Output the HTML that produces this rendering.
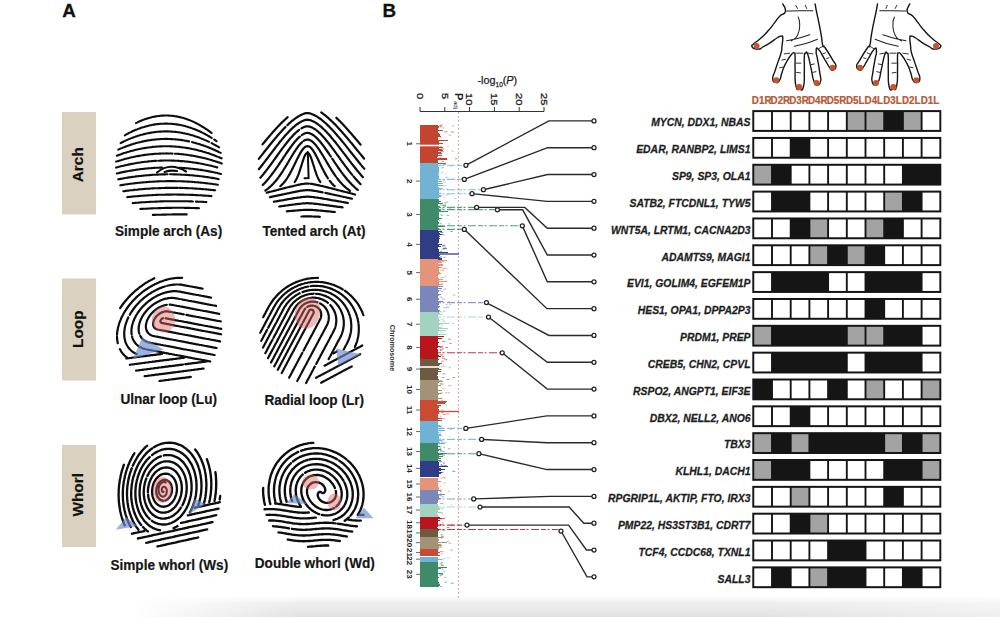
<!DOCTYPE html>
<html><head><meta charset="utf-8"><style>
html,body{margin:0;padding:0;background:#fff;}
body{width:1000px;height:617px;overflow:hidden;position:relative;}
svg{position:absolute;left:0;top:0;}
.shade{position:absolute;left:0;top:596px;width:1000px;height:21px;
background:linear-gradient(to bottom, rgba(226,226,226,0) 0%, rgba(232,232,232,0.75) 35%, rgba(226,226,226,1) 100%);
-webkit-mask-image:linear-gradient(to right, rgba(0,0,0,0) 130px, rgba(0,0,0,1) 300px, rgba(0,0,0,1) 760px, rgba(0,0,0,0.55) 1000px);}
</style></head><body>
<div class="shade"></div>
<svg width="1000" height="617" viewBox="0 0 1000 617" font-family='"Liberation Sans", sans-serif'>
<text transform="translate(62.2,17.4)" font-size="18.8" font-weight="bold" fill="#111" stroke="#111" stroke-width="0.3">A</text>
<text transform="translate(382.6,17.4)" font-size="18.8" font-weight="bold" fill="#111" stroke="#111" stroke-width="0.3">B</text>
<rect x="62" y="112" width="34" height="102.5" fill="#dad1c0"/>
<text x="0" y="0" transform="translate(82.6,164.75) rotate(-90)" text-anchor="middle" font-size="15.4" font-weight="bold" fill="#111" stroke="#111" stroke-width="0.2">Arch</text>
<rect x="62" y="278.5" width="34" height="102.0" fill="#dad1c0"/>
<text x="0" y="0" transform="translate(82.6,329.2) rotate(-90)" text-anchor="middle" font-size="15.4" font-weight="bold" fill="#111" stroke="#111" stroke-width="0.2">Loop</text>
<rect x="62" y="445" width="34" height="102" fill="#dad1c0"/>
<text x="0" y="0" transform="translate(82.6,494.8) rotate(-90)" text-anchor="middle" font-size="15.4" font-weight="bold" fill="#111" stroke="#111" stroke-width="0.2">Whorl</text>
<text transform="translate(168.6,236) scale(1,1.12)" text-anchor="middle" font-size="13.6" font-weight="bold" fill="#151515" stroke="#151515" stroke-width="0.2">Simple arch (As)</text>
<text transform="translate(314,236) scale(1,1.12)" text-anchor="middle" font-size="13.6" font-weight="bold" fill="#151515" stroke="#151515" stroke-width="0.2">Tented arch (At)</text>
<text transform="translate(168.7,403.5) scale(1,1.12)" text-anchor="middle" font-size="13.6" font-weight="bold" fill="#151515" stroke="#151515" stroke-width="0.2">Ulnar loop (Lu)</text>
<text transform="translate(314.2,404.7) scale(1,1.12)" text-anchor="middle" font-size="13.6" font-weight="bold" fill="#151515" stroke="#151515" stroke-width="0.2">Radial loop (Lr)</text>
<text transform="translate(169.3,569.8) scale(1,1.12)" text-anchor="middle" font-size="13.6" font-weight="bold" fill="#151515" stroke="#151515" stroke-width="0.2">Simple whorl (Ws)</text>
<text transform="translate(314.8,567.6) scale(1,1.12)" text-anchor="middle" font-size="13.6" font-weight="bold" fill="#151515" stroke="#151515" stroke-width="0.2">Double whorl (Wd)</text>
<path d="M135.9 123.1 137.0 122.6 138.1 122.0 139.2 121.5 140.3 121.1 141.5 120.5 142.7 120.1 143.9 119.6 145.1 119.2 146.3 118.8 147.5 118.4 148.7 118.0 149.9 117.7 151.1 117.4 152.3 117.1 153.5 116.8 154.7 116.6 155.9 116.4 157.1 116.2 158.3 116.0 159.5 115.9 160.7 115.7 161.9 115.6 163.1 115.6 164.3 115.5 165.5 115.5 166.7 115.5 167.9 115.5 169.1 115.6 170.3 115.7 171.5 115.8 172.7 115.9 173.9 116.0 175.1 116.2 176.3 116.4 177.5 116.6 178.7 116.9 179.9 117.1 181.1 117.4 182.3 117.7 183.5 118.1 184.7 118.4 185.9 118.8 187.1 119.2 188.3 119.7 189.5 120.1 190.7 120.6 191.9 121.1 193.0 121.6 194.1 122.1 195.2 122.7 196.3 123.2 197.4 123.8 198.5 124.4 199.6 125.0 200.7 125.6 201.8 126.3 202.9 127.0 204.0 127.6 205.1 128.4 206.1 129.0 207.1 129.7 208.1 130.4 209.1 131.1 210.1 131.9 211.1 132.6 211.6 133.0M124.8 135.3 125.9 134.7 127.0 134.1 128.1 133.5 129.2 132.9 130.3 132.4 131.4 131.8 132.5 131.3 133.6 130.8 134.7 130.3 135.9 129.8 137.1 129.4 138.3 128.9 139.5 128.4 140.7 128.0 141.9 127.6 143.1 127.2 144.3 126.9 145.5 126.5 146.7 126.2 147.9 125.9 149.1 125.6 150.3 125.3 151.5 125.1 152.7 124.8 153.9 124.6 155.1 124.4 156.3 124.3 157.5 124.1 158.7 124.0 159.9 123.9 161.1 123.8 162.3 123.7 163.5 123.7 164.7 123.6 165.9 123.6 167.1 123.6 168.3 123.7 169.5 123.7 170.7 123.8 171.9 123.9 173.1 124.0 174.3 124.1 175.5 124.2 176.7 124.4 177.9 124.6 179.1 124.8 180.3 125.0 181.5 125.3 182.7 125.5 183.9 125.8 185.1 126.1 186.3 126.5 187.5 126.8 188.7 127.2 189.9 127.5 191.1 127.9 192.3 128.4 193.5 128.8 194.7 129.3 195.9 129.8 197.1 130.3 198.3 130.8 199.4 131.3 200.5 131.8 201.6 132.3 202.7 132.9 203.8 133.4 204.9 134.0 206.0 134.6 207.1 135.2 208.2 135.8 209.3 136.5 210.4 137.2 211.5 137.8 211.8 138.0M214.1 139.5 215.1 140.2 216.1 140.9 216.6 141.2M120.6 143.1 121.7 142.5 122.8 142.0 123.9 141.4 125.0 140.9 126.1 140.4 127.2 139.9 128.4 139.4 129.6 138.9 130.8 138.4 132.0 137.9 133.2 137.5 134.4 137.1 135.6 136.6 136.8 136.2 138.0 135.8 139.2 135.5 140.4 135.1 141.6 134.8 142.8 134.5 144.0 134.1 145.2 133.9 146.4 133.6 147.6 133.3 148.8 133.1 150.0 132.9 151.2 132.6 152.4 132.5 153.6 132.3 154.8 132.1 156.0 132.0 157.2 131.8 158.4 131.7 159.6 131.6 160.8 131.6 162.0 131.5 163.2 131.5 164.4 131.4 165.6 131.4 166.8 131.4 168.0 131.4 169.2 131.5 170.4 131.5 171.6 131.6 172.8 131.7 174.0 131.8 175.2 131.9 176.4 132.0 177.6 132.2 178.8 132.3 180.0 132.5 181.2 132.7 182.4 132.9 183.6 133.2 184.8 133.4 186.0 133.7 187.2 133.9 188.4 134.2 189.6 134.6 190.8 134.9 192.0 135.2 193.2 135.6 194.4 136.0 195.6 136.4 196.8 136.8 198.0 137.2 199.2 137.6 200.4 138.1 201.6 138.6 202.8 139.1 204.0 139.6 205.2 140.1 206.3 140.6 207.4 141.1 208.5 141.6 208.9 141.8M211.5 143.1 212.6 143.7 213.7 144.3 214.8 144.9 215.9 145.5 217.0 146.1 218.1 146.7 219.1 147.3M118.2 149.6 119.3 149.1 120.5 148.6 121.7 148.1 122.9 147.6 124.1 147.2 125.3 146.7 126.5 146.2 127.7 145.8 128.9 145.4 130.1 145.0 131.3 144.6 132.5 144.2 133.7 143.8 134.9 143.5 136.1 143.1 137.3 142.8 138.5 142.5 139.7 142.2 140.9 141.9 142.1 141.6 143.3 141.4 144.5 141.1 145.7 140.9 146.9 140.6 148.1 140.4 149.3 140.2 150.5 140.1 151.7 139.9 152.9 139.7 154.1 139.6 155.3 139.5 156.5 139.4 157.7 139.3 158.9 139.2 160.1 139.1 161.3 139.0 162.5 139.0 163.7 139.0 164.9 138.9 166.1 138.9 167.3 138.9 168.5 139.0 169.7 139.0 170.9 139.1 172.1 139.1 173.3 139.2 174.5 139.3 175.7 139.4 176.9 139.5 178.1 139.6 179.3 139.8 180.5 139.9 181.7 140.1 182.9 140.3 184.1 140.5 185.3 140.7 186.5 140.9 187.7 141.1 188.9 141.4 189.1 141.4M192.0 142.1 193.2 142.4 194.4 142.7 195.6 143.0 196.8 143.4 198.0 143.7 199.2 144.1 200.4 144.5 201.6 144.9 202.8 145.3 204.0 145.7 205.2 146.1 206.4 146.6 207.6 147.0 208.8 147.5 210.0 148.0 211.2 148.5 212.4 149.0 213.5 149.5 214.6 150.0 215.7 150.5 216.8 151.0 217.9 151.5 219.0 152.1 220.1 152.6 220.7 152.9M116.8 155.7 118.0 155.2 119.2 154.8 120.4 154.4 121.6 154.0 122.8 153.5 124.0 153.1 125.2 152.8 126.4 152.4 127.6 152.0 128.8 151.7 130.0 151.3 131.2 151.0 132.4 150.7 133.6 150.4 134.8 150.1 136.0 149.8 137.2 149.5 138.4 149.2 139.6 149.0 140.8 148.7 142.0 148.5 143.2 148.3 144.4 148.1 145.6 147.9 146.8 147.7 148.0 147.5 149.2 147.4 150.4 147.2 151.6 147.1 152.8 146.9 154.0 146.8 155.2 146.7 156.4 146.6 157.6 146.5 158.8 146.5 160.0 146.4 161.2 146.4 162.4 146.3 163.6 146.3 164.8 146.3 166.0 146.3 167.2 146.3 168.4 146.3 169.6 146.3 170.8 146.4 172.0 146.4 173.2 146.5 174.4 146.5 175.6 146.6 176.8 146.7 178.0 146.8 179.2 146.9 180.4 147.1 181.6 147.2 182.8 147.4 184.0 147.5 185.2 147.7 186.4 147.9 187.6 148.1 188.8 148.3 190.0 148.5 191.2 148.7 192.4 149.0 193.6 149.2 194.8 149.5 196.0 149.8 197.2 150.1 198.4 150.4 199.6 150.7 200.8 151.0 202.0 151.3 203.2 151.7 204.4 152.0 205.6 152.4 206.8 152.8 208.0 153.1 209.2 153.5 210.4 154.0 211.6 154.4 212.8 154.8 214.0 155.2 215.2 155.7 216.4 156.2 217.4 156.6M219.0 157.2 220.2 157.7 221.4 158.2 221.6 158.3M116.1 161.6 117.3 161.3 118.5 160.9 119.7 160.5 120.9 160.2 122.1 159.8 123.3 159.5 124.5 159.1 125.7 158.8 126.9 158.5 128.1 158.2 129.3 157.9 130.5 157.6 131.7 157.3 132.9 157.1 134.1 156.8 135.3 156.6 136.5 156.3 137.7 156.1 138.9 155.9 140.1 155.7 141.3 155.5 142.5 155.3 143.7 155.1 144.9 154.9 146.1 154.8 147.3 154.6 148.5 154.5 149.7 154.3 150.9 154.2 152.1 154.1 153.3 154.0 154.5 153.9 155.7 153.8 156.9 153.7 158.1 153.7 159.3 153.6 160.5 153.6 161.7 153.5 162.9 153.5 164.1 153.5 165.3 153.5 166.5 153.4 167.7 153.5 168.9 153.5 170.1 153.5 171.3 153.5 172.5 153.6M174.9 153.7 176.1 153.8 177.3 153.8 178.5 153.9 179.7 154.0 180.9 154.1 182.1 154.3 183.3 154.4 184.5 154.5 185.7 154.7 186.9 154.8 188.1 155.0 189.3 155.2 190.5 155.4 191.7 155.6 192.9 155.8 194.1 156.0 195.3 156.2 196.5 156.4 197.7 156.7 198.9 156.9 200.1 157.2 201.3 157.4 202.5 157.7 203.7 158.0 204.9 158.3 206.1 158.6 207.3 158.9 208.5 159.3 209.7 159.6 210.9 159.9 212.1 160.3 213.3 160.7 214.5 161.0 215.7 161.4 216.9 161.8 218.1 162.2 219.3 162.6 220.5 163.0 221.7 163.5 221.9 163.5M116.1 167.6 117.3 167.2 118.5 166.9 119.7 166.6 120.9 166.3 122.1 166.0 123.3 165.7 124.5 165.4 125.7 165.2 126.9 164.9 128.1 164.6 129.3 164.4 130.5 164.1 131.7 163.9 132.9 163.7 134.1 163.5 135.3 163.2 136.5 163.0 137.7 162.8 138.9 162.7 140.1 162.5 141.3 162.3 142.5 162.1 143.7 162.0 144.9 161.8 146.1 161.7 147.3 161.6 148.5 161.4 149.7 161.3 150.9 161.2 152.1 161.1 153.3 161.0 154.5 160.9 155.7 160.9 156.4 160.8M158.3 160.7 159.5 160.7 160.7 160.6 161.9 160.6 163.1 160.5 164.3 160.5 165.5 160.5 166.7 160.5 167.9 160.5 169.1 160.5 170.3 160.5 171.5 160.6 172.7 160.6 173.9 160.6 175.1 160.7 176.3 160.7 177.5 160.8 178.7 160.9 179.9 161.0 181.1 161.1 182.3 161.1 183.5 161.3 184.7 161.4 185.9 161.5 187.1 161.6 188.3 161.8 189.5 161.9 190.7 162.0 191.9 162.2 193.1 162.4 194.3 162.5 195.5 162.7 196.7 162.9 197.9 163.1 199.1 163.3 200.3 163.5 201.5 163.8 202.7 164.0 203.9 164.2 205.1 164.5 206.3 164.7 207.5 165.0 208.7 165.3 209.9 165.5 211.1 165.8 212.3 166.1 213.5 166.4 214.7 166.7 215.9 167.0 217.1 167.4 217.3 167.4M116.8 173.5 118.0 173.2 119.2 172.9 120.4 172.6 121.6 172.4 122.8 172.1 124.0 171.9 125.2 171.6 126.4 171.4 127.6 171.2 128.8 171.0 130.0 170.8 131.2 170.6 132.4 170.4 133.6 170.2 134.8 170.0 136.0 169.8 137.2 169.6 138.4 169.5 139.6 169.3 140.8 169.1 142.0 169.0 143.2 168.9 144.4 168.7 145.6 168.6 146.8 168.5 148.0 168.4 149.2 168.3 150.4 168.2 151.6 168.1 152.8 168.0 154.0 167.9 155.2 167.8 156.4 167.8 157.6 167.7 158.8 167.7 160.0 167.6 161.2 167.6 162.0 167.5M179.1 167.7 180.3 167.8 181.5 167.9 182.7 168.0 183.9 168.0 185.1 168.1 186.3 168.2 187.5 168.3 188.7 168.5 189.9 168.6 191.1 168.7 192.3 168.8 193.5 169.0 194.7 169.1 195.9 169.3 197.1 169.4 198.3 169.6 199.5 169.8 200.7 169.9 201.9 170.1 203.1 170.3 204.3 170.5 205.5 170.7 206.7 170.9 207.9 171.1 209.1 171.4 210.3 171.6 211.5 171.8 212.7 172.1 213.9 172.3 215.1 172.6 216.3 172.8 217.5 173.1 218.7 173.4 219.9 173.7 221.1 174.0M118.2 179.3 119.4 179.1 120.6 178.9 121.8 178.7 123.0 178.4 124.2 178.2 125.4 178.0 126.6 177.8 127.8 177.6 129.0 177.4 130.2 177.3 131.4 177.1 132.6 176.9 133.8 176.7 135.0 176.6 136.2 176.4 137.4 176.3 138.6 176.1 139.8 176.0 141.0 175.9 142.2 175.7 143.4 175.6 144.6 175.5 145.8 175.4 147.0 175.3 148.2 175.2 149.4 175.1 150.6 175.0 151.8 174.9 153.0 174.8 154.2 174.8 155.4 174.7 156.6 174.6 157.8 174.6 159.0 174.5 160.2 174.5 161.4 174.4 162.6 174.4 163.8 174.4 165.0 174.4 166.2 174.3 167.4 174.3 167.6 174.3M170.1 174.3 171.3 174.3 172.5 174.3 173.7 174.4 174.9 174.4 176.1 174.4 177.3 174.5 178.5 174.5 179.7 174.5 180.9 174.6 182.1 174.7 183.3 174.7 184.5 174.8 185.7 174.9 186.9 174.9 188.1 175.0 189.3 175.1 190.5 175.2 191.7 175.3 192.9 175.4 194.1 175.5 195.3 175.7 196.5 175.8 197.7 175.9 198.9 176.0 200.1 176.2 201.3 176.3 202.5 176.5 203.7 176.6 204.9 176.8 206.1 177.0 207.3 177.1 208.5 177.3 209.7 177.5 210.9 177.7 212.1 177.9 213.3 178.1 214.5 178.3 215.7 178.5 216.9 178.7 218.1 179.0 218.7 179.1M120.3 185.3 121.5 185.1 122.7 184.9 123.9 184.7 125.1 184.5 126.3 184.3 127.5 184.2 128.7 184.0 129.9 183.8 131.1 183.7 132.3 183.5 133.5 183.4 134.7 183.2 135.9 183.1 137.1 183.0 138.3 182.8 139.5 182.7 140.7 182.6 141.9 182.5 143.1 182.4 144.3 182.3 145.5 182.2 146.7 182.1 147.9 182.0 149.1 181.9 150.3 181.8 151.5 181.7 152.7 181.7 153.9 181.6 155.1 181.5 156.3 181.5 157.5 181.4 158.7 181.4 159.9 181.3 161.1 181.3 162.3 181.2 163.5 181.2 164.7 181.2 165.9 181.2 167.1 181.1 168.3 181.1 169.5 181.1 170.7 181.1 171.9 181.1 173.1 181.1 174.3 181.1 175.5 181.2 176.7 181.2 177.9 181.2 179.1 181.2 180.3 181.3 181.5 181.3 182.7 181.4 183.9 181.4 185.1 181.5 186.3 181.5 187.5 181.6 188.7 181.6 189.9 181.7 191.1 181.8 192.3 181.9 193.5 182.0 194.7 182.1 195.9 182.2 197.1 182.3 198.3 182.4 199.5 182.5 200.7 182.6 201.9 182.7 203.1 182.8 204.3 183.0 205.5 183.1 206.7 183.2 207.9 183.4 209.1 183.5 210.3 183.7 211.5 183.8 212.7 184.0 213.9 184.2 215.1 184.3 216.3 184.5 217.5 184.7 217.9 184.7M123.3 191.2 124.5 191.1 125.7 190.9 126.9 190.8 128.1 190.6 129.3 190.5 130.5 190.3 131.7 190.2 132.9 190.1 134.1 189.9 135.3 189.8 136.5 189.7 137.7 189.6 138.9 189.4 140.1 189.3 141.3 189.2 142.5 189.1 143.7 189.0 144.9 188.9 146.1 188.8 147.3 188.8 148.5 188.7 149.7 188.6 150.9 188.5 152.1 188.4 153.3 188.4 154.5 188.3 155.7 188.3 156.9 188.2 158.1 188.2 159.3 188.1 160.5 188.1 161.7 188.0 162.9 188.0 164.1 188.0 165.3 187.9 166.5 187.9 167.7 187.9 168.9 187.9 170.1 187.9 171.3 187.9 172.5 187.9 173.7 187.9 174.9 187.9 176.1 187.9 177.3 187.9 177.9 187.9M179.8 187.9 181.0 187.9 182.2 188.0 183.4 188.0 184.6 188.0 185.8 188.1 187.0 188.1 188.2 188.2 189.4 188.2 190.6 188.3 191.8 188.3 193.0 188.4 194.2 188.5 195.4 188.6 196.6 188.6 197.8 188.7 199.0 188.8 200.2 188.9 201.4 189.0 202.6 189.1 203.8 189.2 205.0 189.3 206.2 189.4 207.4 189.5 208.6 189.6 209.8 189.7 211.0 189.9 212.2 190.0 213.4 190.1 214.6 190.3 215.2 190.3M127.3 197.1 128.5 197.0 129.7 196.9 130.9 196.8 132.1 196.6 133.3 196.5 134.5 196.4 135.7 196.3 136.9 196.2 138.1 196.1 139.3 196.0 140.5 195.9 141.7 195.8 142.9 195.7 144.1 195.6 145.3 195.5 146.5 195.5 147.7 195.4 148.9 195.3 150.1 195.2 151.3 195.2 152.5 195.1 153.7 195.0 154.9 195.0 156.1 194.9 157.3 194.9 158.5 194.8 159.7 194.8 160.9 194.8 162.1 194.7 163.3 194.7 164.5 194.7 165.7 194.6 166.9 194.6 168.1 194.6 169.3 194.6 170.5 194.6 171.7 194.6 172.9 194.5 174.1 194.5 175.3 194.5 176.5 194.5 177.7 194.6 178.9 194.6 180.1 194.6 181.3 194.6 182.5 194.6 183.7 194.6 184.9 194.7 186.1 194.7 187.3 194.7 188.5 194.8 189.7 194.8 190.9 194.9 192.1 194.9 193.3 194.9 194.5 195.0 195.7 195.1 196.9 195.1 198.1 195.2 199.3 195.3 200.5 195.3 201.7 195.4 202.9 195.5 204.1 195.6 205.3 195.6 206.5 195.7 207.7 195.8 208.9 195.9 210.1 196.0 211.3 196.1 211.5 196.1M132.7 203.1 133.9 203.0 135.1 202.9 136.3 202.8 137.5 202.7 138.7 202.6 139.9 202.5 141.1 202.4 142.3 202.3 143.5 202.2 144.7 202.2 145.9 202.1 147.1 202.0 148.3 202.0 149.5 201.9 150.7 201.8 151.9 201.8 153.1 201.7 154.3 201.7 155.5 201.6 156.7 201.6 157.9 201.5 159.1 201.5 160.3 201.4 161.5 201.4 162.7 201.4 163.9 201.3 165.1 201.3 166.3 201.3 167.5 201.3 168.7 201.2 169.9 201.2 171.1 201.2 172.3 201.2 173.5 201.2 174.7 201.2 175.9 201.2 177.1 201.2 178.3 201.2 179.5 201.2 180.7 201.2 181.9 201.2 183.1 201.2 184.3 201.3 185.5 201.3 186.7 201.3 187.9 201.3 189.1 201.4 190.3 201.4 191.5 201.4 192.7 201.5 192.9 201.5M195.9 201.6 197.1 201.6 198.3 201.7 199.5 201.7 200.7 201.8 201.9 201.8 203.1 201.9 204.3 202.0 205.5 202.0 206.3 202.1M140.3 209.0 141.5 208.9 142.7 208.9 143.9 208.8 145.1 208.7 146.3 208.7 147.5 208.6 148.7 208.5 149.9 208.5 151.1 208.4 152.3 208.4 153.5 208.3 154.7 208.3 155.9 208.2 157.1 208.2 158.3 208.1 159.5 208.1 160.7 208.1 161.9 208.0 163.1 208.0 164.3 208.0 165.5 207.9 166.7 207.9 167.9 207.9 169.1 207.9 170.3 207.9 171.5 207.9 172.7 207.8 173.9 207.8 175.1 207.8 176.3 207.8 177.5 207.8 178.7 207.8 179.9 207.8 181.1 207.8 182.3 207.8 183.5 207.8 184.7 207.9 185.9 207.9 187.1 207.9 188.3 207.9 189.5 207.9 190.7 208.0 191.9 208.0 193.1 208.0 194.3 208.0 195.5 208.1 196.7 208.1 197.9 208.1 199.0 208.2M152.8 214.9 154.0 214.9 155.2 214.9 156.4 214.8 157.6 214.8 158.8 214.7 160.0 214.7 161.2 214.7 162.4 214.6 163.6 214.6 164.8 214.6 166.0 214.6 167.2 214.5 168.4 214.5 169.6 214.5 170.8 214.5 172.0 214.5 173.2 214.4 174.4 214.4 175.6 214.4 176.8 214.4 178.0 214.4 179.2 214.4 180.4 214.4 181.6 214.4 182.8 214.4 184.0 214.4 185.2 214.4 186.4 214.4 186.7 214.4" fill="none" stroke="#0d0d0d" stroke-width="2.1" stroke-linecap="round" stroke-linejoin="round"/>
<path d="M157 172.5 Q170 161.5 186 171.5 M164.5 172 Q171 169.8 177 171" fill="none" stroke="#0d0d0d" stroke-width="2.1" stroke-linecap="round"/>
<path d="M294.7 182.0 295.4 180.9 296.1 179.7 296.7 178.6 297.3 177.3 297.8 176.1 298.3 174.9 298.8 173.5 299.3 172.1 299.7 170.9 300.1 169.7 300.5 168.4 300.9 167.2 301.3 165.9 301.7 164.6 302.1 163.3 302.5 162.0 302.9 160.8 303.3 159.6 303.8 158.2 304.3 156.9 304.8 155.8 305.4 154.6 306.1 153.6 307.1 152.8 308.3 153.0 309.2 154.0 309.9 155.2 310.5 156.5 311.0 157.7 311.5 159.1 311.9 160.2 312.3 161.4 312.7 162.7 313.1 164.0 313.5 165.2 313.9 166.5 314.3 167.8 314.7 169.1 315.1 170.3 315.5 171.5 315.9 172.7 316.4 174.1 316.9 175.4 317.4 176.6 317.9 177.7 318.5 179.0 319.1 180.1 319.8 181.2 320.3 182.0M280.3 186.2 281.2 185.4 282.1 184.5 283.0 183.6 283.8 182.7 284.6 181.7 285.4 180.7 286.2 179.6 286.9 178.6 287.6 177.5 288.3 176.3 289.0 175.2 289.6 174.1 290.2 173.0 290.8 171.9 291.4 170.8 292.0 169.6 292.6 168.4 293.2 167.2 293.8 166.0 294.4 164.8 295.0 163.5 295.6 162.3 296.2 161.0 296.8 159.8 297.4 158.6 298.0 157.4 298.6 156.2 299.2 155.1 299.8 154.0 300.4 152.9 301.1 151.8 301.8 150.7 302.5 149.7 303.3 148.7 304.2 147.7 305.2 146.9 306.3 146.3 307.5 146.1 308.7 146.3 309.8 146.9 310.8 147.7 311.7 148.7 312.5 149.7 313.2 150.7 313.9 151.8 314.6 152.9 315.2 154.0 315.8 155.1 316.4 156.2 317.0 157.4 317.6 158.6 318.2 159.8 318.8 161.0 319.4 162.3 320.0 163.5 320.6 164.8 321.2 166.0 321.8 167.2 322.4 168.4 323.0 169.6 323.6 170.8 324.2 171.9 324.8 173.0 325.4 174.1 326.0 175.2 326.7 176.3 327.4 177.5 328.0 178.4M329.7 180.8 330.5 181.8 331.3 182.8 332.1 183.7 333.0 184.6 333.9 185.5 334.7 186.2M265.4 190.5 266.4 189.8 267.4 189.1 268.4 188.3 269.4 187.4 270.3 186.6 271.2 185.8 272.1 184.9 273.0 184.0 273.9 183.0 274.7 182.1 275.5 181.2 276.3 180.2 277.1 179.2 277.9 178.2 278.7 177.1 279.5 176.0 280.2 175.0 280.9 174.0 281.6 172.9 282.3 171.8 283.0 170.8 283.7 169.6 284.4 168.5 285.1 167.4 285.8 166.2 286.5 165.1 287.2 163.9 287.9 162.7 288.6 161.5 289.3 160.3 290.0 159.1 290.7 158.0 291.4 156.8 292.1 155.6 292.8 154.5 293.5 153.3 294.2 152.2 294.9 151.1 295.6 150.1 296.3 149.0 297.0 148.1 297.8 147.0 298.6 145.9 299.4 144.9 300.2 144.0 301.1 143.1 302.0 142.2M303.6 140.9 304.7 140.3 305.9 139.8 307.1 139.5 308.3 139.6 309.5 139.9 310.6 140.4 311.7 141.1 312.7 141.9 313.6 142.8 314.5 143.7 315.3 144.6 316.1 145.5 316.9 146.6 317.7 147.6 318.4 148.6 319.1 149.6 319.8 150.7 320.5 151.8 321.2 152.9 321.9 154.0 322.6 155.1 323.3 156.3 324.0 157.5 324.7 158.6 325.4 159.8 326.1 161.0 326.8 162.2 327.5 163.4 328.2 164.6 328.9 165.7 329.6 166.9 330.3 168.0 331.0 169.2 331.7 170.3 332.4 171.4 333.1 172.5 333.8 173.5 334.5 174.5 335.2 175.6 335.8 176.4M336.9 177.9 337.7 178.9 338.5 180.0 339.3 180.9 340.1 181.9 340.9 182.8 341.8 183.8 342.7 184.7 343.6 185.6 344.5 186.4 345.4 187.2 346.4 188.1 347.4 188.9 348.4 189.7 349.4 190.4 350.0 190.8M262.7 185.0 263.6 184.1 264.5 183.2 265.4 182.2 266.3 181.2 267.1 180.3 267.9 179.3 268.7 178.4 269.5 177.4 270.3 176.4 271.1 175.4 271.9 174.3 272.7 173.3 273.5 172.2 274.3 171.1 275.0 170.1 275.7 169.1 276.4 168.1 277.1 167.1 277.8 166.1 278.5 165.1 279.2 164.0 279.9 163.0 280.6 161.9 281.3 160.9 282.0 159.8 282.7 158.8 283.4 157.7 284.1 156.7 284.8 155.6 285.5 154.6 286.2 153.5 286.9 152.5 287.6 151.5 288.3 150.5 289.0 149.5 289.7 148.5 290.4 147.5 291.2 146.4 292.0 145.3 292.8 144.3 293.6 143.3 294.4 142.3 295.2 141.3 296.0 140.4 296.9 139.4 297.8 138.5 298.7 137.6 299.6 136.8 299.9 136.6M301.8 135.1 302.9 134.4 304.0 133.8 305.2 133.3 306.4 133.0 307.6 132.9 308.8 133.0 310.0 133.4 311.2 133.9 312.3 134.5 313.4 135.2 314.4 136.0 315.4 136.8 316.3 137.6 317.2 138.5 318.1 139.4 319.0 140.4 319.8 141.3 320.6 142.3 321.4 143.3 322.2 144.3 323.0 145.3 323.8 146.4 324.6 147.5 325.3 148.5 326.0 149.5 326.7 150.5 327.4 151.5 328.1 152.5 328.8 153.5 329.5 154.6 330.2 155.6 330.8 156.5M332.2 158.6 332.9 159.7 333.6 160.7 334.3 161.8 335.0 162.8 335.7 163.9 336.4 164.9 337.1 165.9 337.8 167.0 338.5 168.0 339.2 169.0 339.9 170.0 340.6 170.9 341.4 172.1 342.2 173.1 343.0 174.2 343.8 175.2 344.6 176.3 345.4 177.3 346.2 178.3 347.0 179.2 347.8 180.2 348.6 181.1 349.5 182.1 350.4 183.0 351.3 184.0 352.2 184.9 353.1 185.8 354.0 186.6 354.9 187.5 355.8 188.3 356.8 189.1 357.8 190.0 357.9 190.0M260.3 177.8 261.1 176.9 261.9 175.9 262.7 175.0 263.5 174.0 264.3 173.0 265.1 172.0 265.9 171.0 266.7 169.9 267.5 168.9 268.3 167.8 269.1 166.8 269.9 165.7 270.7 164.6 271.5 163.5 272.3 162.4 273.1 161.3 273.9 160.2 274.7 159.1 275.5 158.0 276.2 157.0 276.9 156.0 277.6 155.0 278.4 153.9 279.2 152.8 280.0 151.7 280.8 150.6 281.6 149.5 282.4 148.4 283.2 147.4 284.0 146.3 284.8 145.2 285.6 144.2 286.4 143.2 287.2 142.2 288.0 141.2 288.8 140.2 289.6 139.2 290.4 138.3 291.2 137.4 292.1 136.4 293.0 135.4 293.9 134.5 294.8 133.6 295.7 132.8 296.6 132.0 297.6 131.1 298.6 130.3 299.1 129.9M301.4 128.4 302.5 127.7 303.6 127.2 304.8 126.8 306.0 126.4 307.2 126.3 308.4 126.4 309.6 126.6 310.8 127.0 312.0 127.5 313.1 128.1 314.2 128.7 315.2 129.4 316.2 130.1 317.2 130.9 318.2 131.8 319.1 132.6 320.0 133.4 320.9 134.3 321.8 135.2 322.7 136.2 323.6 137.2 324.4 138.1 325.2 139.0 326.0 140.0 326.8 140.9 327.6 141.9 328.4 142.9 329.2 143.9 330.0 145.0 330.8 146.0 331.6 147.1 332.4 148.2 333.2 149.2 334.0 150.3 334.8 151.4 335.6 152.5 336.4 153.7 337.2 154.8 337.9 155.7 338.6 156.7 339.3 157.7 340.0 158.7 340.8 159.8 341.6 160.9 342.4 162.0 343.2 163.1 344.0 164.2 344.8 165.3 345.6 166.4 346.4 167.4 347.2 168.5 348.0 169.5 348.8 170.6 349.6 171.6 350.4 172.6 351.2 173.6 352.0 174.6 352.2 174.8M353.5 176.4 354.3 177.3 355.1 178.3 355.9 179.2 356.7 180.1 357.6 181.1 358.5 182.0 359.4 183.0 360.3 183.9 360.6 184.2M258.8 169.2 259.6 168.2 260.4 167.2 261.2 166.2 262.0 165.2 262.8 164.2 263.6 163.2 264.4 162.1 265.2 161.1 266.0 160.0 266.8 159.0 267.6 158.0 268.4 156.9 269.2 155.8 270.0 154.8 270.8 153.7 271.6 152.7 272.4 151.6 273.2 150.6 274.0 149.5 274.8 148.5 275.6 147.4 276.4 146.4 277.2 145.4 278.0 144.4 278.8 143.3 279.6 142.3 280.4 141.3 281.2 140.4 282.0 139.4 282.8 138.4 283.6 137.5 284.4 136.5 285.2 135.6 286.0 134.7 286.9 133.7 287.8 132.7 288.7 131.8 289.6 130.9 290.5 130.0 291.4 129.1 292.3 128.2 293.2 127.4 294.2 126.6 295.2 125.7 296.2 124.9 297.2 124.2 298.2 123.5 299.3 122.7 300.4 122.1 301.5 121.5 302.6 120.9 303.8 120.4 305.0 120.1 306.2 119.8 307.4 119.7 308.6 119.8 309.8 120.0 311.0 120.4 312.2 120.9 313.3 121.4 314.4 122.0 315.5 122.6 316.6 123.3 317.6 124.0 318.6 124.8 319.6 125.6 320.6 126.4 321.6 127.2 322.5 128.1 323.3 128.8M324.5 130.0 325.4 130.9 326.3 131.8 327.2 132.7 328.1 133.7 329.0 134.7 329.8 135.6 330.6 136.5 331.4 137.5 332.2 138.4 333.0 139.4 333.8 140.4 334.6 141.3 335.4 142.3 336.2 143.3 337.0 144.4 337.8 145.4 338.6 146.4 339.4 147.4 340.2 148.5 341.0 149.5 341.8 150.6 342.6 151.6 343.4 152.7 344.2 153.7 345.0 154.8 345.8 155.8 346.6 156.9 347.4 158.0 348.2 159.0 349.0 160.0 349.8 161.1 350.6 162.1 351.4 163.2 352.2 164.2 353.0 165.2 353.8 166.2 354.6 167.2 355.4 168.2 356.2 169.2 357.0 170.2 357.8 171.2 358.6 172.1 359.4 173.1 360.2 174.0 361.0 175.0 361.8 175.9 362.6 176.8 362.9 177.1M258.8 158.9 259.6 157.9 260.4 156.9 261.2 155.9 262.0 154.9 262.8 153.9 263.6 152.8 264.4 151.8 265.2 150.8 266.0 149.8 266.8 148.8 267.6 147.8 268.4 146.8 269.2 145.8 270.0 144.8 270.8 143.8 271.6 142.8 272.4 141.8 273.2 140.8 274.0 139.9 274.8 138.9 275.6 137.9 276.4 137.0 277.2 136.0 278.0 135.1 278.8 134.2 279.6 133.3 280.4 132.4 281.3 131.4 282.2 130.4 283.1 129.4 284.0 128.5 284.9 127.6 285.5 127.0M287.4 125.1 288.3 124.2 289.2 123.4 290.1 122.6 291.1 121.7 292.1 120.9 293.1 120.1 294.1 119.3 295.1 118.6 296.1 117.9 297.1 117.2 298.2 116.5 299.3 115.9 300.4 115.3 301.5 114.7 302.6 114.2 303.8 113.8 305.0 113.4 306.2 113.2 307.4 113.1 308.6 113.2 309.8 113.4 311.0 113.7 312.2 114.2 313.4 114.7 314.5 115.2 315.6 115.8 316.7 116.4 317.8 117.1 318.8 117.8 319.8 118.5 320.8 119.2 321.8 120.0 322.8 120.8 323.8 121.7 324.8 122.5 325.7 123.3 326.6 124.1 327.5 125.0 328.4 125.9 329.3 126.8 330.2 127.7 331.1 128.6 332.0 129.5 332.9 130.5 333.8 131.5 334.7 132.5 335.5 133.4 336.3 134.3 337.1 135.2 337.9 136.2 338.7 137.1 339.5 138.1 340.3 139.0 341.1 140.0 341.9 141.0 342.7 141.9 343.5 142.9 344.3 143.9 345.1 144.9 345.9 145.9 346.7 146.9 347.5 147.9 348.3 148.9 349.1 149.9 349.9 151.0 350.7 152.0 351.5 153.0 352.3 154.0 353.1 155.0 353.9 156.0 354.7 157.0 355.5 158.0 356.3 159.0 357.1 160.0 357.9 161.0 358.7 162.0 359.5 163.0 360.3 164.0 360.7 164.5M361.7 165.7 362.5 166.7 363.3 167.6 364.1 168.6 364.3 168.8M262.5 144.4 263.3 143.4 264.1 142.5 264.9 141.5 265.7 140.5 266.5 139.6 267.3 138.6 268.1 137.7 268.9 136.7 269.7 135.8 270.5 134.9 271.3 133.9 272.1 133.0 272.9 132.1 273.7 131.2 274.6 130.2 275.5 129.2 276.4 128.2 277.3 127.3 278.2 126.3 279.1 125.4 280.0 124.4 280.9 123.5 281.8 122.6 282.7 121.7 283.6 120.9 284.5 120.0 285.4 119.2 286.3 118.4 287.3 117.5 287.7 117.2M321.2 112.4 322.2 113.1 323.2 113.9 324.2 114.6 325.2 115.4 326.2 116.2 327.2 117.1 328.2 117.9 329.1 118.7 330.0 119.6 330.9 120.4 331.8 121.3 332.7 122.1 333.6 123.0 334.5 123.9 335.4 124.8 336.3 125.8 337.2 126.7 338.1 127.7 339.0 128.7 339.9 129.7 340.8 130.7 341.6 131.6 342.4 132.5 343.2 133.4 344.0 134.3 344.8 135.2 345.6 136.2 346.4 137.1 347.2 138.0 348.0 139.0 348.8 139.9 349.6 140.9 350.4 141.9 351.2 142.8 352.0 143.8 352.8 144.8 353.6 145.8 354.4 146.7 355.2 147.7 356.0 148.7 356.8 149.7 357.6 150.7 358.4 151.6 359.2 152.6 360.0 153.6 360.8 154.6 361.6 155.5 362.4 156.5 363.2 157.5 364.0 158.5 364.1 158.6M336.3 117.7 337.2 118.6 338.1 119.5 339.0 120.4 339.9 121.3 340.8 122.2 341.7 123.1 342.6 124.1 343.5 125.0 344.4 126.0 345.3 127.0 346.2 128.0 347.1 129.0 348.0 130.0 348.8 130.9 349.6 131.8 350.4 132.7 351.2 133.6 352.0 134.5 352.8 135.5 353.6 136.4 354.4 137.3 355.2 138.3 356.0 139.2 356.8 140.1 357.6 141.1 358.4 142.0 359.2 143.0 360.0 143.9 360.6 144.7M266.7 192.7 267.9 192.4 269.1 192.1 270.3 191.8 271.5 191.5 272.7 191.2 273.9 190.9 275.1 190.6 276.3 190.3 277.5 190.0 278.7 189.6 279.9 189.3 281.1 189.0 282.3 188.7 283.5 188.4 284.7 188.1 285.9 187.8 287.1 187.5 288.3 187.2 289.5 186.9 290.7 186.6 291.9 186.3 293.1 186.1 294.3 185.8 295.5 185.5 296.7 185.2 297.9 184.9 299.1 184.7 300.3 184.4 301.5 184.2 302.7 184.0 303.9 183.8 305.1 183.7 306.3 183.6 307.5 183.6 308.7 183.6 308.9 183.6M310.7 183.8 311.9 183.9 313.1 184.1 314.3 184.4 315.5 184.6 316.7 184.9 317.9 185.1 319.1 185.4 320.3 185.7 321.5 186.0 322.7 186.2 323.9 186.5 325.1 186.8 326.3 187.1 327.5 187.4 328.7 187.7 329.9 188.0 331.1 188.3 332.3 188.6 333.5 188.9 334.7 189.2 335.9 189.5 337.1 189.9 338.3 190.2 339.5 190.5 340.7 190.8 341.9 191.1 343.1 191.4 344.3 191.7 345.5 192.0 346.7 192.3 347.9 192.6 349.1 192.9 350.3 193.2 351.5 193.5 352.7 193.9 353.9 194.2 355.1 194.5M269.8 197.2 271.0 196.9 272.2 196.7 273.4 196.4 274.6 196.2 275.8 195.9 277.0 195.6 278.2 195.4 279.4 195.1 280.6 194.9 281.8 194.6 283.0 194.3 284.2 194.1 285.4 193.8 286.6 193.6 287.8 193.3 289.0 193.1 290.2 192.8 291.4 192.6 292.6 192.3 293.8 192.1 295.0 191.9 296.2 191.6 297.4 191.4 298.6 191.2 299.8 190.9 301.0 190.7 302.2 190.6 303.4 190.4 304.6 190.3 305.8 190.2 307.0 190.1 308.2 190.1 309.4 190.2 310.6 190.3 311.8 190.4 313.0 190.6 314.2 190.8 315.4 191.0 316.6 191.2 317.8 191.4 319.0 191.7 320.2 191.9 321.4 192.1 322.6 192.4 322.7 192.4M325.3 192.9 326.5 193.2 327.7 193.4 328.9 193.7 330.1 193.9 331.3 194.2 332.5 194.5 333.7 194.7 334.9 195.0 336.1 195.2 337.3 195.5 338.5 195.7 339.7 196.0 340.9 196.3 342.1 196.5 343.3 196.8 344.5 197.0 345.7 197.3 346.9 197.6 348.1 197.8 349.3 198.1 350.5 198.4 351.7 198.6 352.0 198.7M273.9 201.7 275.1 201.5 276.3 201.3 277.5 201.1 278.7 200.9 279.9 200.7 281.1 200.5 282.3 200.3 283.5 200.1 284.7 199.8 285.9 199.6 287.1 199.4 288.3 199.2 289.5 199.0 290.7 198.8 291.9 198.6 293.1 198.4 294.3 198.2 295.5 198.0 296.7 197.8 297.9 197.6 299.1 197.5 300.3 197.3 301.5 197.1 302.7 197.0 303.9 196.9 305.1 196.8 306.3 196.7 307.5 196.7 308.7 196.7 309.9 196.8 311.1 196.9 312.3 197.0 313.5 197.1 314.7 197.3 315.9 197.5 317.1 197.6 318.3 197.8 319.5 198.0 320.7 198.2 321.9 198.4 323.1 198.6 324.3 198.8 325.5 199.0 326.7 199.2 327.9 199.4 329.1 199.6 330.3 199.8 331.5 200.1 332.7 200.3 333.9 200.5 335.1 200.7 336.3 200.9 337.5 201.1 338.7 201.3 339.9 201.5 341.1 201.7 342.3 202.0 343.5 202.2 344.7 202.4 345.9 202.6 347.1 202.8 347.9 203.0M279.2 206.5 280.4 206.3 281.6 206.1 282.8 206.0 284.0 205.8 285.2 205.6 286.4 205.5 287.6 205.3 288.8 205.1 290.0 205.0 291.2 204.8 292.4 204.7 293.6 204.5 294.8 204.4 296.0 204.2 297.2 204.1 298.4 203.9 299.6 203.8 300.8 203.7 302.0 203.5 303.2 203.4 304.4 203.3 305.6 203.3 306.8 203.2 308.0 203.2 309.2 203.3 310.4 203.3 311.6 203.4 312.8 203.5 314.0 203.6 315.2 203.8 316.4 203.9 317.6 204.0 318.8 204.2 320.0 204.3 321.2 204.5 322.4 204.6 323.6 204.8 324.8 205.0 326.0 205.1 327.2 205.3 328.4 205.4 329.6 205.6 330.8 205.8 332.0 205.9 333.2 206.1 334.4 206.3 335.6 206.4 336.8 206.6 338.0 206.8 339.2 206.9 340.4 207.1 341.6 207.2 342.6 207.4M286.8 211.4 288.0 211.2 289.2 211.1 290.4 211.0 291.6 210.9 292.8 210.8 294.0 210.7 295.2 210.6 296.4 210.5 297.6 210.4 298.8 210.3 300.0 210.2 301.2 210.1 302.4 210.0 303.6 209.9 304.8 209.9 306.0 209.8 307.2 209.8 308.4 209.8 309.6 209.8 310.8 209.9 312.0 209.9 313.2 210.0 314.4 210.1 315.6 210.2 316.8 210.3 318.0 210.4 319.2 210.5 320.4 210.6 321.6 210.7 322.8 210.8 324.0 211.0 325.2 211.1 326.4 211.2 327.6 211.3 328.8 211.4 330.0 211.5 331.2 211.6 332.4 211.8 333.6 211.9 334.8 212.0 334.9 212.0M301.4 216.5 302.6 216.5 303.8 216.4 305.0 216.4 306.2 216.4 307.4 216.4 308.6 216.4 309.8 216.4 311.0 216.4 312.2 216.5 313.4 216.5 314.6 216.6 315.8 216.6 317.0 216.7 318.2 216.7 319.4 216.8 319.9 216.8" fill="none" stroke="#0d0d0d" stroke-width="2.2" stroke-linecap="round" stroke-linejoin="round"/>
<path d="M307.8 152 L308.6 178 L304.5 178.3" fill="none" stroke="#0d0d0d" stroke-width="2" stroke-linecap="round"/>
<path d="M182.1 277.8 180.8 277.8 179.6 277.8 178.3 277.8 177.1 277.9 175.9 278.0 174.6 278.1 173.3 278.3 172.1 278.5 170.8 278.7 169.6 279.0 168.3 279.3 167.1 279.6 165.8 279.9 164.6 280.3 163.3 280.7 162.1 281.2 160.8 281.6 159.6 282.1 158.3 282.7 157.1 283.2 156.0 283.8 154.8 284.3 153.6 284.9 152.5 285.5 151.3 286.2 150.1 286.9 148.8 287.7 147.6 288.5 146.4 289.2 145.3 290.0 144.3 290.7 143.3 291.4 142.3 292.2 141.3 293.0 140.4 293.8 139.3 294.7 138.4 295.5 137.3 296.4 136.3 297.4 135.5 298.2 134.6 299.1 133.7 300.0 132.8 301.0 131.9 302.0 131.1 302.9 130.2 304.0 129.4 305.0 128.6 306.0 127.9 307.0 127.2 308.0 126.5 309.0 125.8 310.0 125.1 311.1 124.4 312.2 123.7 313.5 123.0 314.8 122.3 316.0 121.7 317.2 121.1 318.5 120.6 319.8 120.1 321.0 119.6 322.2 119.2 323.5 118.8 324.8 118.5 326.0 118.1 327.2 117.9 328.5 117.6 329.8 117.4 331.0 117.2 332.2 117.1 333.5 117.0 334.8 117.0 335.0M117.0 336.8 117.1 338.0 117.1 339.2 117.3 340.5 117.5 341.8 117.7 343.0 117.8 343.2M120.1 308.2 120.8 307.0 121.6 306.0 122.3 305.0 123.0 304.0 123.8 303.0 124.6 302.0 125.4 301.0 126.3 300.0 127.1 299.0 128.0 298.0 128.8 297.1 129.8 296.1 130.8 295.0 131.8 294.1 132.8 293.1 133.8 292.2 134.8 291.3 135.8 290.4 136.8 289.6 137.8 288.8 138.8 288.0 139.8 287.2 140.8 286.5 141.8 285.8 142.8 285.0 143.8 284.3 144.8 283.6 146.1 282.8 147.3 282.1 148.6 281.3 149.8 280.6 150.9 280.0 152.1 279.4 153.3 278.8 154.3 278.2M137.0 354.2 135.8 353.7 134.6 353.0 133.3 352.3 132.3 351.5 131.4 350.8 130.3 349.8 129.4 348.8 128.6 347.8 127.9 346.8 127.1 345.5 126.4 344.2 125.9 343.0 125.4 341.8 125.1 340.5 124.8 339.2 124.5 338.0 124.4 336.8 124.3 335.5 124.2 334.2 124.2 333.0 124.3 331.8 124.4 330.5 124.6 329.2 124.8 328.0 125.0 326.8 125.3 325.5 125.7 324.2 126.1 323.0 126.5 321.8 127.0 320.5 127.5 319.2 128.1 318.0 128.3 317.4M129.8 314.8 130.5 313.5 131.3 312.2 132.1 311.0 132.8 310.0 133.5 309.0 134.2 308.0 135.0 307.0 135.8 306.0 136.7 305.0 137.6 304.0 138.5 303.0 139.5 302.0 140.5 301.0 141.6 300.0 142.6 299.1 143.6 298.2 144.6 297.4 145.6 296.6 146.6 295.9 147.6 295.1 148.6 294.4 149.6 293.8 150.8 293.0 151.8 292.3 153.1 291.6 154.2 291.0 155.3 290.4 156.6 289.8 157.8 289.1 159.1 288.6 160.3 288.1 161.6 287.6 162.8 287.1 164.1 286.7 165.3 286.3M167.3 285.8 168.6 285.5 169.8 285.2 171.1 285.0 172.3 284.8 173.6 284.7 174.8 284.6 176.1 284.5 177.3 284.5 178.6 284.5 179.8 284.6 181.1 284.7 182.3 284.9 183.6 285.1 184.8 285.3 186.1 285.6 187.3 285.8 188.6 286.0 189.8 286.3 191.1 286.5 192.3 286.7 193.6 287.0 194.8 287.2 196.1 287.4 197.3 287.7 198.6 287.9 199.8 288.2 201.1 288.4 202.3 288.6 202.6 288.7M211.1 297.6 209.8 297.4 208.6 297.1 207.3 296.9 206.1 296.7 204.8 296.4 203.6 296.2 202.3 296.0 201.1 295.7 199.8 295.5 198.6 295.2 197.3 295.0 196.1 294.8 194.8 294.5 193.6 294.3 192.3 294.1 191.1 293.8 189.8 293.6 188.6 293.3 187.3 293.1 186.1 292.9 184.8 292.6 183.6 292.4 182.3 292.2 181.1 291.9 179.8 291.7 178.6 291.5 177.3 291.3 176.1 291.2 174.8 291.2 173.6 291.2 172.3 291.3 171.1 291.4 169.8 291.6 168.6 291.8 167.3 292.1 166.1 292.4 164.8 292.7 163.6 293.1 162.4 293.5 161.1 294.0 159.9 294.5 158.8 295.0 157.6 295.6 156.3 296.2 155.1 296.9 154.0 297.5 152.8 298.2 151.7 299.0 150.6 299.8 149.6 300.5 148.6 301.2 147.6 302.1 146.6 302.9 145.7 303.8 144.6 304.7 143.6 305.7 142.6 306.8 141.7 307.8 140.9 308.8 140.0 309.8 139.3 310.8 138.5 311.8 137.8 312.7 137.2 313.8 136.4 315.0 135.7 316.2 135.1 317.4 134.6 318.5 134.0 319.8 133.5 321.0 133.1 322.2 132.7 323.5 132.3 324.8 132.0 326.0 131.8 327.2 131.6 328.5 131.5 329.8 131.4 331.0 131.5 332.2 131.5 333.5 131.7 334.5M132.1 336.5 132.4 337.8 132.8 338.9 133.3 340.0 134.0 341.2 134.8 342.5 135.6 343.4 136.6 344.5 137.6 345.4 138.6 346.2 139.8 347.0 141.1 347.6 142.3 348.2 143.6 348.6 144.8 349.0 146.1 349.3 147.3 349.5 148.6 349.8 149.8 350.0 151.1 350.2 152.3 350.5 153.6 350.7 154.8 351.0 156.1 351.2 157.3 351.4 158.6 351.7 159.8 351.9 161.1 352.1 162.3 352.4 163.6 352.6 164.8 352.9 166.1 353.1 167.3 353.3 168.6 353.6 169.8 353.8 171.1 354.0 172.3 354.3 173.6 354.5 174.8 354.8 176.1 355.0 177.3 355.2 178.6 355.5 179.8 355.7 181.1 355.9 182.3 356.2 183.6 356.4 184.8 356.7 186.1 356.9 187.3 357.1 188.6 357.4 189.8 357.6 191.1 357.8 192.3 358.1 193.6 358.3 194.8 358.6 196.1 358.8 197.3 359.0 198.5 359.2 199.8 359.5 201.1 359.7 202.3 360.0 203.6 360.2 204.8 360.4 206.1 360.7 207.3 360.9 208.6 361.2 209.8 361.4 210.3 361.5M214.6 355.0 213.4 354.8 212.1 354.5 210.8 354.3 209.6 354.0 208.3 353.8 207.1 353.6 205.8 353.3 204.6 353.1 203.3 352.8 202.1 352.6 200.8 352.4 199.6 352.1 198.3 351.9 197.1 351.7 195.8 351.4 194.6 351.2 193.3 350.9 192.1 350.7 190.8 350.5 189.6 350.2 188.4 350.0 187.1 349.8 185.8 349.5 184.6 349.3 183.3 349.1 182.1 348.8 180.8 348.6 179.6 348.3 178.3 348.1 177.1 347.9 175.8 347.6 174.6 347.4 173.3 347.2 172.1 346.9 170.8 346.7 169.6 346.4 168.3 346.2 167.1 346.0 165.8 345.7 164.6 345.5 163.3 345.3 162.1 345.0 160.8 344.8 159.6 344.5 158.3 344.3 157.1 344.1 155.8 343.8 154.6 343.6 153.3 343.4 152.1 343.1 150.8 342.9 149.6 342.6 148.3 342.3 147.1 341.9 145.8 341.3 144.6 340.6 143.6 339.9 142.6 339.0 141.7 338.0 141.0 337.0 140.2 335.8M139.4 333.8 139.0 332.5 138.8 331.2 138.7 330.0 138.7 328.8 138.7 327.5 138.8 326.2 139.1 325.0 139.3 323.8 139.7 322.5 140.1 321.3 140.6 320.0 141.1 318.9 141.7 317.8 142.3 316.5 143.1 315.3 143.8 314.2 144.5 313.2 145.3 312.2 146.1 311.2 147.0 310.2 147.8 309.3 148.8 308.3 149.8 307.4 150.8 306.5 151.8 305.7 152.8 304.9 153.8 304.2 154.8 303.5 156.1 302.8 157.3 302.0 158.6 301.4 159.8 300.8 161.1 300.2 162.3 299.8 163.6 299.3 164.8 298.9 166.1 298.6 167.3 298.4 168.6 298.1 169.8 298.0 171.1 297.9 172.3 297.9 173.6 298.0 174.8 298.1 176.1 298.3 177.3 298.5 178.6 298.8 179.8 299.0M181.6 299.3 182.8 299.6 184.1 299.8 185.3 300.0 186.6 300.3 187.8 300.5 189.0 300.8 190.3 301.0 191.6 301.2 192.8 301.5 194.1 301.7 195.3 301.9 196.6 302.2 197.8 302.4 199.1 302.7 200.3 302.9 201.6 303.1 202.8 303.4 204.1 303.6 205.3 303.8 206.6 304.1 207.8 304.3 209.1 304.6 210.3 304.8 211.6 305.0 212.8 305.3 214.1 305.5 215.3 305.7 216.1 305.9M219.3 313.8 218.1 313.6 216.8 313.3 215.6 313.1 214.3 312.9 213.1 312.6 211.8 312.4 210.6 312.2 209.3 311.9 208.1 311.7 206.8 311.4 205.6 311.2 204.3 311.0 203.2 310.8 201.9 310.5 200.6 310.3 199.3 310.0 198.1 309.8 196.8 309.6 195.6 309.3 194.3 309.1 193.1 308.8 191.8 308.6 190.6 308.4 189.3 308.1 188.1 307.9 186.8 307.7 185.6 307.4 184.3 307.2 183.1 306.9 181.8 306.7 180.6 306.5 179.3 306.2 178.1 306.0 176.8 305.8 175.6 305.5 174.3 305.3 173.1 305.0 171.8 304.8 170.6 304.7 169.6 304.6M166.8 304.8 165.7 305.0 164.3 305.3 163.1 305.7 161.8 306.2 160.6 306.7 159.5 307.2 158.3 307.9 157.1 308.7 156.1 309.4 155.1 310.1 154.1 311.0 153.1 311.9 152.2 312.8 151.3 313.7 150.5 314.8 149.7 315.8 149.0 316.8 148.3 317.9 147.8 319.0 147.2 320.2 146.7 321.5 146.4 322.8 146.1 323.9 145.9 325.2 145.9 326.5 145.9 327.8 146.2 329.0 146.5 330.2 147.1 331.5 147.8 332.5 148.6 333.5 149.5 334.2 150.6 335.0 151.7 335.5 153.1 336.0 154.3 336.2 155.6 336.5 156.8 336.7 158.1 336.9 159.3 337.2 160.6 337.4 161.8 337.7 163.1 337.9 164.3 338.1 165.6 338.4 166.8 338.6 168.1 338.8 169.3 339.1 170.6 339.3 171.8 339.5 173.1 339.8 174.3 340.0 175.5 340.2 176.8 340.5 178.1 340.7 179.3 341.0 180.6 341.2 181.8 341.4 183.1 341.7 184.3 341.9 185.6 342.2 186.8 342.4 188.1 342.6 189.3 342.9 190.6 343.1 191.8 343.3 193.1 343.6 194.3 343.8 195.6 344.1 196.8 344.3 198.1 344.5 199.3 344.8 200.6 345.0 201.8 345.2 203.1 345.5 204.3 345.7 205.6 346.0 206.8 346.2 208.1 346.4 209.3 346.7 210.6 346.9 211.8 347.1 213.1 347.4 214.3 347.6 215.6 347.8 216.6 348.0M220.1 341.4 218.8 341.1 217.6 340.9 216.3 340.7 215.1 340.4 213.8 340.2 212.6 340.0 211.3 339.7 210.1 339.5 208.9 339.2 207.6 339.0 206.3 338.8 205.1 338.5 203.8 338.3 202.6 338.1 201.3 337.8 200.1 337.6 198.8 337.4 197.6 337.1 196.3 336.9 195.1 336.6 193.8 336.4 192.6 336.2 191.3 335.9 190.1 335.7 188.8 335.5 187.6 335.2 186.3 335.0 185.1 334.8 183.8 334.5 182.6 334.3 181.3 334.0 180.1 333.8 178.8 333.6 177.6 333.3 176.3 333.1 175.1 332.8 173.8 332.6 172.6 332.4 171.3 332.1 170.1 331.9 168.8 331.7 167.6 331.4 166.3 331.2 165.1 330.9 163.8 330.7 162.6 330.5 161.4 330.2 160.1 330.0 158.8 329.8 157.6 329.5 156.3 329.1 155.3 328.5 154.3 327.6 153.6 326.5 153.2 325.2 153.1 324.0 153.2 322.8 153.5 321.5 153.9 320.2 154.5 319.0 155.3 317.8 156.1 316.8 157.0 315.8 158.1 314.8 159.1 314.0 160.1 313.3 161.3 312.6 162.6 312.1 163.8 311.7 165.1 311.4 166.3 311.3 167.6 311.3 168.8 311.6 170.1 311.8 171.3 312.0 172.6 312.3 173.8 312.5 175.1 312.7 176.3 313.0 177.6 313.2 178.8 313.5 180.1 313.7 181.3 313.9 182.6 314.2 183.8 314.4M186.3 314.9 187.6 315.1 188.8 315.4 190.1 315.6 191.3 315.8 192.6 316.1 193.8 316.3 195.1 316.5 196.3 316.8 197.5 317.0 198.8 317.2 200.1 317.5 201.3 317.7 202.6 318.0 203.8 318.2 205.1 318.4 206.3 318.7 207.6 318.9 208.8 319.1 210.1 319.4 211.3 319.6 212.6 319.9 213.8 320.1 215.1 320.3 216.3 320.6 217.6 320.8 218.8 321.0 220.1 321.3 220.8 321.4M221.3 328.8 220.1 328.6 218.8 328.4 217.6 328.1 216.3 327.9 215.1 327.7 213.8 327.4 212.6 327.2 211.3 326.9 210.1 326.7 208.8 326.5 207.6 326.2 206.4 326.0 205.1 325.8 203.8 325.5 202.6 325.3 201.3 325.0 200.1 324.8 198.8 324.6 197.6 324.3 196.3 324.1 195.1 323.9 193.8 323.6 192.6 323.4 191.3 323.1 190.1 322.9 188.8 322.7 187.6 322.4 186.3 322.2 185.1 322.0 183.8 321.7 182.7 321.5 181.4 321.2 180.1 321.0 178.8 320.8 177.6 320.5 176.3 320.3 175.1 320.1 173.8 319.8 172.6 319.6 171.3 319.4 170.1 319.1 168.8 318.9 167.6 318.6 166.3 318.4 165.6 318.3M163.1 318.1 161.9 318.8 160.9 319.8 160.4 321.0 160.5 322.2 161.6 323.0 162.8 323.2 164.1 323.4 165.3 323.7 166.6 323.9 167.8 324.2 169.1 324.4 170.3 324.6 171.6 324.9 172.8 325.1 174.1 325.3 175.3 325.6 176.6 325.8 177.8 326.0 179.1 326.3 180.3 326.5 181.5 326.8 182.8 327.0 184.1 327.2 185.3 327.5 186.6 327.7 187.8 327.9 189.1 328.2 190.3 328.4 191.6 328.7 192.8 328.9 194.1 329.1 195.3 329.4 196.6 329.6 197.8 329.8 199.1 330.1 200.3 330.3 201.6 330.6 202.8 330.8 204.1 331.0 205.3 331.3 206.6 331.5 207.8 331.7 209.1 332.0 210.3 332.2 211.6 332.5 212.8 332.7 214.1 332.9 215.3 333.2 216.6 333.4 217.8 333.6 219.1 333.9 220.3 334.1 221.1 334.3M119.8 349.1 120.5 350.2 121.1 351.3 121.8 352.4 122.6 353.4 123.6 354.5 124.5 355.5 125.6 356.5 126.6 357.2 127.2 357.8" fill="none" stroke="#0d0d0d" stroke-width="2.2" stroke-linecap="round" stroke-linejoin="round"/>
<path d="M126.3 358.5 127.6 358.3 128.8 358.2 130.1 358.0 131.3 357.8 132.6 357.7 133.8 357.5 135.1 357.4 136.3 357.2 137.6 357.0 138.8 356.9 140.1 356.7 141.3 356.5 142.6 356.4 143.8 356.2 145.1 356.1 146.3 355.9 147.6 355.7 148.8 355.6 150.1 355.4 151.3 355.2 152.6 355.1 153.8 354.9 155.1 354.8 156.3 354.6 157.6 354.4 158.8 354.3 160.1 354.1 161.3 353.9 162.1 353.8M184.3 357.7 183.1 357.8 181.8 358.0 180.6 358.1 179.3 358.3 178.1 358.5 176.8 358.6 175.6 358.8 174.3 359.0 173.1 359.1 171.8 359.3 170.6 359.4 169.3 359.6 168.1 359.8 166.8 359.9 165.6 360.1 164.4 360.2 163.1 360.4 161.8 360.6 160.6 360.7 159.3 360.9 158.1 361.1 156.8 361.2 155.6 361.4 154.3 361.6 153.1 361.7 151.8 361.9 150.6 362.0 149.3 362.2 148.1 362.4 146.8 362.5 145.6 362.7 144.3 362.9 143.1 363.0 141.8 363.2 140.6 363.3 139.4 363.5 138.1 363.7 136.8 363.8 135.6 364.0 134.3 364.2 133.1 364.3 131.8 364.5 130.6 364.6 129.8 364.8M136.1 370.6 137.3 370.5 138.6 370.3 139.8 370.1 141.1 370.0 142.3 369.8 143.6 369.6 144.8 369.5 146.1 369.3 147.3 369.2 148.6 369.0 149.8 368.8 151.1 368.7 152.3 368.5 153.6 368.4 154.8 368.2 156.1 368.0 157.3 367.9 158.6 367.7 159.8 367.5 161.1 367.4 162.3 367.2 163.6 367.1 164.8 366.9 166.1 366.7 167.3 366.6 168.6 366.4 169.8 366.2 171.1 366.1 172.3 365.9 173.6 365.8 174.8 365.6 176.1 365.4 177.3 365.3 178.6 365.1 179.8 364.9 181.1 364.8 182.3 364.6 183.2 364.5M185.3 364.2 186.6 364.1 187.8 363.9 189.1 363.7 190.3 363.6 191.6 363.4 192.8 363.2 194.1 363.1 195.3 362.9 196.6 362.8 197.8 362.6 199.1 362.4 200.3 362.3 201.6 362.1 202.8 361.9 204.1 361.8 205.3 361.6 206.6 361.5M203.6 368.6 202.3 368.7 201.1 368.9 199.8 369.0 198.6 369.2 197.3 369.4 196.1 369.5 194.8 369.7 193.6 369.9 192.3 370.0 191.1 370.2 189.8 370.3 188.6 370.5 187.3 370.7 186.1 370.8 184.8 371.0 183.6 371.1 182.3 371.3 181.1 371.5 179.8 371.6 178.6 371.8 177.3 372.0 176.1 372.1 174.8 372.3 173.6 372.4 172.3 372.6 171.1 372.8 169.8 372.9 168.6 373.1 167.3 373.3 166.1 373.4 164.8 373.6 163.6 373.8 162.3 373.9 161.1 374.1 159.8 374.2 158.6 374.4 157.3 374.6 156.1 374.7 154.8 374.9 153.6 375.1 152.3 375.2 151.1 375.4 149.8 375.5 148.6 375.7 147.3 375.9 146.1 376.0 144.8 376.2 144.6 376.2M159.4 381.0 160.6 380.8 161.8 380.7 163.1 380.5 164.3 380.4 165.6 380.2 166.8 380.0 168.1 379.9 169.3 379.7 170.6 379.5 171.8 379.4 173.1 379.2 174.3 379.1 175.6 378.9 176.8 378.7 178.1 378.6 179.3 378.4 180.6 378.2 181.8 378.1 183.1 377.9 184.3 377.8 185.6 377.6 186.8 377.4 188.1 377.3 189.3 377.1 190.6 376.9 190.8 376.9" fill="none" stroke="#0d0d0d" stroke-width="2.2" stroke-linecap="round" stroke-linejoin="round"/>
<path d="M318.0 277.9 316.8 277.9 315.5 278.0 314.2 278.0 313.0 278.1 311.8 278.2 310.5 278.3 309.2 278.5 308.0 278.7 306.8 278.9 305.5 279.2 304.2 279.5 303.0 279.8 301.8 280.2 300.5 280.5 299.2 281.0 298.0 281.4 296.8 281.9 295.5 282.4 294.2 283.0 293.1 283.5 292.0 284.1 290.8 284.7 289.5 285.4 288.2 286.2 287.0 287.0 286.0 287.7 285.0 288.4 284.0 289.1 283.0 289.9 282.0 290.7 281.0 291.6 280.0 292.5 279.0 293.4 278.0 294.4 277.0 295.4 276.0 296.5 275.2 297.5 274.3 298.5 273.5 299.5 272.8 300.5 272.1 301.5 271.4 302.5 270.5 303.8 269.8 305.0 269.0 306.2 268.3 307.5 267.8 308.6 267.1 309.8 266.5 310.9 265.9 312.0 265.3 313.2 264.6 314.5 264.0 315.6 263.4 316.8 263.1 317.2M260.2 332.7 260.9 331.5 261.5 330.3 262.1 329.2 262.7 328.0 263.4 326.8 264.0 325.6 264.6 324.5 265.2 323.3 265.9 322.0 266.5 320.9 267.1 319.8 267.8 318.6 268.3 317.5 269.0 316.2 269.7 315.0 270.2 313.9 270.9 312.8 271.5 311.5 272.2 310.2 272.8 309.2 273.4 308.0 274.0 306.9 274.7 305.8 275.4 304.5 276.2 303.3 277.0 302.2 277.7 301.2 278.5 300.3 279.3 299.2 280.2 298.2 281.0 297.4 282.0 296.3 283.0 295.3 283.9 294.5 285.0 293.5 285.9 292.8 286.9 292.0 287.9 291.2 288.9 290.5 290.0 289.8 291.2 289.0 292.5 288.3 293.8 287.6 294.8 287.0 296.0 286.4 297.2 285.9 298.5 285.3 299.8 284.9 301.0 284.4 302.2 284.0 303.5 283.7 304.8 283.3 306.0 283.0 307.2 282.8 308.5 282.5 309.8 282.3 311.0 282.2 312.2 282.1 313.5 282.0 314.8 281.9 316.0 281.9 317.2 281.9 318.5 281.9 319.8 282.0 321.0 282.1 322.2 282.2 323.5 282.4 324.8 282.6 326.0 282.8 327.2 283.1 328.5 283.4 329.8 283.7 331.0 284.1 332.2 284.5 333.5 284.9 334.8 285.4 336.0 285.9 337.2 286.5 338.4 287.0 339.5 287.6 340.7 288.2 342.0 289.0 342.8 289.4M344.8 290.7 345.8 291.5 346.8 292.2 347.8 293.0 348.8 293.8 349.8 294.7 350.8 295.6 351.7 296.5 352.5 297.4 353.3 298.2 354.2 299.2 355.0 300.2 355.9 301.2 356.6 302.2 357.3 303.2 358.0 304.2 358.8 305.4 359.4 306.5 360.1 307.8 360.8 308.9 361.3 310.0 361.9 311.2 362.4 312.5 362.9 313.8 363.4 315.0 363.5 315.2M354.8 347.0 355.4 345.8 355.9 344.5 356.4 343.2 356.8 342.1 357.2 340.8 357.5 339.5 357.8 338.2 358.1 337.0 358.3 335.8 358.5 334.5 358.6 333.2 358.7 332.0 358.8 330.8 358.8 329.5 358.8 328.2 358.8 327.0 358.7 325.8 358.6 324.5 358.4 323.2 358.3 322.0 358.0 320.8 357.8 319.5 357.5 318.2 357.1 317.0 356.8 315.8 356.3 314.5 355.9 313.2 355.3 312.0 354.8 310.8 354.2 309.7 353.6 308.5 353.0 307.4 352.3 306.2 351.5 305.0 350.8 304.0 350.1 303.0 349.3 302.0 348.5 301.0 347.6 300.0 346.8 299.1 345.8 298.1 344.9 297.2 343.8 296.3 342.8 295.4 341.8 294.6 340.8 293.9 339.8 293.2 338.7 292.5 337.5 291.8 336.2 291.1 335.1 290.5 334.0 289.9 332.8 289.4 331.5 288.9 330.2 288.4 329.0 288.0 327.8 287.6 326.5 287.2 325.2 286.9 324.0 286.6 322.8 286.4 321.5 286.2 320.2 286.1 319.0 286.0 317.8 285.9 316.5 285.8 315.2 285.8 314.0 285.9 312.8 285.9 311.5 286.0 310.8 286.1M308.5 286.5 307.2 286.7 306.0 287.0 304.8 287.3 303.5 287.7 302.2 288.1 301.0 288.5 299.8 289.0 298.6 289.5 297.5 290.0 296.2 290.7 295.2 291.2 294.0 291.9 292.8 292.7 291.8 293.4 290.8 294.1 289.8 294.9 288.8 295.7 287.8 296.6 286.8 297.5 285.8 298.5 284.8 299.5 284.0 300.4 283.1 301.5 282.3 302.5 281.5 303.5 280.8 304.5 280.0 305.8 279.3 307.0 278.6 308.2 277.9 309.5 277.2 310.7 276.6 312.0 276.0 313.1 275.4 314.2 274.8 315.4 274.2 316.5 273.5 317.8 272.8 319.0 272.2 320.1 271.7 321.2 271.0 322.5 270.3 323.8 269.8 324.8 269.1 326.0 268.5 327.2 268.2 327.8M267.1 329.8 266.5 330.9 265.9 332.0 265.3 333.2 264.6 334.5 264.0 335.6 263.4 336.8 262.8 338.0 262.1 339.2 261.5 340.3 261.2 340.8M263.0 347.5 263.7 346.2 264.2 345.2 264.9 344.0 265.5 342.8 266.1 341.8 266.7 340.5 267.4 339.2 268.0 338.1 268.6 337.0 269.2 335.8 269.9 334.5 270.5 333.4 271.1 332.2 271.8 331.1 272.3 330.0 273.0 328.8 273.6 327.5 274.2 326.4 274.8 325.2 275.5 324.0 276.2 322.8 276.8 321.7 277.4 320.5 278.0 319.3 278.6 318.2 279.2 317.0 279.9 315.8 280.5 314.6 281.1 313.5 281.8 312.3 282.4 311.0 283.0 309.9 283.6 308.8 284.2 307.6 284.9 306.5 285.8 305.3 286.5 304.2 287.2 303.2 288.1 302.2 289.0 301.2 289.9 300.2 291.0 299.2 292.0 298.3 293.0 297.5 294.0 296.8 295.0 296.0 296.0 295.3 297.2 294.6 298.5 293.9 299.7 293.2M302.5 292.1 303.8 291.6 304.9 291.2 306.2 290.9 307.5 290.6 308.8 290.3 310.0 290.1 311.2 290.0 312.5 289.9 313.8 289.8 315.0 289.8 316.2 289.8 317.5 289.9 318.8 290.0 320.0 290.1 321.2 290.3 322.5 290.6 323.8 290.9 325.0 291.2 326.2 291.6 327.4 292.0 328.7 292.5 329.9 293.0 331.0 293.5 332.2 294.2 333.5 294.9 334.8 295.7 335.8 296.4 336.8 297.1 337.8 297.9 338.8 298.7 339.7 299.5 340.7 300.5 341.7 301.5 342.5 302.4 343.4 303.5 344.1 304.5 344.9 305.5 345.5 306.5 346.2 307.7 346.9 308.8 347.5 309.9 348.1 311.2 348.7 312.5 349.1 313.8 349.6 315.0 349.9 316.2 350.3 317.5 350.6 318.8 350.8 320.0 351.0 321.2 351.1 322.5 351.2 323.8 351.3 325.0 351.3 326.2 351.3 327.5 351.2 328.8 351.1 330.0 351.0 331.2 350.8 332.5 350.5 333.8 350.2 335.0 349.9 336.2 349.5 337.4 349.0 338.8 348.5 340.0 348.0 341.2 347.4 342.5 346.8 343.7 346.1 345.0 345.4 346.2 344.8 347.5 344.1 348.8 343.7 349.5M328.6 359.2 329.2 358.0 329.9 356.8 330.5 355.7 331.1 354.5 331.8 353.3 332.4 352.0 333.1 350.8 333.8 349.5 334.4 348.2 335.1 347.0 335.8 345.8 336.4 344.5 337.0 343.4 337.6 342.2 338.2 341.1 338.8 340.0 339.5 338.8 340.2 337.5 340.8 336.4 341.3 335.2 341.8 334.1 342.2 332.8 342.6 331.5 343.0 330.2 343.2 329.0 343.5 327.8 343.6 326.5 343.8 325.3 343.8 324.0 343.8 322.8 343.8 321.5 343.7 320.2 343.5 319.0 343.3 317.8 343.0 316.5 342.7 315.2 342.3 314.0 341.9 312.8 341.3 311.5 340.8 310.2 340.1 309.0 339.5 308.0 338.8 306.8 338.0 305.8 337.2 304.8 336.4 303.8 335.5 302.8 334.5 301.8 333.5 300.9 332.5 300.1 331.5 299.3 330.5 298.6 329.2 297.9 328.2 297.2 327.0 296.7 325.8 296.1 324.5 295.6 323.2 295.2 322.0 294.8 320.8 294.5 319.5 294.2 318.2 294.0 317.0 293.9 316.0 293.8M313.8 293.7 312.5 293.8 311.2 293.9 310.0 294.0 308.8 294.2 307.5 294.5 306.2 294.9 305.0 295.2 303.8 295.7 302.5 296.2 301.2 296.8 300.0 297.5 299.0 298.1 297.8 299.0 296.8 299.7 295.8 300.5 294.8 301.4 293.8 302.2 293.0 303.1 292.0 304.2 291.2 305.2 290.5 306.2 289.8 307.2 289.1 308.5 288.5 309.6 287.9 310.8 287.2 311.9 286.7 313.0 286.0 314.2 285.3 315.5 284.8 316.6 284.1 317.8 283.5 319.0 282.8 320.2 282.2 321.3 281.6 322.5 281.0 323.7 280.4 324.8 279.8 326.0 279.1 327.2 278.5 328.4 277.9 329.5 277.2 330.7 276.6 332.0 276.0 333.1 275.4 334.2 274.8 335.4 274.2 336.5 273.5 337.8 273.2 338.2M272.5 339.8 271.8 341.0 271.1 342.2 270.5 343.4 269.9 344.5 269.3 345.8 268.6 347.0 268.0 348.1 267.4 349.2 266.8 350.5 266.1 351.8 265.5 352.8 265.3 353.2M268.0 358.1 268.6 357.0 269.2 355.8 269.9 354.5 270.5 353.4 271.1 352.2 271.8 351.1 272.3 350.0 273.0 348.8 273.7 347.5 274.2 346.4 274.8 345.2 275.5 344.0 276.2 342.8 276.8 341.7 277.4 340.5 278.0 339.3 278.6 338.2 279.2 337.0 279.9 335.8 280.5 334.6 281.1 333.5 281.8 332.3 282.4 331.0 283.0 329.9 283.6 328.8 284.2 327.6 284.8 326.5 285.5 325.2 286.1 324.0 286.8 322.9 287.3 321.8 288.0 320.5 288.7 319.2 289.2 318.2 289.9 317.0 290.5 315.8 291.1 314.8 291.7 313.5 292.4 312.2 293.0 311.1 293.6 310.0 294.2 308.8 294.9 307.8 295.6 306.8 296.4 305.8 297.2 304.8 298.2 303.8 299.2 302.9 300.2 302.1 301.2 301.4 302.5 300.6 303.6 300.0 304.8 299.5 306.0 299.0 307.2 298.6 308.5 298.3 309.7 298.0 311.0 297.8 312.2 297.7 313.5 297.7 314.8 297.7 316.0 297.8 317.2 298.0 318.5 298.2 319.8 298.6 321.0 299.0 322.2 299.4 323.5 300.0 324.8 300.7 326.0 301.4 327.0 302.1 328.0 302.9M330.2 305.0 331.1 306.0 331.9 307.0 332.6 308.0 333.2 309.1 333.9 310.2 334.5 311.5 335.0 312.8 335.4 314.0 335.7 315.2 336.0 316.5 336.1 317.8 336.3 319.0 336.3 320.2 336.3 321.5 336.2 322.8 336.0 324.0 335.8 325.2 335.5 326.5 335.1 327.8 334.6 329.0 334.1 330.2 333.5 331.4 332.9 332.5 332.3 333.8 331.6 335.0 331.0 336.1 330.4 337.2 329.8 338.5 329.1 339.8 328.5 340.8 327.9 342.0 327.2 343.2 326.7 344.2 326.0 345.5 325.3 346.8 324.8 347.9 324.2 349.0 323.5 350.2 322.8 351.5 322.2 352.6 321.6 353.8 321.0 354.9 320.4 356.0 319.8 357.2 319.1 358.5 318.5 359.6 317.9 360.8 317.2 362.0 316.6 363.2 316.2 364.0M314.8 366.5 314.2 367.6 313.6 368.8 313.0 370.0 312.3 371.2 311.8 372.3 311.1 373.5 310.5 374.7 309.9 375.8 309.3 377.0 308.6 378.2 308.0 379.4 307.4 380.5 306.8 381.7 306.1 383.0M297.2 381.0 297.9 379.8 298.5 378.6 299.1 377.5 299.8 376.3 300.4 375.0 301.1 373.8 301.8 372.5 302.4 371.2 303.0 370.2 303.6 369.0 304.2 367.8 304.8 366.8 305.5 365.5 306.2 364.2 306.8 363.1 307.3 362.0 308.0 360.8 308.7 359.5 309.2 358.4 309.9 357.2 310.5 356.1 311.1 355.0 311.7 353.8 312.4 352.5 313.0 351.4 313.6 350.2 314.2 349.0 314.9 347.8 315.5 346.7 316.1 345.5 316.8 344.3 317.3 343.2 318.0 342.0 318.6 340.8 319.2 339.6 319.8 338.5 320.5 337.3 321.2 336.0 321.8 334.9 322.4 333.8 323.0 332.6 323.6 331.5 324.2 330.2 324.9 329.0 325.5 327.9 326.1 326.8 326.8 325.5 327.4 324.2 327.9 323.0 328.2 321.9 328.6 320.5 328.7 319.2 328.8 318.0 328.8 316.8 328.7 315.5 328.4 314.2 328.1 313.0 327.7 311.8 327.1 310.5 326.5 309.4 325.8 308.3 325.0 307.3 324.0 306.2 323.0 305.3 322.0 304.6 320.8 303.8 320.0 303.4M317.5 302.4 316.2 302.0 315.0 301.8 313.8 301.7 312.5 301.6 311.2 301.7 310.0 301.9 308.8 302.2 307.5 302.5 306.4 303.0 305.2 303.6 304.1 304.2 303.1 305.0 302.0 305.9 301.0 307.0 300.2 308.0 299.5 309.0 298.8 310.2 298.1 311.5 297.5 312.6 296.9 313.8 296.3 315.0 295.6 316.2 295.0 317.4 294.4 318.5 293.8 319.7 293.1 321.0 292.4 322.2 291.8 323.5 291.1 324.8 290.5 325.8 289.9 327.0 289.2 328.2 288.7 329.2 288.0 330.5 287.3 331.8 286.8 332.9 286.1 334.0 285.5 335.2 284.8 336.5 284.2 337.6 283.6 338.8 283.0 339.9 282.4 341.0 281.8 342.2 281.1 343.5 280.5 344.6 279.9 345.8 279.2 347.0 278.6 348.2 278.0 349.3 277.4 350.5 276.8 351.7 276.2 352.8 275.5 354.0 274.8 355.2 274.2 356.4 273.7 357.5 273.0 358.7 272.3 360.0 271.8 361.1 271.1 362.2 271.0 362.5M274.2 366.4 274.9 365.2 275.5 364.0 276.2 362.8 276.8 361.7 277.4 360.5 278.0 359.3 278.6 358.2 279.2 357.0 279.9 355.8 280.5 354.6 281.1 353.5 281.8 352.3 282.4 351.0 283.0 349.9 283.6 348.8 284.2 347.6 284.8 346.5 285.5 345.2 286.1 344.0 286.8 342.9 287.3 341.8 288.0 340.5 288.7 339.2 289.2 338.2 289.9 337.0 290.5 335.8 291.1 334.8 291.7 333.5 292.4 332.2 293.0 331.1 293.6 330.0 294.2 328.8 294.9 327.5 295.5 326.4 296.1 325.2 296.8 324.1 297.3 323.0 298.0 321.8 298.6 320.5 299.2 319.4 299.8 318.2 300.5 317.0 301.2 315.8 301.8 314.7 302.4 313.5 303.0 312.3 303.7 311.0 304.4 309.8 305.2 308.8 305.2 308.6M307.2 306.9 308.5 306.3 309.8 305.9 311.0 305.6 312.2 305.6 313.5 305.7 314.8 306.0 316.0 306.5 317.2 307.2 318.2 308.0 319.2 309.0 319.9 310.0 320.5 311.1 320.9 312.2 321.2 313.5 321.3 314.8 321.2 316.0 321.0 317.2 320.6 318.5 320.0 319.6 319.4 320.8 318.8 322.0 318.1 323.2 317.5 324.3 316.9 325.5 316.2 326.7 315.7 327.8 315.0 329.0 314.3 330.2 313.8 331.4 313.1 332.5 312.5 333.7 311.8 335.0 311.2 336.1 310.6 337.2 310.0 338.4 309.4 339.5 308.8 340.8 308.1 342.0 307.5 343.1 306.9 344.2 306.2 345.5 305.6 346.8 305.0 347.8 304.4 349.0 303.8 350.2 303.5 350.6M302.4 352.8 301.8 353.9 301.2 355.0 300.5 356.2 299.9 357.5 299.2 358.6 298.7 359.8 298.0 361.0 297.3 362.2 296.8 363.3 296.1 364.5 295.5 365.7 294.9 366.8 294.3 368.0 293.6 369.2 293.0 370.4 292.4 371.5 291.8 372.7 291.1 374.0 290.5 375.1 289.9 376.2 289.2 377.4 289.1 377.8M281.7 373.0 282.4 371.8 283.0 370.6 283.6 369.5 284.2 368.2 284.9 367.0 285.5 365.9 286.1 364.8 286.8 363.5 287.4 362.2 288.1 361.0 288.8 359.8 289.4 358.5 290.0 357.4 290.6 356.2 291.2 355.1 291.8 354.0 292.5 352.8 293.2 351.5 293.8 350.4 294.4 349.2 295.0 348.0 295.7 346.8 296.2 345.7 296.9 344.5 297.5 343.3 298.1 342.2 298.7 341.0 299.4 339.8 300.0 338.6 300.6 337.5 301.2 336.3 301.9 335.0 302.5 333.9 303.1 332.8 303.8 331.6 304.3 330.5 305.0 329.2 305.7 328.0 306.2 326.9 306.8 325.8 307.5 324.5 308.2 323.2 308.8 322.2 309.4 321.0 310.0 319.8 310.6 318.8 311.2 317.5 311.9 316.2 312.5 315.1 313.1 314.0 313.7 312.8 313.7 311.5 313.0 310.2 312.0 309.6 310.8 309.6 309.5 310.2 308.8 311.5 308.1 312.8 307.5 313.8 306.9 315.0 306.2 316.2 305.6 317.5 304.9 318.8 304.2 320.0 303.6 321.2 303.0 322.2M302.1 324.0 301.5 325.1 300.9 326.2 300.2 327.5 299.6 328.8 299.0 329.8 298.4 331.0 297.8 332.2 297.2 333.2 296.5 334.5 295.9 335.8 295.2 336.9 294.7 338.0 294.0 339.2 293.3 340.5 292.8 341.6 292.1 342.8 291.5 343.9 290.8 345.2 290.1 346.5 289.5 347.7 288.8 349.0 288.1 350.2 287.5 351.5 286.8 352.8 286.2 353.8 285.6 355.0 285.0 356.2 284.4 357.2 283.8 358.5 283.1 359.8 282.5 360.9 281.9 362.0 281.2 363.2 280.6 364.5 280.0 365.6 279.4 366.8 278.8 367.9 278.2 369.0 277.8 369.8" fill="none" stroke="#0d0d0d" stroke-width="2.2" stroke-linecap="round" stroke-linejoin="round"/>
<path d="M362.3 345.5 361.0 346.2 359.8 346.9 358.6 347.5 357.2 348.2 356.0 348.9 354.8 349.5 353.8 350.1 352.5 350.7 351.2 351.4 350.1 352.0 349.0 352.6 347.8 353.2 346.5 353.9 345.2 354.6 344.0 355.2 342.8 355.9 341.5 356.6 340.3 357.2 339.0 357.9 337.8 358.6 336.6 359.2 335.2 359.9 334.0 360.6 332.8 361.2 331.8 361.8 330.5 362.5 329.2 363.2 328.1 363.8 327.0 364.4 325.8 365.0 324.5 365.7M333.2 353.4 334.5 352.8 335.8 352.1 336.8 351.5M316.0 377.8 317.1 377.2 318.2 376.6 319.4 376.0 320.8 375.3 322.0 374.6 323.2 374.0 324.2 373.4 325.5 372.8 326.8 372.1 327.9 371.5 329.0 370.9 330.2 370.2 331.5 369.6 332.8 368.9 334.0 368.2 335.2 367.6 336.5 366.9 337.7 366.2 339.0 365.6 340.2 364.9 341.4 364.2 342.8 363.6 344.0 362.9 345.2 362.2 346.2 361.7 347.5 361.0 348.8 360.3 349.9 359.8 351.0 359.1 352.2 358.5 353.5 357.8 354.8 357.1 356.0 356.5 357.2 355.8 358.5 355.1 359.7 354.5 360.2 354.2M351.8 366.4 350.6 367.0 349.2 367.7 348.0 368.4 346.8 369.0 345.8 369.6 344.5 370.2 343.2 370.9 342.1 371.5 341.0 372.1 339.8 372.8 338.5 373.4 337.2 374.1 336.0 374.8 334.8 375.4 333.5 376.1 332.3 376.8 331.0 377.4 329.8 378.1 328.6 378.8 327.2 379.4 326.0 380.1 324.8 380.8 323.8 381.3 322.5 382.0 321.2 382.7 321.1 382.8" fill="none" stroke="#0d0d0d" stroke-width="2.2" stroke-linecap="round" stroke-linejoin="round"/>
<path d="M198.3 505.2 198.7 504.0 199.1 502.8 199.4 501.5 199.7 500.2 200.0 499.0 200.3 497.8 200.5 496.6 200.7 495.2 200.9 494.0 201.1 492.8 201.2 491.5 201.3 490.2 201.4 489.0 201.4 487.8 201.5 486.5 201.5 485.2 201.4 484.0 201.4 482.8 201.3 481.5 201.2 480.2 201.1 479.0 200.9 477.8 200.8 476.5 200.6 475.2 200.3 474.0 200.1 472.8 199.8 471.5 199.4 470.2 199.1 469.0 198.7 467.8 198.3 466.5 197.8 465.2 197.3 464.0 196.8 462.8 196.1 461.5 195.5 460.3 194.8 459.0 194.1 457.8 193.2 456.5 192.5 455.5 191.8 454.5 191.0 453.5 190.1 452.5 189.2 451.6 188.2 450.6 187.3 449.8 186.2 448.8 185.2 448.1 184.2 447.4 183.0 446.6 181.8 445.8 180.6 445.2 179.5 444.8 178.2 444.3 177.0 443.8 175.8 443.5 174.5 443.2 173.2 443.0 172.0 442.8 170.8 442.7 169.5 442.7 168.2 442.7 167.0 442.8 165.8 442.9 164.5 443.1 163.2 443.4 162.0 443.7 160.8 444.0 159.5 444.5 158.2 445.0 157.1 445.5 156.0 446.0 154.8 446.7 153.8 447.3M152.0 448.5 151.0 449.2 150.0 450.0 149.0 450.8 148.0 451.7 147.0 452.7 146.0 453.7 145.1 454.8 144.2 455.7 143.4 456.8 142.6 457.8 141.9 458.8 141.2 459.8 140.5 460.8 139.8 462.0 139.1 463.0 138.5 464.1 137.9 465.2 137.3 466.5 136.8 467.6 136.3 468.8 135.8 470.0 135.2 471.2 134.8 472.5 134.4 473.8 134.0 475.0 133.6 476.2 133.2 477.5 132.9 478.8 132.6 480.0 132.4 481.2 132.2 482.5 131.9 483.8 131.8 485.0 131.6 486.2 131.5 487.5 131.4 488.8 131.3 490.0 131.2 491.2 131.2 492.5 131.2 493.8 131.2 495.0 131.2 496.2 131.3 497.5 131.4 498.8 131.5 500.0 131.7 501.2 131.9 502.5 132.1 503.8 132.3 505.0 132.6 506.2 132.8 507.5 133.2 508.8 133.5 509.9 133.9 511.2 134.3 512.5 134.8 513.8 135.3 515.0 135.9 516.2 136.4 517.5 137.0 518.6 137.6 519.8 138.2 520.8 139.0 522.0 139.7 523.0 140.4 524.0 141.2 525.0 141.2 525.1M143.0 527.1 143.9 528.0 144.8 528.9 145.8 529.7 146.8 530.6 147.8 531.3 148.0 531.5M138.5 529.8 137.8 528.8 137.0 527.8 136.3 526.8 135.5 525.6 134.8 524.5 134.1 523.2 133.5 522.1 132.9 521.0 132.4 519.8 131.8 518.5 131.3 517.2 130.8 516.0 130.4 514.8 129.9 513.5 129.6 512.2 129.2 511.0 128.9 509.8 128.6 508.5 128.3 507.2 128.1 506.0 127.9 504.8 127.7 503.5 127.5 502.2 127.4 501.0 127.3 499.8 127.2 498.5 127.1 497.2 127.0 496.0 127.0 494.8 127.0 493.5 127.0 492.2 127.1 491.0 127.1 489.8 127.2 488.5 127.3 487.2 127.4 486.0 127.6 484.8 127.8 483.5 128.0 482.2 128.2 481.0 128.4 479.8 128.7 478.5 129.0 477.2 129.3 476.0 129.6 474.8 130.0 473.5 130.4 472.2 130.8 471.1 131.2 469.8 131.7 468.5 131.8 468.3M132.8 465.8 133.4 464.5 134.0 463.2 134.5 462.2 135.1 461.0 135.8 459.8 136.4 458.8 137.1 457.5 138.0 456.2 138.6 455.2 139.3 454.2 140.1 453.2 140.9 452.2 141.7 451.2 142.5 450.3 143.5 449.2 144.4 448.2 145.4 447.2 146.5 446.3 147.1 445.8M160.0 530.2 158.8 530.0 157.5 529.7 156.2 529.3 155.0 528.9 153.8 528.3 152.6 527.8 151.5 527.1 150.5 526.5 149.4 525.8 148.5 525.0 147.5 524.2 146.5 523.2 145.5 522.2 144.6 521.2 143.8 520.2 143.1 519.2 142.4 518.2 141.6 517.0 140.9 515.8 140.2 514.6 139.7 513.5 139.1 512.2 138.6 511.0 138.2 509.8 137.8 508.6 137.3 507.2 137.0 506.0 136.7 504.8 136.4 503.5 136.2 502.2 136.0 501.0 135.8 499.8 135.6 498.5 135.5 497.2 135.5 496.0 135.4 494.8 135.4 493.5 135.4 492.2 135.4 491.0 135.5 489.8 135.6 488.5 135.7 487.2 135.8 486.0 136.0 484.8 136.2 483.5 136.5 482.2 136.7 481.0 137.0 479.8 137.4 478.5 137.7 477.2 138.1 476.0 138.5 474.8 139.0 473.5 139.5 472.2 140.0 471.1 140.6 469.8 141.2 468.5 141.9 467.2 142.6 466.0 143.2 465.0 144.0 463.8 144.7 462.8 145.5 461.8 146.2 460.8 147.1 459.8 148.0 458.8 149.0 457.8 149.8 457.0M152.0 455.1 153.0 454.3 154.0 453.6 155.2 452.8 156.5 452.1 157.6 451.5 158.8 451.0 159.9 450.5 161.0 450.1 162.2 449.7 163.5 449.4 164.8 449.2 166.0 449.0 167.2 448.9 168.5 448.9 169.8 448.9 171.0 449.0 172.2 449.2 173.5 449.4 174.8 449.7 176.0 450.1 177.2 450.6 178.5 451.2 179.6 451.8 180.8 452.4 182.0 453.2 183.0 454.0 184.0 454.8 185.0 455.7 186.0 456.7 187.0 457.8 187.8 458.7 188.5 459.7 189.2 460.7 189.9 461.8 190.7 463.0 191.4 464.2 192.0 465.4 192.6 466.8 193.1 468.0 193.6 469.2 194.1 470.5 194.5 471.8 194.8 473.0 195.1 474.2 195.4 475.5 195.7 476.8 195.9 478.0 196.1 479.2 196.2 480.5 196.4 481.8 196.4 483.0 196.5 484.2 196.5 485.5 196.5 486.8 196.5 488.0 196.5 489.2 196.4 490.5 196.3 491.8 196.1 493.0 196.0 494.2 195.8 495.5 195.5 496.8 195.3 498.0 195.0 499.2 194.7 500.5 194.3 501.8 193.9 503.0 193.5 504.2 193.1 505.5 192.6 506.8 192.0 508.0 191.5 509.2 190.9 510.5 190.2 511.7 189.8 512.5M195.2 449.5 195.9 450.5 196.7 451.5 197.4 452.5 198.2 453.8 198.9 455.0 199.5 456.1 200.1 457.2 200.7 458.5 201.2 459.6 201.7 460.8 202.2 462.0 202.7 463.2 203.1 464.5 203.6 465.8 203.9 467.0 204.2 468.2 204.6 469.5 204.9 470.8 205.1 472.0 205.4 473.2 205.6 474.5 205.8 475.7 205.9 477.0 206.0 478.2 206.2 479.5 206.2 480.8 206.3 482.0 206.4 483.2 206.4 484.5 206.4 485.8 206.3 487.0 206.3 488.2 206.2 489.5 206.1 490.8 206.0 492.0 205.9 493.2 205.7 494.5 205.6 495.8 205.4 497.0 205.1 498.2 204.9 499.5 204.6 500.8 204.3 502.0 204.0 503.2 203.9 503.8M134.4 453.2 133.8 454.3 133.0 455.5 132.3 456.8 131.8 457.8 131.1 459.0 130.5 460.2 130.0 461.3 129.5 462.4 129.0 463.6 128.5 464.8 128.0 466.0 127.6 467.2 127.1 468.5 126.7 469.8 126.3 471.0 125.9 472.2 125.6 473.5 125.3 474.8 124.9 476.0 124.7 477.2 124.4 478.5 124.2 479.8 123.9 481.0 123.7 482.2 123.6 483.5 123.4 484.8 123.3 486.0 123.1 487.2 123.0 488.5 122.9 489.8 122.9 491.0 122.8 492.2 122.8 493.5 122.8 494.8 122.8 496.0 122.9 497.2 122.9 498.5 123.0 499.8 123.1 501.0 123.2 502.2 123.4 503.5 123.5 504.8 123.7 506.0 123.9 507.2 124.2 508.5 124.4 509.8 124.7 511.0 125.0 512.2 125.3 513.5 125.7 514.8 126.1 516.0 126.5 517.2 126.9 518.5 127.4 519.8 127.9 521.0 128.4 522.2 129.0 523.5 129.5 524.6 130.1 525.8 130.8 527.0M164.8 524.5 166.2 524.3 167.5 524.1 168.8 523.8 170.0 523.4 171.2 523.0 172.3 522.5 173.5 521.9 174.7 521.2 175.8 520.5 176.8 519.8 177.8 519.1 178.7 518.2 179.8 517.3 180.8 516.3 181.7 515.2 182.5 514.2 183.2 513.3 184.0 512.2 184.7 511.2 185.4 510.0 186.1 508.8 186.8 507.6 187.3 506.5 187.9 505.2 188.4 504.0 188.9 502.8 189.2 501.6 189.7 500.2 190.0 499.0 190.3 497.8 190.6 496.5 190.9 495.2 191.1 494.0 191.2 492.8 191.4 491.5 191.5 490.2 191.6 489.0 191.6 487.8 191.6 486.5 191.6 485.2 191.5 484.0 191.4 482.8 191.3 481.5 191.1 480.2 190.9 479.0 190.7 477.8 190.4 476.5 190.1 475.2 189.7 474.0 189.3 472.8 188.8 471.5 188.3 470.2 187.8 469.1 187.2 468.0 186.5 466.8 185.8 465.8 185.1 464.8 184.4 463.8 183.6 462.8 182.8 461.8 181.8 460.8 180.8 460.0 179.8 459.2 178.8 458.4 177.6 457.8 176.5 457.1 175.2 456.6 174.0 456.1 172.8 455.7 171.5 455.4 170.2 455.2 169.0 455.1 167.8 455.1 166.5 455.1 165.2 455.2 164.0 455.4 163.8 455.5M160.8 456.3 159.5 456.8 158.2 457.4 157.1 458.0 156.0 458.7 155.0 459.4 154.0 460.1 153.0 460.9 152.0 461.8 151.0 462.8 150.1 463.8 149.2 464.7 148.4 465.8 147.6 466.8 146.9 467.8 146.2 468.8 145.5 470.0 144.8 471.2 144.2 472.4 143.7 473.5 143.2 474.8 142.7 476.0 142.2 477.2 141.8 478.5 141.4 479.8 141.0 481.0 140.8 482.2 140.5 483.5 140.2 484.7 140.0 486.0 139.9 487.2 139.8 488.5 139.7 489.8 139.6 491.0 139.6 492.2 139.6 493.5 139.6 494.8 139.7 496.0 139.8 497.2 139.9 498.5 140.1 499.8 140.3 501.0 140.6 502.2 140.9 503.5 141.2 504.8 141.6 506.0 142.1 507.2 142.5 508.4 143.0 509.5 143.5 510.6 144.1 511.8 144.8 512.9 145.5 514.0 146.1 515.0 146.9 516.0 147.7 517.0 148.7 518.0 149.7 519.0M151.8 520.7 152.8 521.4 153.8 522.0 155.0 522.6 156.2 523.2 157.5 523.6 158.8 524.0 160.0 524.2 161.2 524.4 162.5 524.5 163.8 524.5 164.8 524.5M209.2 502.2 209.5 501.0 209.8 499.8 210.0 498.5 210.2 497.2 210.4 496.0 210.6 494.8 210.8 493.5 210.9 492.2 211.0 491.0 211.1 489.8 211.2 488.5 211.2 487.2 211.3 486.0 211.3 484.8 211.3 483.5 211.3 482.2 211.2 481.0 211.2 479.8 211.1 478.5 211.0 477.2 210.8 476.0 210.7 474.8 210.5 473.5 210.3 472.2 210.1 471.0 209.9 469.8 209.6 468.5 209.3 467.2 209.0 466.0 208.7 464.8 208.3 463.5 207.9 462.2 207.5 461.0 207.1 459.8 206.9 459.2M165.0 518.5 163.8 518.6 162.5 518.6 161.2 518.5 160.0 518.2 158.8 517.9 157.5 517.5 156.2 516.9 155.1 516.2 154.0 515.5 153.0 514.8 152.1 514.0 151.1 513.0 150.2 512.1 149.4 511.0 148.7 510.0 148.0 508.9 147.3 507.8 146.8 506.6 146.2 505.4 145.8 504.2 145.4 503.0 145.0 501.8 144.7 500.5 144.4 499.2 144.2 498.0 144.0 496.8 143.9 495.5 143.8 494.2 143.7 493.0 143.7 491.8 143.8 490.5 143.9 489.2 144.0 488.0 144.1 486.8 144.4 485.5 144.6 484.2 144.9 483.0 145.2 481.8 145.6 480.5 146.0 479.3 146.3 478.5M147.4 476.0 148.0 474.8 148.7 473.5 149.5 472.2 150.2 471.2 150.9 470.2 151.7 469.2 152.5 468.3 153.5 467.3 154.5 466.4 155.5 465.5 156.5 464.8 157.5 464.1 158.6 463.5 159.8 462.9 161.0 462.4 162.2 462.0 163.5 461.6 164.8 461.4 166.0 461.3 167.2 461.3 168.5 461.3 169.8 461.5 171.0 461.8 172.2 462.1 173.5 462.6 174.8 463.2 176.0 464.0 177.0 464.7 178.0 465.5 179.0 466.5 180.0 467.5 180.8 468.4 181.5 469.4 182.2 470.5 182.9 471.8 183.5 472.9 184.0 474.0 184.5 475.1 185.0 476.5 185.4 477.8 185.7 479.0 186.0 480.2 186.2 481.5 186.4 482.8 186.5 484.0 186.6 485.2 186.7 486.5 186.7 487.8 186.7 489.0 186.6 490.2 186.5 491.5 186.4 492.8 186.2 494.0 185.9 495.2 185.7 496.5 185.3 497.8 185.0 499.0 184.5 500.2 184.1 501.5 183.6 502.8 183.0 504.0 182.4 505.2M181.0 507.5 180.4 508.5 179.6 509.5 178.8 510.5 178.0 511.5 177.0 512.5 176.0 513.4 175.0 514.2 174.0 515.0 173.0 515.7 171.8 516.4 170.6 517.0 169.4 517.5 168.0 517.9 166.8 518.2 165.5 518.5 165.0 518.5M124.7 525.2 124.1 524.0 123.6 522.8 123.2 521.5 122.8 520.3 122.3 519.0 121.9 517.8 121.6 516.5 121.2 515.3 120.9 514.0 120.6 512.8 120.3 511.5 120.1 510.2 119.9 509.0 119.7 507.8 119.5 506.5 119.3 505.2 119.1 504.0 119.0 502.8 118.9 501.5 118.8 500.2 118.7 499.0 118.7 497.8 118.7 496.5 118.6 495.2 118.6 494.0 118.7 492.8 118.7 491.5 118.7 490.2 118.8 489.0 118.9 487.8 119.0 486.5 119.1 485.2 119.3 484.0 119.5 482.8 119.6 481.5 119.8 480.2 120.0 479.0 120.3 477.8 120.5 476.5 120.8 475.2 121.1 474.0 121.4 472.8 121.7 471.5 122.1 470.2 122.5 469.0 122.9 467.8 123.2 466.6 123.7 465.2 123.9 464.8M165.4 512.5 166.6 512.2 168.0 511.8 169.2 511.3 170.3 510.8 171.5 510.0 172.5 509.3 173.4 508.5 174.5 507.5 175.4 506.5 176.2 505.5 176.9 504.5 177.7 503.2 178.4 502.0 179.0 500.9 179.5 499.8 180.0 498.5 180.4 497.2 180.8 496.1 181.1 494.8 181.3 493.5 181.5 492.2 181.7 491.0 181.8 489.8 181.8 488.5 181.8 487.2 181.7 486.0 181.6 484.8 181.4 483.5 181.2 482.2 180.9 481.0 180.5 479.8 180.1 478.5 179.6 477.2 179.0 476.1 178.4 475.0 177.6 473.8 176.8 472.8 176.0 471.8 175.0 470.9 174.0 470.1 173.0 469.4 171.9 468.8 170.8 468.3 169.5 467.9 168.2 467.6 167.0 467.5 165.8 467.5 164.5 467.6 163.2 467.8 162.0 468.2 160.8 468.7 159.6 469.2 158.5 469.9 157.5 470.6 156.5 471.4 155.6 472.2 154.6 473.2 153.8 474.2 153.0 475.2 152.4 476.2 151.6 477.5 151.0 478.7 150.5 479.8 150.0 480.9 149.5 482.2 149.1 483.5 148.8 484.8 148.5 486.0 148.3 487.2 148.1 488.5 148.0 489.8 147.9 491.0 147.9 492.2M148.1 494.8 148.2 496.0 148.4 497.2 148.7 498.5 149.0 499.7 149.4 501.0 149.9 502.2 150.5 503.5 151.1 504.8 151.9 506.0 152.6 507.0 153.5 508.0 154.5 509.0 155.5 509.9 156.5 510.6 157.7 511.2 158.8 511.8 160.0 512.2 161.2 512.5 162.5 512.6 163.8 512.6 165.0 512.6 165.4 512.5M215.4 472.2 215.6 473.5 215.7 474.8 215.9 476.0 216.0 477.2 216.0 478.5 216.1 479.8 216.2 481.0 216.2 482.2 216.2 483.5 216.2 484.8 216.2 486.0 216.1 487.2 216.1 488.5 216.0 489.7 215.9 491.0 215.8 492.2 215.7 493.5 215.5 494.8 215.3 496.0 215.2 497.2 214.9 498.5 214.7 499.8 214.5 500.9 214.5 501.0M165.2 506.5 164.0 506.7 162.8 506.7 161.5 506.5 160.2 506.1 159.0 505.5 157.8 504.8 156.8 503.9 155.9 503.0 155.1 502.0 154.4 500.8 153.8 499.6 153.2 498.3 152.8 497.0 152.5 495.8 152.3 494.5 152.2 493.2 152.1 492.0 152.1 490.8 152.2 489.5 152.4 488.2 152.6 487.0 152.9 485.8 153.2 484.5 153.7 483.2 154.2 482.1 154.8 481.0 155.5 479.9 156.2 478.8 157.1 477.8 158.0 476.9 159.0 476.0 160.0 475.3 161.2 474.6 162.5 474.1 163.8 473.8 165.0 473.7 166.2 473.7 167.5 473.9 168.8 474.2 169.2 474.4M171.2 475.6 172.2 476.5 173.2 477.5 174.0 478.5 174.7 479.8 175.3 481.0 175.8 482.2 176.2 483.5 176.5 484.8 176.7 486.0 176.8 487.2 176.9 488.5 176.9 489.8 176.8 491.0 176.6 492.2 176.4 493.5 176.1 494.8 175.7 496.0 175.2 497.1 174.8 498.2 174.1 499.5 173.3 500.8 172.6 501.8 171.8 502.7 170.8 503.7 169.8 504.5 168.8 505.2 167.6 505.8 166.5 506.2 165.2 506.5M165.2 500.5 166.4 500.0 167.5 499.3 168.4 498.5 169.2 497.6 170.0 496.5 170.7 495.2 171.2 494.0 171.6 492.8 171.8 491.5 171.9 490.2 172.0 489.0 171.9 487.8 171.6 486.5 171.3 485.2 170.8 484.0 170.0 482.8 169.2 481.8 168.2 481.0 167.0 480.3 165.8 479.9 164.5 479.8 163.2 480.0 162.0 480.5 160.8 481.2 159.8 482.1 158.8 483.2 158.1 484.2 157.5 485.5 157.0 486.8 156.7 488.0 156.4 489.2 156.3 490.5 156.3 491.8 156.4 493.0 156.7 494.2 157.0 495.4 157.5 496.6 158.2 497.8 159.0 498.7 160.0 499.6 161.1 500.2 162.5 500.7 163.0 500.7M219.7 499.5 219.9 498.2 220.1 497.0 220.2 496.0M177.5 526.1 176.4 526.8 175.2 527.4 174.1 528.0 173.5 528.2" fill="none" stroke="#0d0d0d" stroke-width="2.35" stroke-linecap="round" stroke-linejoin="round"/>
<path d="M219.8 502.2 218.5 502.5 217.3 502.8 216.0 503.0 214.8 503.3 213.5 503.6 212.2 503.9 211.0 504.1 209.8 504.4 208.5 504.7 207.2 505.0 206.0 505.2 204.8 505.5 203.5 505.8 202.2 506.1 201.0 506.3 199.8 506.6 198.5 506.9 197.2 507.2 196.0 507.4 194.8 507.7M187.8 515.3 189.0 515.1 190.2 514.8 191.5 514.5 192.7 514.2 194.0 514.0 195.2 513.7 196.5 513.4 197.8 513.1 199.0 512.9 200.2 512.6 201.5 512.3 202.8 512.0 204.0 511.8 205.2 511.5 206.5 511.2 207.8 510.9 209.0 510.7 210.2 510.4 211.5 510.1 212.8 509.8 214.0 509.6 215.2 509.3 216.5 509.0 217.7 508.8 218.5 508.6M216.2 515.2 215.0 515.4 213.8 515.7 212.5 516.0 211.2 516.3 210.0 516.6 208.8 516.8 207.5 517.1 206.2 517.4 205.0 517.6 203.8 517.9 202.5 518.2 201.2 518.5 200.0 518.8 198.8 519.0 197.5 519.3 196.2 519.6 195.0 519.9 193.8 520.1 192.5 520.4 191.2 520.7 190.0 520.9 188.8 521.2 187.5 521.5 186.2 521.8 185.0 522.1 183.8 522.3 182.5 522.6 181.2 522.9 181.0 522.9M138.0 538.5 139.2 538.2 140.5 537.9 141.8 537.7 143.0 537.4 144.2 537.1 145.5 536.8 146.8 536.6 148.0 536.3 149.2 536.0 150.5 535.8 151.8 535.5 153.0 535.2 154.2 534.9 155.5 534.6 156.8 534.4 158.0 534.1 159.2 533.8 160.5 533.5 161.8 533.3 163.0 533.0 164.2 532.7 165.5 532.4 166.8 532.2 168.0 531.9 169.2 531.6 170.5 531.3 171.8 531.1 173.0 530.8 174.2 530.5 175.5 530.2 176.8 530.0 178.0 529.7 179.2 529.4 180.5 529.1 181.8 528.9 183.0 528.6 184.2 528.3 185.5 528.0 186.8 527.8 188.0 527.5 189.2 527.2 190.5 526.9 191.8 526.7 193.0 526.4 194.2 526.1 195.5 525.8 196.8 525.6 198.0 525.3 199.0 525.1M200.8 524.7 202.0 524.4 203.2 524.1 204.5 523.9 205.8 523.6 207.0 523.3 208.2 523.0 209.5 522.8 210.7 522.5 212.0 522.2 212.5 522.1M207.2 529.4 206.0 529.6 204.8 529.9 203.5 530.2 202.2 530.5 201.0 530.7 199.8 531.0 198.5 531.3 197.2 531.6 196.0 531.8 194.8 532.1 193.5 532.4 192.2 532.7 191.0 532.9 189.8 533.2 188.5 533.5 187.3 533.8 186.0 534.0 184.8 534.3 183.5 534.6 182.2 534.9 181.0 535.1 179.8 535.4 178.5 535.7 177.2 536.0 176.0 536.2 174.8 536.5 173.5 536.8 172.2 537.1 171.0 537.3 169.8 537.6 168.5 537.9 167.2 538.2 166.0 538.4 164.8 538.7 163.5 539.0 162.3 539.2 161.0 539.5 159.8 539.8 158.5 540.1 157.2 540.4 156.0 540.6 154.8 540.9 153.5 541.2 152.2 541.5 151.0 541.7 149.8 542.0 148.5 542.3 147.2 542.6 146.2 542.8M144.3 531.0 143.0 531.3 141.8 531.6 140.5 531.8 139.2 532.1 138.0 532.4 136.8 532.7 135.5 532.9 134.2 533.2 133.0 533.5 132.0 533.7M157.5 546.4 158.8 546.1 160.0 545.9 161.2 545.6 162.5 545.3 163.8 545.0 165.0 544.8 166.2 544.5 167.5 544.2 168.8 543.9 170.0 543.6 171.2 543.4 172.5 543.1 173.8 542.8 175.0 542.6 176.2 542.3 177.5 542.0 178.8 541.7 180.0 541.4 181.2 541.2 182.5 540.9 183.8 540.6 185.0 540.4 186.2 540.1 187.5 539.8 188.8 539.5 190.0 539.2 191.2 539.0 192.5 538.7 193.8 538.4 195.0 538.1 196.2 537.9 197.5 537.6 198.2 537.4" fill="none" stroke="#0d0d0d" stroke-width="2.35" stroke-linecap="round" stroke-linejoin="round"/>
<path d="M163.6 491.7 163.5 491.8 163.4 491.8 163.3 491.9 163.2 491.9 163.1 491.9 162.9 491.9 162.8 491.9 162.7 491.8 162.6 491.8 162.4 491.7 162.3 491.5 162.2 491.4 162.1 491.2 162.0 491.0 161.9 490.8 161.9 490.6 161.8 490.4 161.8 490.1 161.8 489.8 161.8 489.5 161.8 489.3 161.8 489.0 161.9 488.7 162.0 488.4 162.1 488.2 162.3 487.9 162.4 487.7 162.6 487.5 162.8 487.3 163.0 487.1 163.2 487.0 163.5 486.9 163.7 486.8 164.0 486.8 164.2 486.8 164.5 486.9 164.8 487.0 165.0 487.1 165.3 487.3 165.5 487.5 165.8 487.8 166.0 488.1 166.2 488.4 166.4 488.8 166.5 489.2 166.6 489.6 166.7 490.1 166.8 490.6 166.8 491.1 166.8 491.6 166.8 492.1 166.7 492.6 166.6 493.1 166.4 493.6 166.3 494.0 166.0 494.5 165.8 494.9 165.5 495.3 165.2 495.6 164.9 495.9 164.5 496.1 164.1 496.3 163.7 496.5 163.3 496.5 162.9 496.6 162.5 496.5 162.1 496.4 161.6 496.2 161.2 496.0 160.8 495.7 160.5 495.3 160.1 494.9 159.8 494.4 159.5 493.9 159.2 493.3 159.0 492.7 158.8 492.1 158.7 491.4 158.6 490.7 158.6 490.0 158.6 489.2 158.6 488.5 158.8 487.8 158.9 487.0 159.1 486.3 159.4 485.7 159.7 485.0 160.1 484.5 160.5 483.9 160.9 483.4 161.4 483.0 161.9 482.7 162.4 482.4 163.0 482.2 163.5 482.1 164.1 482.1 164.7 482.1 165.3 482.3 165.8 482.5" fill="none" stroke="#0d0d0d" stroke-width="2" stroke-linecap="round"/>
<path d="M270.3 504.0 270.0 502.8 269.7 501.5 269.5 500.2 269.3 499.0 269.1 497.8 268.9 496.5 268.8 495.2 268.7 494.0 268.6 492.8 268.6 491.5 268.6 490.2 268.6 489.0 268.6 487.8 268.7 486.5 268.8 485.2 269.0 484.0 269.2 482.8 269.4 481.5 269.6 480.2 269.9 479.0 270.2 477.8 270.5 476.5 270.9 475.2 271.3 474.0 271.8 472.8 272.3 471.5 272.8 470.2 273.4 469.0 274.0 467.9 274.6 466.8 275.2 465.6 275.9 464.5 276.7 463.2 277.4 462.2 278.2 461.2 279.0 460.2 279.8 459.3 280.6 458.2 281.5 457.3 282.5 456.3 283.5 455.3 284.4 454.5 285.5 453.6 286.5 452.8 287.5 452.0 288.5 451.3 289.5 450.6 290.8 449.8 292.0 449.0 293.2 448.3 294.4 447.8 295.5 447.2 296.8 446.6 298.0 446.1 299.2 445.6 300.5 445.2 301.8 444.8 303.0 444.4 304.2 444.1 305.5 443.8 306.8 443.6 308.0 443.3 308.8 443.2M310.8 443.0 312.0 442.8 313.2 442.8 313.3 442.8M357.8 514.8 358.5 513.6 359.1 512.5 359.8 511.3 360.4 510.0 360.9 508.8 361.4 507.5 361.8 506.3 362.2 505.0 362.5 503.8 362.8 502.5 363.0 501.2 363.2 500.0 363.4 498.8 363.5 497.5 363.5 496.2 363.6 495.0 363.6 493.8 363.5 492.5 363.5 491.2 363.3 490.0 363.2 488.8 363.0 487.5 362.8 486.2 362.5 485.0 362.2 483.8 361.8 482.5 361.4 481.2 361.0 480.0 360.5 478.8 360.0 477.5 359.5 476.3 358.9 475.0 358.2 473.8 357.7 472.8 357.0 471.6 356.3 470.5 355.5 469.3 354.8 468.2 354.0 467.2 353.2 466.3 352.4 465.2 351.5 464.2 350.6 463.2 349.8 462.4 348.8 461.5 348.0 460.8M346.3 459.2 345.2 458.4 344.2 457.6 343.2 456.9 342.2 456.2 341.1 455.5 340.0 454.8 338.8 454.1 337.7 453.5 336.5 452.9 335.2 452.3 334.0 451.8 332.8 451.3 331.5 450.8 330.2 450.4 329.1 450.0 327.8 449.6 326.5 449.3 325.2 449.0 324.0 448.8 322.8 448.6 321.5 448.4 320.2 448.3 319.0 448.2 317.8 448.1 316.5 448.1 315.2 448.1 314.0 448.1 312.8 448.2 311.5 448.3 310.2 448.5 309.0 448.6 307.8 448.9 306.5 449.1 305.2 449.4 304.1 449.8 302.8 450.2 301.5 450.6 301.0 450.8M298.2 451.9 297.0 452.5 295.8 453.2 294.7 453.8 293.5 454.5 292.3 455.2 291.2 456.0 290.2 456.7 289.3 457.5 288.2 458.4 287.3 459.2 286.2 460.2 285.3 461.2 284.4 462.2 283.5 463.2 282.8 464.2 282.0 465.2 281.3 466.2 280.5 467.5 279.8 468.7 279.0 470.0 278.4 471.2 277.8 472.5 277.3 473.8 276.8 475.0 276.3 476.2 275.9 477.5 275.6 478.8 275.2 480.0 275.0 481.2 274.7 482.5 274.5 483.8 274.3 485.0 274.2 486.2 274.1 487.5 274.0 488.8 274.0 490.0 274.0 491.2 274.0 492.5 274.1 493.8 274.2 495.0 274.3 496.2 274.5 497.5 274.7 498.8 275.0 500.0 275.2 501.2 275.5 502.5 275.7 503.2M281.2 502.5 280.8 501.2 280.5 500.0 280.2 498.8 280.0 497.5 279.8 496.2 279.7 495.0 279.5 493.8 279.5 492.5 279.4 491.2 279.4 490.0 279.5 488.8 279.5 487.5 279.6 486.2 279.8 485.0 280.0 483.8 280.2 482.5 280.5 481.2 280.8 480.0 281.2 478.8 281.6 477.5 282.1 476.2 282.6 475.0 283.2 473.8 283.9 472.5 284.5 471.4 285.2 470.2 286.0 469.0 286.7 468.0 287.5 467.0 288.2 466.1 289.2 465.0 290.2 464.0 290.9 463.2M292.9 461.5 293.9 460.8 294.9 460.0 296.0 459.3 297.2 458.5 298.5 457.8 299.6 457.2 300.8 456.7 302.0 456.2 303.2 455.7 304.5 455.3 305.8 454.9 307.0 454.5 308.2 454.3 309.5 454.0 310.8 453.8 312.0 453.7 313.2 453.6 314.5 453.5 315.8 453.5 317.0 453.5 318.2 453.5 319.5 453.6 320.8 453.7 322.0 453.9 323.2 454.1 324.5 454.4 325.8 454.7 327.0 455.0 328.2 455.4 329.5 455.8 330.7 456.2 332.0 456.8 333.1 457.2 334.2 457.8 335.5 458.4 336.8 459.1M338.8 460.4 339.8 461.1 340.7 461.8 341.7 462.5 342.7 463.2 343.8 464.2 344.7 465.0 345.7 466.0 346.7 467.0 347.6 468.0 348.5 469.0 349.2 469.9 350.0 470.9 350.8 472.0 351.5 473.0 352.2 474.2 353.0 475.5 353.7 476.8 354.2 477.9 354.8 479.0 355.2 480.1 355.7 481.2 356.2 482.5 356.6 483.8 356.9 485.0 357.2 486.2 357.5 487.5 357.7 488.8 357.9 490.0 358.0 491.2 358.1 492.5 358.2 493.8 358.2 495.0 358.1 496.2 358.0 497.5 357.9 498.8 357.7 500.0 357.5 501.2 357.2 502.5 356.9 503.8 356.5 504.9 356.0 506.2 355.5 507.5 355.0 508.7 354.3 510.0 353.6 511.2 352.8 512.5 352.1 513.5 351.4 514.5 350.6 515.5 350.5 515.6M348.8 517.4 347.8 518.4 346.8 519.2 345.8 520.0 344.8 520.7 344.7 520.8M333.5 520.0 334.8 519.6 335.9 519.2 337.2 518.8 338.3 518.2 339.5 517.6 340.6 517.0 341.7 516.2 342.7 515.5 343.8 514.7 344.8 513.8 345.7 512.8 346.6 511.8 347.4 510.8 348.1 509.8 348.9 508.5 349.6 507.2 350.2 506.0 350.8 504.9 351.2 503.5 351.6 502.2 352.0 501.0 352.2 499.8 352.5 498.5 352.6 497.2 352.7 496.0 352.7 494.8 352.7 493.5 352.7 492.2 352.5 491.0 352.4 489.8 352.2 488.5 351.9 487.2 351.6 486.0 351.2 484.8 350.8 483.5 350.3 482.2 349.8 481.1 349.1 479.8 348.5 478.6 347.9 477.5 347.2 476.5 346.5 475.3 345.8 474.3 345.0 473.3 344.1 472.2 343.2 471.3 342.3 470.2 341.3 469.2 340.2 468.3 339.3 467.5 338.2 466.6 337.2 465.9 336.2 465.2 335.2 464.5 334.0 463.8 332.8 463.1 331.6 462.5 330.5 462.0 329.4 461.5 328.2 461.1 327.0 460.6 325.8 460.2 324.5 459.9 323.2 459.6 322.0 459.3 320.8 459.1 319.5 459.0 318.2 458.9 317.0 458.8 315.8 458.8 314.5 458.9 313.2 458.9 312.0 459.1 310.8 459.2 309.5 459.5M307.4 460.0 306.2 460.3 305.1 460.8 303.8 461.2 302.7 461.8 301.5 462.3 300.3 463.0 299.0 463.8 298.0 464.5 297.0 465.2 296.0 466.0 295.0 466.9 294.1 467.8 293.1 468.8 292.2 469.7 291.4 470.8 290.7 471.8 290.0 472.8 289.2 474.0 288.5 475.2 287.9 476.5 287.4 477.8 286.9 479.0 286.4 480.2 286.1 481.5 285.8 482.7 285.5 484.0 285.2 485.2 285.1 486.5 284.9 487.8 284.9 489.0 284.8 490.2 284.8 491.5 284.9 492.8 285.0 494.0 285.1 495.2 285.3 496.5 285.6 497.8 285.8 499.0 286.2 500.2 286.5 501.4 286.6 501.8M292.1 501.0 291.7 499.8 291.3 498.5 291.0 497.2 290.8 496.0 290.6 494.8 290.4 493.5 290.3 492.2 290.3 491.0 290.3 489.8 290.3 488.5 290.5 487.2 290.6 486.0 290.9 484.8 291.1 483.5 291.5 482.3 291.9 481.0 292.4 479.8 293.0 478.5 293.6 477.2 294.2 476.2 295.0 475.1 295.8 474.0 296.6 473.0 297.5 472.0 298.5 471.0 299.5 470.1 300.5 469.3 301.5 468.6 302.8 467.8 304.0 467.1 305.2 466.5 306.4 466.0 307.8 465.5 309.0 465.1 310.2 464.8 311.5 464.6 312.8 464.4 314.0 464.3 315.2 464.2 316.5 464.2 317.8 464.2 319.0 464.3 320.2 464.5 321.5 464.7 322.8 465.0 324.0 465.3 325.2 465.7 326.5 466.1 327.8 466.6 329.0 467.2 330.1 467.8 331.2 468.4 332.5 469.2 333.5 469.8 334.5 470.6 335.5 471.3 336.5 472.2 337.4 473.0 338.2 473.8 339.1 474.8 340.0 475.8 340.8 476.8 341.6 477.8 342.3 478.8 343.0 479.9 343.4 480.5M344.4 482.5 345.0 483.8 345.5 485.0 345.9 486.2 346.3 487.5 346.6 488.8 346.9 490.0 347.1 491.2 347.2 492.5 347.3 493.8 347.3 495.0 347.2 496.2 347.1 497.5 346.9 498.8 346.6 500.0 346.2 501.2 345.8 502.5 345.3 503.8 344.6 505.0 344.0 506.1 343.2 507.2 342.5 508.1 341.5 509.2 340.5 510.2 339.5 511.1 338.5 511.8 337.5 512.5 336.2 513.2 335.0 513.8 333.8 514.2 332.5 514.6 331.2 515.0 330.0 515.2 328.8 515.3 327.5 515.4 326.2 515.4 325.0 515.4 323.8 515.2 322.5 515.0 321.8 514.9M319.2 514.2 318.1 513.8 317.0 513.3 315.9 512.8 314.8 512.1 313.7 511.5 312.6 510.8 311.6 510.0 310.5 509.1 309.5 508.2 308.5 507.3 307.6 506.2 306.8 505.3 306.0 504.3 305.3 503.2 304.5 502.0 303.8 500.8 303.2 499.6 302.8 498.5 302.3 497.2 302.0 496.0 301.7 494.8 301.5 493.5 301.3 492.2 301.3 491.0 301.3 489.8 301.4 488.5 301.6 487.2 301.9 486.0 302.3 484.8 302.9 483.5 303.5 482.3 304.2 481.2 305.0 480.2 305.9 479.2 307.0 478.3 308.0 477.5 309.2 476.8 310.4 476.2 311.5 475.8 312.8 475.5 314.0 475.2 315.2 475.1 316.5 475.0 317.8 475.0 319.0 475.2 320.2 475.4 321.5 475.7 322.8 476.2 324.0 476.7 325.1 477.2 326.2 477.9 327.5 478.7 328.5 479.5 329.5 480.4 330.4 481.2 331.2 482.2 332.1 483.2 332.9 484.2 333.5 485.3 334.2 486.5 334.8 487.7 334.9 488.0M335.8 490.9 336.0 492.2 336.0 493.5 336.0 494.8 335.8 496.0 335.4 497.2 334.8 498.5 334.1 499.5 333.2 500.4 332.2 501.2 331.0 502.0 329.8 502.5 328.5 502.8 327.2 502.9 326.0 502.9 324.8 502.6 323.5 502.2 322.2 501.6 321.0 500.8 320.0 499.9 319.1 498.8 318.3 497.5 317.9 496.2 317.7 495.0 317.9 493.8 318.5 492.6 319.8 491.9 321.0 492.2 322.0 492.8 323.2 493.1 324.4 492.5 325.1 491.2 325.3 490.0 325.1 488.8 324.7 487.5 324.0 486.3 323.2 485.4 322.4 484.5 321.4 483.8 320.2 483.1 319.0 482.6 317.8 482.3 316.5 482.1 315.2 482.1 314.0 482.3 312.8 482.7 311.6 483.2 310.5 484.0 309.5 484.9 308.6 486.0 307.8 487.2 307.3 488.5 307.0 489.8 307.0 491.0 307.0 492.2 307.1 493.5 307.4 494.8 307.8 495.9 308.2 497.2 308.8 498.4 309.4 499.5 310.0 500.5 310.8 501.6 311.5 502.5 312.4 503.5 313.2 504.4 314.2 505.2 315.1 506.0 316.2 506.8 317.2 507.4 318.4 508.0 319.5 508.5 320.7 509.0 322.0 509.4 323.2 509.7 324.5 509.9 325.8 510.0 327.0 510.0 328.2 509.9 329.5 509.7 330.8 509.4 332.0 509.0 333.2 508.5 334.2 507.9M336.2 506.5 337.2 505.6 338.2 504.5 339.0 503.5 339.7 502.2 340.4 501.0 340.8 499.8 341.2 498.5 341.5 497.2 341.6 496.0 341.7 494.8 341.7 493.5 341.6 492.2 341.5 491.0 341.2 489.8 340.9 488.5 340.5 487.3 340.0 486.0 339.5 484.9 338.9 483.8 338.2 482.6 337.6 481.5 336.9 480.5 336.1 479.5 335.2 478.5 334.3 477.5 333.2 476.5 332.2 475.6 331.2 474.9 330.2 474.1 329.0 473.3 327.8 472.6 326.6 472.0 325.5 471.5 324.2 471.0 323.0 470.6 321.8 470.2 320.5 470.0 319.2 469.8 318.0 469.6 316.8 469.6 315.5 469.6 314.2 469.7 313.0 469.8 311.8 470.0 310.5 470.4 309.3 470.8 308.0 471.2 306.9 471.8 305.8 472.4 305.1 472.8M302.8 474.5 301.8 475.5 300.8 476.5 300.0 477.5 299.3 478.5 298.5 479.8 297.9 481.0 297.3 482.2 296.9 483.5 296.5 484.7 296.2 486.0 296.0 487.2 295.8 488.5 295.7 489.8 295.7 491.0 295.8 492.2 295.9 493.5 296.1 494.8 296.3 496.0 296.6 497.2 297.0 498.5 297.4 499.8 297.9 501.0 298.5 502.2 299.0 503.3 299.6 504.5 300.4 505.8 300.7 506.2M263.2 488.0 263.1 489.2 263.1 490.5 263.1 491.8 263.2 493.0 263.2 494.2 263.3 495.5 263.5 496.8 263.6 498.0 263.8 499.2 264.0 500.5 264.2 501.8 264.5 503.0 264.8 504.2 264.9 504.8" fill="none" stroke="#0d0d0d" stroke-width="2.35" stroke-linecap="round" stroke-linejoin="round"/>
<path d="M300.8 506.9 299.5 506.9 298.2 506.8 297.0 506.7 295.8 506.5 294.5 506.4 293.2 506.2 292.0 506.0 290.8 505.8 289.5 505.6 288.2 505.4 287.0 505.2 285.8 505.0 284.5 504.8 283.2 504.6 282.0 504.4 280.8 504.2 279.5 504.0 278.2 503.9 277.0 503.7 275.8 503.6 275.2 503.6M264.5 509.2 265.8 509.2 267.0 509.1 268.2 509.1 269.5 509.1 270.8 509.1 272.0 509.1 273.2 509.1 274.5 509.2 275.8 509.3 277.0 509.4 278.2 509.6 279.5 509.7 280.8 509.9 282.0 510.1 283.2 510.3 284.5 510.5 285.8 510.7 287.0 510.9 288.2 511.1 289.5 511.3 290.8 511.5 292.0 511.7 293.2 511.9 294.5 512.1 295.8 512.2 297.0 512.4 298.2 512.5 299.5 512.6 300.8 512.6 302.0 512.7 303.2 512.7 304.5 512.7 305.8 512.7 307.0 512.6 308.2 512.5 308.8 512.5M315.8 517.6 314.5 517.7 313.2 517.9 312.0 518.0 310.8 518.1 309.5 518.2 308.2 518.2 307.0 518.3 305.8 518.4 304.5 518.4 303.2 518.4 302.0 518.4 300.8 518.3 299.5 518.3 298.2 518.2 297.0 518.1 295.8 517.9 294.5 517.8 293.2 517.6 292.0 517.4 290.8 517.2 289.5 517.0 288.2 516.8 287.0 516.6 285.8 516.4 284.5 516.2 283.2 516.0 282.0 515.8 280.8 515.6 279.5 515.4 278.2 515.3 277.0 515.1 275.8 515.0 274.5 514.9 273.2 514.8 272.0 514.8 270.8 514.8 269.5 514.7 268.2 514.8 267.0 514.8 266.5 514.8M358.2 514.9 359.5 514.9 360.8 514.9 362.0 514.9 363.2 514.9 363.5 514.9M360.8 520.6 359.5 520.6 358.2 520.6 357.0 520.6 355.8 520.5 354.5 520.4 353.2 520.3 352.0 520.2 350.8 520.0 349.5 519.8 348.2 519.7M269.2 520.5 270.5 520.5 271.8 520.5 273.0 520.5 274.2 520.6 275.5 520.7 276.8 520.8 278.0 520.9 279.2 521.1 280.5 521.2 281.8 521.4 283.0 521.6 284.2 521.8 285.5 522.1 286.8 522.3 288.0 522.5 289.2 522.7 290.5 522.9 291.8 523.1 293.0 523.3 294.2 523.5 295.5 523.6 296.8 523.7 298.0 523.9 299.2 524.0 300.5 524.0 301.8 524.1 303.0 524.1 304.2 524.1 305.5 524.1 306.8 524.0 308.0 524.0 309.2 523.9 310.5 523.8 311.8 523.7 313.0 523.6 314.2 523.5 315.5 523.4 316.8 523.2 318.0 523.1 319.2 523.0 320.5 522.9 321.8 522.9 323.0 522.8 324.2 522.7 325.5 522.7 326.8 522.7 328.0 522.7 329.2 522.8 330.5 522.8 331.8 522.9 333.0 523.0 334.2 523.2 335.2 523.3M337.5 523.6 338.8 523.8 340.0 524.0 341.2 524.2 342.5 524.4 343.8 524.6 345.0 524.8 346.2 525.0 347.5 525.2 348.8 525.4 350.0 525.6 351.2 525.8 352.5 525.9 353.8 526.1 355.0 526.2 356.2 526.2 357.0 526.3M352.2 531.6 351.0 531.4 349.8 531.3 348.5 531.1 347.2 530.9 346.0 530.7 344.8 530.5 343.5 530.3 342.2 530.1 341.0 529.8 339.8 529.6 338.5 529.4 337.3 529.2 336.0 529.1 334.8 528.9 333.5 528.8 332.2 528.7 331.0 528.6 329.8 528.5 328.5 528.4 327.2 528.4 326.0 528.4 324.8 528.4 323.5 528.5 322.2 528.5 321.0 528.6 319.8 528.7 318.5 528.8 317.2 528.9 316.0 529.0 314.8 529.1 313.5 529.2 312.2 529.4 311.0 529.5 309.8 529.6 308.5 529.6 307.2 529.7 306.0 529.7 304.8 529.8 303.5 529.8 302.2 529.8 301.0 529.7 299.8 529.7 298.5 529.6 297.2 529.5 296.0 529.4 294.8 529.2 293.5 529.1 292.2 528.9 292.0 528.8M289.0 528.4 287.8 528.1 286.5 527.9 285.2 527.7 284.0 527.5 282.8 527.3 281.5 527.1 280.2 526.9 279.0 526.8 277.8 526.6 276.5 526.5 275.2 526.4 274.0 526.3 273.0 526.2M278.5 532.4 279.8 532.6 281.0 532.7 282.2 532.9 283.5 533.1 284.8 533.3 286.0 533.5 287.2 533.8 288.5 534.0 289.8 534.2 291.0 534.4 292.2 534.6 293.5 534.8 294.8 534.9 296.0 535.1 297.2 535.2 298.5 535.3 299.8 535.4 301.0 535.4 302.2 535.5 303.5 535.5 304.8 535.5 306.0 535.4 307.2 535.4 308.5 535.3 309.8 535.3 311.0 535.2 312.2 535.1 313.5 534.9 314.8 534.8 316.0 534.7 317.2 534.6 318.5 534.5 319.8 534.4 321.0 534.3 322.2 534.2 323.5 534.2 324.8 534.1 326.0 534.1 327.2 534.1 328.5 534.1 329.8 534.2 331.0 534.3 332.2 534.4 333.5 534.5 334.8 534.6 336.0 534.8 337.2 534.9 338.5 535.1 339.8 535.3 341.0 535.5 342.2 535.8 343.5 536.0 344.8 536.2 346.0 536.4 346.8 536.5M339.8 541.0 338.5 540.8 337.2 540.6 336.0 540.5 334.8 540.3 333.5 540.2 332.2 540.1 331.0 540.0 329.8 539.9 328.5 539.8 327.2 539.8 326.0 539.8 324.8 539.8 323.5 539.9 322.2 539.9 321.0 540.0 319.8 540.1 318.5 540.2 317.2 540.3 316.0 540.4 314.8 540.5 313.5 540.6 312.3 540.8 311.0 540.9 309.8 541.0 308.5 541.0 307.2 541.1 306.0 541.1 304.8 541.2 303.5 541.2 302.2 541.2 301.0 541.1 299.8 541.1 298.5 541.0 297.2 540.9 296.0 540.8 294.8 540.6 293.5 540.5 292.2 540.3 291.0 540.1 289.8 539.9 288.5 539.7 287.8 539.5M308.0 546.8 309.2 546.7 310.5 546.6 311.8 546.5 313.0 546.4 314.2 546.3 315.5 546.2 316.8 546.0 318.0 545.9 319.2 545.8 320.5 545.7 321.8 545.7 323.0 545.6 324.2 545.5 325.5 545.5 326.8 545.5 328.0 545.5 328.2 545.5" fill="none" stroke="#0d0d0d" stroke-width="2.35" stroke-linecap="round" stroke-linejoin="round"/>
<ellipse cx="163.5" cy="319.5" rx="11.5" ry="13" fill="#d96565" fill-opacity="0.45"/>
<polygon points="133,358.8 142.3,337.6 163.6,349.6" fill="#6a88cc" fill-opacity="0.65"/>
<ellipse cx="307.5" cy="313" rx="12.5" ry="16" transform="rotate(15 307.5 313)" fill="#d96565" fill-opacity="0.45"/>
<polygon points="336.2,348.5 361,354.2 338.1,365.7" fill="#6a88cc" fill-opacity="0.65"/>
<ellipse cx="162.5" cy="490" rx="9.5" ry="13" fill="#d96565" fill-opacity="0.45"/>
<polygon points="115.6,529.7 126.2,517.3 137.6,525.9" fill="#6a88cc" fill-opacity="0.65"/>
<polygon points="188.3,514.4 195,499 205.5,503.9" fill="#6a88cc" fill-opacity="0.65"/>
<ellipse cx="310.5" cy="482" rx="8.5" ry="7.5" fill="#d96565" fill-opacity="0.45"/>
<ellipse cx="334.4" cy="502" rx="7" ry="8.5" fill="#d96565" fill-opacity="0.45"/>
<polygon points="286.6,503 294.2,494.3 307.6,504" fill="#6a88cc" fill-opacity="0.65"/>
<polygon points="355.4,518.2 364,507.7 373.6,518.2" fill="#6a88cc" fill-opacity="0.65"/>
<g stroke="#333" stroke-width="1" fill="none">
<line x1="420.0" y1="111.5" x2="544.0" y2="111.5"/>
<line x1="420.00" y1="107" x2="420.00" y2="111.5"/>
<line x1="444.80" y1="107" x2="444.80" y2="111.5"/>
<line x1="469.60" y1="107" x2="469.60" y2="111.5"/>
<line x1="494.40" y1="107" x2="494.40" y2="111.5"/>
<line x1="519.20" y1="107" x2="519.20" y2="111.5"/>
<line x1="544.00" y1="107" x2="544.00" y2="111.5"/>
</g>
<text transform="translate(416.80,93) rotate(90) scale(1.15,1)" font-size="9.8" fill="#222" stroke="#222" stroke-width="0.3">0</text>
<text transform="translate(441.60,93) rotate(90) scale(1.15,1)" font-size="9.8" fill="#222" stroke="#222" stroke-width="0.3">5</text>
<text transform="translate(466.40,93) rotate(90) scale(1.15,1)" font-size="9.8" fill="#222" stroke="#222" stroke-width="0.3">10</text>
<text transform="translate(491.20,93) rotate(90) scale(1.15,1)" font-size="9.8" fill="#222" stroke="#222" stroke-width="0.3">15</text>
<text transform="translate(516.00,93) rotate(90) scale(1.15,1)" font-size="9.8" fill="#222" stroke="#222" stroke-width="0.3">20</text>
<text transform="translate(540.80,93) rotate(90) scale(1.15,1)" font-size="9.8" fill="#222" stroke="#222" stroke-width="0.3">25</text>
<text transform="translate(454.80,93) rotate(90)" font-size="11" font-weight="bold" fill="#222">P</text>
<text transform="translate(453.80,101) rotate(90)" font-size="6" fill="#222">adj</text>
<text x="477.5" y="84" font-size="10.8" fill="#222" stroke="#222" stroke-width="0.25">-log<tspan font-size="6.5" dy="2.5">10</tspan><tspan dy="-2.5">(</tspan><tspan font-style="italic">P</tspan>)</text>
<text transform="translate(390.3,324.8) rotate(90)" font-size="7.2" font-weight="bold" fill="#333">Chromosome</text>
<path d="M420.0 125.00h18.21M420.0 126.00h18.75M420.0 127.00h18.68M420.0 128.00h18.27M420.0 129.00h18.46M420.0 130.00h22.54M420.0 131.00h18.46M420.0 132.00h17.94M420.0 133.00h18.59M420.0 134.00h19.75M420.0 135.00h20.42M420.0 136.00h21.17M420.0 137.00h18.28M420.0 138.00h18.35M420.0 139.00h18.37M420.0 140.00h28.33M420.0 141.00h18.93M420.0 142.00h19.04M420.0 143.00h23.01M420.0 144.00h18.85M420.0 145.00h19.14M420.0 146.00h19.49M420.0 147.00h23.31M420.0 148.00h18.58M420.0 149.00h21.95M420.0 150.00h23.27M420.0 151.00h18.49M420.0 152.00h20.75M420.0 153.00h22.43M420.0 154.00h17.93M420.0 155.00h21.93M420.0 156.00h17.70M420.0 157.00h17.45M420.0 158.00h27.21M420.0 159.00h27.30M420.0 160.00h17.78M420.0 161.00h18.35M420.0 162.00h17.92M420.0 163.00h26.37" stroke="#c4452f" stroke-width="1.0" fill="none" shape-rendering="crispEdges"/>
<path d="M440.41 137.16h1.18M442.50 127.97h1.61M440.86 147.65h2.13M441.64 161.43h2.44M439.81 157.86h1.39M445.81 159.47h1.62M444.38 131.81h3.35M450.99 132.07h3.21M441.19 147.74h1.26M452.15 125.99h1.60M440.19 151.63h3.06M440.39 147.46h1.44M439.29 152.23h1.57M446.65 146.04h2.54M448.97 135.29h1.51M440.25 125.14h2.11M439.78 126.83h1.92M439.56 146.53h1.91M454.75 158.80h2.64M442.51 151.11h1.35M439.07 125.85h3.28M452.16 151.49h1.05M441.63 148.99h2.83" stroke="#c4452f" stroke-width="1.0" fill="none" opacity="0.6"/>
<line x1="416" y1="143.75" x2="420" y2="143.75" stroke="#444" stroke-width="0.8"/>
<text transform="translate(407.2,143.75) rotate(90)" text-anchor="middle" font-size="8.0" font-weight="bold" fill="#222">1</text>
<path d="M420.0 163.50h18.06M420.0 164.50h17.68M420.0 165.50h18.14M420.0 166.50h18.48M420.0 167.50h18.80M420.0 168.50h18.55M420.0 169.50h18.98M420.0 170.50h18.75M420.0 171.50h19.08M420.0 172.50h19.07M420.0 173.50h19.01M420.0 174.50h18.39M420.0 175.50h18.96M420.0 176.50h19.09M420.0 177.50h19.20M420.0 178.50h18.94M420.0 179.50h18.35M420.0 180.50h17.85M420.0 181.50h21.77M420.0 182.50h18.09M420.0 183.50h22.72M420.0 184.50h18.38M420.0 185.50h22.69M420.0 186.50h18.34M420.0 187.50h18.81M420.0 188.50h21.63M420.0 189.50h19.14M420.0 190.50h19.39M420.0 191.50h19.25M420.0 192.50h18.64M420.0 193.50h18.97M420.0 194.50h19.08M420.0 195.50h21.47M420.0 196.50h21.02M420.0 197.50h18.53M420.0 198.50h18.30M420.0 199.50h18.88" stroke="#72b3d4" stroke-width="1.0" fill="none" shape-rendering="crispEdges"/>
<path d="M439.13 165.70h3.18M443.93 164.50h2.43M445.27 174.19h1.05M441.43 167.92h1.06M440.08 193.03h1.35M442.97 164.70h2.12M443.26 185.80h3.02M443.61 197.70h1.50M439.79 180.20h1.03M444.01 180.09h1.45M440.70 172.86h2.74M442.81 181.84h2.89M445.28 177.25h3.27M449.79 166.16h2.81M441.42 167.70h2.56M440.89 195.94h2.42M445.37 194.83h3.36M443.21 179.79h1.51M445.82 189.13h2.60M439.96 188.98h3.25M454.15 198.49h2.34" stroke="#72b3d4" stroke-width="1.0" fill="none" opacity="0.6"/>
<line x1="416" y1="181.10" x2="420" y2="181.10" stroke="#444" stroke-width="0.8"/>
<text transform="translate(407.2,181.10) rotate(90)" text-anchor="middle" font-size="8.0" font-weight="bold" fill="#222">2</text>
<path d="M420.0 199.70h18.59M420.0 200.70h19.02M420.0 201.70h21.47M420.0 202.70h18.70M420.0 203.70h22.86M420.0 204.70h18.09M420.0 205.70h17.81M420.0 206.70h19.89M420.0 207.70h18.35M420.0 208.70h18.76M420.0 209.70h19.18M420.0 210.70h21.39M420.0 211.70h27.64M420.0 212.70h19.22M420.0 213.70h19.42M420.0 214.70h18.96M420.0 215.70h19.22M420.0 216.70h18.70M420.0 217.70h19.17M420.0 218.70h22.21M420.0 219.70h18.92M420.0 220.70h18.27M420.0 221.70h18.33M420.0 222.70h18.70M420.0 223.70h18.63M420.0 224.70h18.10M420.0 225.70h18.09M420.0 226.70h25.49M420.0 227.70h18.18M420.0 228.70h18.61M420.0 229.70h18.54" stroke="#3f8b69" stroke-width="1.0" fill="none" shape-rendering="crispEdges"/>
<path d="M442.85 205.04h3.31M445.04 203.15h1.06M440.03 205.12h2.72M440.76 209.02h2.55M444.25 202.40h1.31M440.15 214.77h1.49M441.30 215.38h1.94M442.01 211.81h1.40M442.99 205.43h2.60M446.62 215.35h2.53M440.06 225.33h2.85M448.32 223.92h1.79M449.24 208.81h1.55M447.74 229.65h1.33M444.19 206.50h1.65M446.14 202.16h2.05M439.54 223.29h2.01M439.07 220.10h1.50" stroke="#3f8b69" stroke-width="1.0" fill="none" opacity="0.6"/>
<line x1="416" y1="214.45" x2="420" y2="214.45" stroke="#444" stroke-width="0.8"/>
<text transform="translate(407.2,214.45) rotate(90)" text-anchor="middle" font-size="8.0" font-weight="bold" fill="#222">3</text>
<path d="M420.0 230.20h18.47M420.0 231.20h22.01M420.0 232.20h19.15M420.0 233.20h20.46M420.0 234.20h21.76M420.0 235.20h18.55M420.0 236.20h19.94M420.0 237.20h18.59M420.0 238.20h20.28M420.0 239.20h19.40M420.0 240.20h19.46M420.0 241.20h19.17M420.0 242.20h18.91M420.0 243.20h18.25M420.0 244.20h21.50M420.0 245.20h18.90M420.0 246.20h21.49M420.0 247.20h17.90M420.0 248.20h18.38M420.0 249.20h18.80M420.0 250.20h18.61M420.0 251.20h18.57M420.0 252.20h28.35M420.0 253.20h19.05M420.0 254.20h19.25M420.0 255.20h19.50M420.0 256.20h19.46M420.0 257.20h19.50M420.0 258.20h21.86M420.0 259.20h21.62" stroke="#2f3e84" stroke-width="1.0" fill="none" shape-rendering="crispEdges"/>
<path d="M442.91 248.41h1.58M443.39 257.38h1.84M442.37 249.03h2.33M443.83 248.52h2.90M439.09 258.42h2.54M440.19 251.35h2.00M439.87 231.18h1.94M440.16 232.58h3.26M441.84 245.82h3.42M445.63 248.39h1.19M444.70 247.21h1.11M439.70 256.95h2.18M441.74 234.66h2.53M450.62 231.42h2.05M442.64 245.13h1.91" stroke="#2f3e84" stroke-width="1.0" fill="none" opacity="0.6"/>
<line x1="416" y1="244.35" x2="420" y2="244.35" stroke="#444" stroke-width="0.8"/>
<text transform="translate(407.2,244.35) rotate(90)" text-anchor="middle" font-size="8.0" font-weight="bold" fill="#222">4</text>
<path d="M420.0 259.50h18.02M420.0 260.50h26.50M420.0 261.50h20.01M420.0 262.50h21.64M420.0 263.50h17.70M420.0 264.50h23.13M420.0 265.50h23.36M420.0 266.50h18.59M420.0 267.50h22.18M420.0 268.50h19.42M420.0 269.50h19.14M420.0 270.50h19.32M420.0 271.50h18.67M420.0 272.50h19.78M420.0 273.50h21.34M420.0 274.50h18.73M420.0 275.50h18.39M420.0 276.50h18.32M420.0 277.50h18.38M420.0 278.50h18.91M420.0 279.50h23.07M420.0 280.50h18.81M420.0 281.50h26.67M420.0 282.50h18.61M420.0 283.50h18.72M420.0 284.50h23.22M420.0 285.50h18.81M420.0 286.50h20.28" stroke="#e39479" stroke-width="1.0" fill="none" shape-rendering="crispEdges"/>
<path d="M442.91 270.57h1.26M439.30 273.73h1.22M442.20 277.39h2.58M441.60 269.15h1.53M444.46 268.35h3.10M439.51 261.02h3.02M444.86 275.97h1.53M440.19 270.54h3.02M443.24 269.04h3.47M442.18 267.85h2.87M441.23 284.05h1.92M447.32 261.64h1.20M442.32 261.26h2.21M440.42 277.64h2.94M439.96 261.07h2.66M440.45 261.22h2.81" stroke="#e39479" stroke-width="1.0" fill="none" opacity="0.6"/>
<line x1="416" y1="272.60" x2="420" y2="272.60" stroke="#444" stroke-width="0.8"/>
<text transform="translate(407.2,272.60) rotate(90)" text-anchor="middle" font-size="8.0" font-weight="bold" fill="#222">5</text>
<path d="M420.0 286.70h23.34M420.0 287.70h18.31M420.0 288.70h22.03M420.0 289.70h18.34M420.0 290.70h18.86M420.0 291.70h18.69M420.0 292.70h18.41M420.0 293.70h18.31M420.0 294.70h21.23M420.0 295.70h18.55M420.0 296.70h18.41M420.0 297.70h18.08M420.0 298.70h18.50M420.0 299.70h18.87M420.0 300.70h18.40M420.0 301.70h22.97M420.0 302.70h18.76M420.0 303.70h18.76M420.0 304.70h18.85M420.0 305.70h18.26M420.0 306.70h19.96M420.0 307.70h18.85M420.0 308.70h18.29M420.0 309.70h17.93M420.0 310.70h20.11M420.0 311.70h18.58M420.0 312.70h18.84" stroke="#7b87ba" stroke-width="1.0" fill="none" shape-rendering="crispEdges"/>
<path d="M452.80 295.02h2.68M442.08 299.08h2.80M448.86 304.68h2.03M443.40 307.76h3.13M446.18 307.23h3.22M443.09 311.20h2.31M445.48 304.73h2.05M439.63 297.17h2.85M440.88 312.07h1.42M441.21 291.53h1.73M439.24 311.51h1.77M443.18 289.20h2.94M439.26 290.88h2.15M448.60 301.44h1.09M439.82 289.04h1.54" stroke="#7b87ba" stroke-width="1.0" fill="none" opacity="0.6"/>
<line x1="416" y1="299.25" x2="420" y2="299.25" stroke="#444" stroke-width="0.8"/>
<text transform="translate(407.2,299.25) rotate(90)" text-anchor="middle" font-size="8.0" font-weight="bold" fill="#222">6</text>
<path d="M420.0 312.80h17.96M420.0 313.80h19.93M420.0 314.80h22.04M420.0 315.80h17.91M420.0 316.80h18.40M420.0 317.80h18.14M420.0 318.80h18.69M420.0 319.80h18.68M420.0 320.80h19.80M420.0 321.80h19.07M420.0 322.80h18.78M420.0 323.80h28.66M420.0 324.80h19.87M420.0 325.80h18.70M420.0 326.80h18.97M420.0 327.80h20.59M420.0 328.80h27.85M420.0 329.80h18.61M420.0 330.80h26.33M420.0 331.80h18.56M420.0 332.80h17.97M420.0 333.80h18.48M420.0 334.80h26.30M420.0 335.80h17.66" stroke="#a2d2c0" stroke-width="1.0" fill="none" shape-rendering="crispEdges"/>
<path d="M451.45 323.45h2.47M440.45 332.70h2.97M448.94 322.22h1.23M439.93 331.97h2.36M439.69 324.81h3.08M440.49 319.71h1.19M441.52 319.58h2.79M443.65 320.86h1.26M441.48 321.68h3.42M443.24 332.05h1.03M443.95 321.28h1.59M441.45 325.73h1.03M445.43 335.90h1.52M440.37 326.96h1.94" stroke="#a2d2c0" stroke-width="1.0" fill="none" opacity="0.6"/>
<line x1="416" y1="324.20" x2="420" y2="324.20" stroke="#444" stroke-width="0.8"/>
<text transform="translate(407.2,324.20) rotate(90)" text-anchor="middle" font-size="8.0" font-weight="bold" fill="#222">7</text>
<path d="M420.0 336.60h24.33M420.0 337.60h18.22M420.0 338.60h21.93M420.0 339.60h17.92M420.0 340.60h18.13M420.0 341.60h18.02M420.0 342.60h19.04M420.0 343.60h18.06M420.0 344.60h17.80M420.0 345.60h18.34M420.0 346.60h19.54M420.0 347.60h17.62M420.0 348.60h17.35M420.0 349.60h17.54M420.0 350.60h17.93M420.0 351.60h18.42M420.0 352.60h18.24M420.0 353.60h17.75M420.0 354.60h18.15M420.0 355.60h18.55M420.0 356.60h20.97M420.0 357.60h18.42M420.0 358.60h17.98" stroke="#b8161c" stroke-width="1.0" fill="none" shape-rendering="crispEdges"/>
<path d="M445.22 347.56h3.06M439.69 349.86h2.92M442.18 356.42h1.88M439.61 347.36h2.78M441.90 358.30h2.79M439.88 354.90h3.36M439.88 350.21h1.21M442.44 341.60h2.74M449.58 343.51h1.90M439.53 346.52h3.43M448.38 339.15h2.36M442.29 348.72h1.66" stroke="#b8161c" stroke-width="1.0" fill="none" opacity="0.6"/>
<line x1="416" y1="347.35" x2="420" y2="347.35" stroke="#444" stroke-width="0.8"/>
<text transform="translate(407.2,347.35) rotate(90)" text-anchor="middle" font-size="8.0" font-weight="bold" fill="#222">8</text>
<path d="M420.0 359.10h18.62M420.0 360.10h18.15M420.0 361.10h17.99M420.0 362.10h17.81M420.0 363.10h21.54M420.0 364.10h19.61M420.0 365.10h18.58M420.0 366.10h26.75M420.0 367.10h18.92M420.0 368.10h18.91M420.0 369.10h21.12M420.0 370.10h17.90M420.0 371.10h21.19M420.0 372.10h17.93M420.0 373.10h17.87M420.0 374.10h17.50M420.0 375.10h17.34M420.0 376.10h17.73M420.0 377.10h17.81M420.0 378.10h18.18M420.0 379.10h18.53" stroke="#6d5a40" stroke-width="1.0" fill="none" shape-rendering="crispEdges"/>
<path d="M446.29 379.39h3.14M441.28 367.15h2.41M441.99 377.52h2.31M448.39 367.63h1.80M444.17 359.74h3.25M442.64 373.90h2.88M442.60 364.97h1.17M441.37 361.20h2.26M439.21 366.89h2.74M440.09 369.60h1.77M440.08 366.87h1.17M452.58 377.65h2.66" stroke="#6d5a40" stroke-width="1.0" fill="none" opacity="0.6"/>
<line x1="416" y1="369.05" x2="420" y2="369.05" stroke="#444" stroke-width="0.8"/>
<text transform="translate(407.2,369.05) rotate(90)" text-anchor="middle" font-size="8.0" font-weight="bold" fill="#222">9</text>
<path d="M420.0 380.00h18.67M420.0 381.00h22.95M420.0 382.00h18.91M420.0 383.00h18.34M420.0 384.00h17.95M420.0 385.00h20.56M420.0 386.00h18.32M420.0 387.00h17.86M420.0 388.00h18.36M420.0 389.00h18.22M420.0 390.00h22.36M420.0 391.00h17.72M420.0 392.00h18.39M420.0 393.00h20.56M420.0 394.00h18.87M420.0 395.00h18.42M420.0 396.00h18.27M420.0 397.00h17.94M420.0 398.00h22.16M420.0 399.00h18.24" stroke="#a39178" stroke-width="1.0" fill="none" shape-rendering="crispEdges"/>
<path d="M439.45 380.50h2.81M448.22 385.76h3.17M439.58 393.76h2.74M441.36 398.26h1.20M440.47 383.96h2.78M439.80 383.43h1.59M445.25 392.79h1.93M447.63 392.74h2.47M440.43 384.08h3.32M440.30 392.84h2.60M442.01 388.31h2.33" stroke="#a39178" stroke-width="1.0" fill="none" opacity="0.6"/>
<line x1="416" y1="389.50" x2="420" y2="389.50" stroke="#444" stroke-width="0.8"/>
<text transform="translate(407.2,389.50) rotate(90)" text-anchor="middle" font-size="8.0" font-weight="bold" fill="#222">10</text>
<path d="M420.0 400.00h17.75M420.0 401.00h26.50M420.0 402.00h25.94M420.0 403.00h24.67M420.0 404.00h17.30M420.0 405.00h20.98M420.0 406.00h18.50M420.0 407.00h18.97M420.0 408.00h18.48M420.0 409.00h18.63M420.0 410.00h18.77M420.0 411.00h18.71M420.0 412.00h19.03M420.0 413.00h18.91M420.0 414.00h18.43M420.0 415.00h18.06M420.0 416.00h17.86M420.0 417.00h18.31M420.0 418.00h21.63M420.0 419.00h18.30M420.0 420.00h21.73" stroke="#cb4a34" stroke-width="1.0" fill="none" shape-rendering="crispEdges"/>
<path d="M442.40 414.51h3.18M439.66 403.28h1.04M441.28 409.92h2.10M445.41 405.02h1.18M442.37 418.55h2.36M440.09 416.12h1.37M439.17 406.03h1.79M441.98 412.55h1.66M439.37 411.86h3.05M440.18 403.10h1.40M446.11 414.00h2.97M441.11 400.78h1.91" stroke="#cb4a34" stroke-width="1.0" fill="none" opacity="0.6"/>
<line x1="416" y1="410.00" x2="420" y2="410.00" stroke="#444" stroke-width="0.8"/>
<text transform="translate(407.2,410.00) rotate(90)" text-anchor="middle" font-size="8.0" font-weight="bold" fill="#222">11</text>
<path d="M420.0 421.00h17.94M420.0 422.00h17.55M420.0 423.00h18.07M420.0 424.00h17.77M420.0 425.00h20.18M420.0 426.00h21.28M420.0 427.00h18.42M420.0 428.00h22.93M420.0 429.00h18.37M420.0 430.00h25.40M420.0 431.00h17.89M420.0 432.00h18.51M420.0 433.00h18.31M420.0 434.00h21.09M420.0 435.00h21.01M420.0 436.00h18.81M420.0 437.00h18.82M420.0 438.00h18.69M420.0 439.00h19.01M420.0 440.00h21.58M420.0 441.00h18.65M420.0 442.00h20.08M420.0 443.00h24.92" stroke="#70b2d6" stroke-width="1.0" fill="none" shape-rendering="crispEdges"/>
<path d="M443.55 442.45h3.16M440.93 425.02h1.18M440.80 435.78h1.69M439.80 420.91h1.66M449.29 429.18h2.79M440.79 426.44h1.38M440.78 441.20h2.91M448.50 436.49h1.05M440.94 427.62h1.21M440.57 440.00h2.93M439.23 431.98h1.98M439.17 425.77h1.38M439.13 433.66h1.78" stroke="#70b2d6" stroke-width="1.0" fill="none" opacity="0.6"/>
<line x1="416" y1="431.55" x2="420" y2="431.55" stroke="#444" stroke-width="0.8"/>
<text transform="translate(407.2,431.55) rotate(90)" text-anchor="middle" font-size="8.0" font-weight="bold" fill="#222">12</text>
<path d="M420.0 443.10h18.18M420.0 444.10h17.84M420.0 445.10h17.72M420.0 446.10h19.91M420.0 447.10h17.93M420.0 448.10h17.96M420.0 449.10h20.66M420.0 450.10h19.47M420.0 451.10h17.81M420.0 452.10h18.04M420.0 453.10h26.70M420.0 454.10h22.85M420.0 455.10h19.12M420.0 456.10h22.90M420.0 457.10h18.68M420.0 458.10h21.03M420.0 459.10h18.29M420.0 460.10h20.69" stroke="#3f8b69" stroke-width="1.0" fill="none" shape-rendering="crispEdges"/>
<path d="M439.73 451.11h2.66M439.39 446.89h1.85M439.65 450.16h2.46M442.22 455.15h2.75M440.99 443.01h1.91M441.07 443.73h1.14M442.53 451.47h2.17M440.17 448.43h1.06M447.89 448.81h2.41M443.41 447.29h1.47" stroke="#3f8b69" stroke-width="1.0" fill="none" opacity="0.6"/>
<line x1="416" y1="451.55" x2="420" y2="451.55" stroke="#444" stroke-width="0.8"/>
<text transform="translate(407.2,451.55) rotate(90)" text-anchor="middle" font-size="8.0" font-weight="bold" fill="#222">13</text>
<path d="M420.0 461.00h18.23M420.0 462.00h18.79M420.0 463.00h18.79M420.0 464.00h19.01M420.0 465.00h19.01M420.0 466.00h27.75M420.0 467.00h19.12M420.0 468.00h20.96M420.0 469.00h25.34M420.0 470.00h21.30M420.0 471.00h18.96M420.0 472.00h21.71M420.0 473.00h21.37M420.0 474.00h18.58M420.0 475.00h18.68M420.0 476.00h19.00" stroke="#2f3e84" stroke-width="1.0" fill="none" shape-rendering="crispEdges"/>
<path d="M440.70 465.74h3.22M444.03 465.42h2.74M452.29 471.28h3.06M442.89 463.00h2.23M440.85 469.35h1.71M442.05 472.26h1.59M440.57 464.41h1.44M439.54 468.57h1.16M439.43 461.58h2.76" stroke="#2f3e84" stroke-width="1.0" fill="none" opacity="0.6"/>
<line x1="416" y1="468.35" x2="420" y2="468.35" stroke="#444" stroke-width="0.8"/>
<text transform="translate(407.2,468.35) rotate(90)" text-anchor="middle" font-size="8.0" font-weight="bold" fill="#222">14</text>
<path d="M420.0 478.00h17.83M420.0 479.00h18.29M420.0 480.00h17.95M420.0 481.00h20.51M420.0 482.00h18.49M420.0 483.00h18.36M420.0 484.00h18.10M420.0 485.00h17.99M420.0 486.00h18.40M420.0 487.00h18.78M420.0 488.00h18.61M420.0 489.00h18.71M420.0 490.00h21.49" stroke="#e39479" stroke-width="1.0" fill="none" shape-rendering="crispEdges"/>
<path d="M440.05 486.13h1.46M442.52 477.68h3.35M439.57 490.02h2.72M442.99 482.91h1.99M444.00 478.13h1.30M440.35 478.05h2.83" stroke="#e39479" stroke-width="1.0" fill="none" opacity="0.6"/>
<line x1="416" y1="483.95" x2="420" y2="483.95" stroke="#444" stroke-width="0.8"/>
<text transform="translate(407.2,483.95) rotate(90)" text-anchor="middle" font-size="8.0" font-weight="bold" fill="#222">15</text>
<path d="M420.0 490.90h21.14M420.0 491.90h18.19M420.0 492.90h18.24M420.0 493.90h18.08M420.0 494.90h24.90M420.0 495.90h18.66M420.0 496.90h19.15M420.0 497.90h19.19M420.0 498.90h21.04M420.0 499.90h18.68M420.0 500.90h18.34M420.0 501.90h17.94M420.0 502.90h17.53M420.0 503.90h17.36" stroke="#7b87ba" stroke-width="1.0" fill="none" shape-rendering="crispEdges"/>
<path d="M440.03 494.02h2.21M440.20 495.23h1.13M447.93 491.25h1.77M439.81 491.44h2.21M439.90 503.56h3.17M441.14 496.79h3.02M439.24 495.63h2.38" stroke="#7b87ba" stroke-width="1.0" fill="none" opacity="0.6"/>
<line x1="416" y1="497.00" x2="420" y2="497.00" stroke="#444" stroke-width="0.8"/>
<text transform="translate(407.2,497.00) rotate(90)" text-anchor="middle" font-size="8.0" font-weight="bold" fill="#222">16</text>
<path d="M420.0 504.10h18.44M420.0 505.10h18.19M420.0 506.10h18.67M420.0 507.10h18.55M420.0 508.10h19.88M420.0 509.10h19.62M420.0 510.10h18.20M420.0 511.10h18.05M420.0 512.10h22.43M420.0 513.10h17.26M420.0 514.10h17.91M420.0 515.10h18.31M420.0 516.10h18.68" stroke="#a2d2c0" stroke-width="1.0" fill="none" shape-rendering="crispEdges"/>
<path d="M451.01 504.90h2.01M440.15 512.70h3.27M442.44 503.90h1.57M440.84 508.61h2.64M440.81 514.06h2.60M440.31 508.17h3.26" stroke="#a2d2c0" stroke-width="1.0" fill="none" opacity="0.6"/>
<line x1="416" y1="510.05" x2="420" y2="510.05" stroke="#444" stroke-width="0.8"/>
<text transform="translate(407.2,510.05) rotate(90)" text-anchor="middle" font-size="8.0" font-weight="bold" fill="#222">17</text>
<path d="M420.0 517.00h20.40M420.0 518.00h22.40M420.0 519.00h18.49M420.0 520.00h19.69M420.0 521.00h18.03M420.0 522.00h17.58M420.0 523.00h17.69M420.0 524.00h17.92M420.0 525.00h17.72M420.0 526.00h17.70M420.0 527.00h17.45M420.0 528.00h17.62M420.0 529.00h17.51" stroke="#b8161c" stroke-width="1.0" fill="none" shape-rendering="crispEdges"/>
<path d="M439.78 525.33h1.68M450.80 524.97h1.81M440.77 518.79h3.47M443.03 518.35h1.95M439.95 524.55h2.54M446.76 527.60h2.57M442.35 522.81h1.29" stroke="#b8161c" stroke-width="1.0" fill="none" opacity="0.6"/>
<line x1="416" y1="522.75" x2="420" y2="522.75" stroke="#444" stroke-width="0.8"/>
<text transform="translate(407.2,524.55) rotate(90)" text-anchor="middle" font-size="8.0" font-weight="bold" fill="#222">18</text>
<path d="M420.0 529.50h18.64M420.0 530.50h18.54M420.0 531.50h18.43M420.0 532.50h18.13M420.0 533.50h18.29M420.0 534.50h17.80M420.0 535.50h17.91M420.0 536.50h18.15" stroke="#6d5a40" stroke-width="1.0" fill="none" shape-rendering="crispEdges"/>
<path d="M441.53 530.20h3.48M440.50 534.83h2.84M441.06 536.82h3.17" stroke="#6d5a40" stroke-width="1.0" fill="none" opacity="0.6"/>
<line x1="416" y1="532.95" x2="420" y2="532.95" stroke="#444" stroke-width="0.8"/>
<text transform="translate(407.2,533.75) rotate(90)" text-anchor="middle" font-size="8.0" font-weight="bold" fill="#222">19</text>
<path d="M420.0 537.40h22.61M420.0 538.40h18.47M420.0 539.40h18.84M420.0 540.40h18.75M420.0 541.40h18.19M420.0 542.40h27.33M420.0 543.40h18.43M420.0 544.40h20.96M420.0 545.40h22.13M420.0 546.40h19.12M420.0 547.40h18.66M420.0 548.40h19.01" stroke="#a39178" stroke-width="1.0" fill="none" shape-rendering="crispEdges"/>
<path d="M448.44 543.22h2.99M440.82 538.65h1.25M440.70 537.32h3.16M439.50 546.49h1.45M446.57 541.37h2.54M439.30 547.27h3.47" stroke="#a39178" stroke-width="1.0" fill="none" opacity="0.6"/>
<line x1="416" y1="542.65" x2="420" y2="542.65" stroke="#444" stroke-width="0.8"/>
<text transform="translate(407.2,542.65) rotate(90)" text-anchor="middle" font-size="8.0" font-weight="bold" fill="#222">20</text>
<path d="M420.0 549.90h17.93M420.0 550.90h18.49M420.0 551.90h18.14M420.0 552.90h20.49M420.0 553.90h18.01M420.0 554.90h17.87M420.0 555.90h19.75" stroke="#cb4a34" stroke-width="1.0" fill="none" shape-rendering="crispEdges"/>
<path d="M441.51 553.77h1.32M450.32 550.13h2.53M439.87 551.65h3.49" stroke="#cb4a34" stroke-width="1.0" fill="none" opacity="0.6"/>
<line x1="416" y1="552.55" x2="420" y2="552.55" stroke="#444" stroke-width="0.8"/>
<text transform="translate(407.2,552.55) rotate(90)" text-anchor="middle" font-size="8.0" font-weight="bold" fill="#222">21</text>
<path d="M420.0 557.10h18.48M420.0 558.10h18.31M420.0 559.10h21.77M420.0 560.10h18.21M420.0 561.10h18.17M420.0 562.10h18.25" stroke="#70b2d6" stroke-width="1.0" fill="none" shape-rendering="crispEdges"/>
<path d="M443.86 558.40h1.59M440.34 559.61h3.18M446.71 558.09h2.69" stroke="#70b2d6" stroke-width="1.0" fill="none" opacity="0.6"/>
<line x1="416" y1="559.20" x2="420" y2="559.20" stroke="#444" stroke-width="0.8"/>
<text transform="translate(407.2,560.70) rotate(90)" text-anchor="middle" font-size="8.0" font-weight="bold" fill="#222">22</text>
<path d="M420.0 562.30h18.21M420.0 563.30h18.14M420.0 564.30h18.34M420.0 565.30h17.87M420.0 566.30h17.77M420.0 567.30h26.62M420.0 568.30h21.29M420.0 569.30h18.18M420.0 570.30h17.97M420.0 571.30h17.91M420.0 572.30h18.44M420.0 573.30h23.08M420.0 574.30h18.02M420.0 575.30h17.99M420.0 576.30h18.29M420.0 577.30h18.78M420.0 578.30h18.16M420.0 579.30h18.20M420.0 580.30h18.22M420.0 581.30h18.47M420.0 582.30h19.00M420.0 583.30h19.41M420.0 584.30h19.54M420.0 585.30h19.50M420.0 586.30h18.75" stroke="#3f8b69" stroke-width="1.0" fill="none" shape-rendering="crispEdges"/>
<path d="M443.27 571.83h1.55M439.94 586.54h1.92M441.01 565.37h2.85M439.73 563.89h2.62M444.42 577.38h1.63M444.25 582.08h2.94M441.53 564.79h1.04M450.57 583.29h3.24M440.73 562.40h2.34M439.47 575.14h2.97M441.83 569.34h1.31M439.56 576.00h1.22M440.39 574.61h2.94M441.14 567.97h1.14M441.40 567.24h2.40" stroke="#3f8b69" stroke-width="1.0" fill="none" opacity="0.6"/>
<line x1="416" y1="574.30" x2="420" y2="574.30" stroke="#444" stroke-width="0.8"/>
<text transform="translate(407.2,574.30) rotate(90)" text-anchor="middle" font-size="8.0" font-weight="bold" fill="#222">23</text>
<rect x="419" y="144.7" width="30" height="1.6" fill="#fff"/>
<rect x="419" y="366.2" width="30" height="1.6" fill="#fff"/>
<line x1="458.4" y1="112" x2="458.4" y2="600" stroke="#d77a7a" stroke-width="0.75" stroke-dasharray="1.8,2.2"/>
<line x1="436" y1="165.3" x2="463.4" y2="165.3" stroke="#72b3d4" stroke-width="1.1" stroke-dasharray="5,1.5,2,2.5,8,2" opacity="0.85"/>
<line x1="436" y1="179.4" x2="461.8" y2="179.4" stroke="#72b3d4" stroke-width="1.1" stroke-dasharray="5,1.5,2,2.5,8,2" opacity="0.85"/>
<line x1="436" y1="189.7" x2="480.9" y2="189.7" stroke="#72b3d4" stroke-width="1.1" stroke-dasharray="5,1.5,2,2.5,8,2" opacity="0.85"/>
<line x1="436" y1="193.7" x2="469.5" y2="193.7" stroke="#72b3d4" stroke-width="1.1" stroke-dasharray="5,1.5,2,2.5,8,2" opacity="0.85"/>
<line x1="436" y1="207.4" x2="474.1" y2="207.4" stroke="#3f8b69" stroke-width="1.1" stroke-dasharray="5,1.5,2,2.5,8,2" opacity="0.85"/>
<line x1="436" y1="209.6" x2="494.9" y2="209.6" stroke="#3f8b69" stroke-width="1.1" stroke-dasharray="5,1.5,2,2.5,8,2" opacity="0.85"/>
<line x1="436" y1="225.8" x2="519.8" y2="225.8" stroke="#3f8b69" stroke-width="1.1" stroke-dasharray="5,1.5,2,2.5,8,2" opacity="0.85"/>
<line x1="436" y1="229.4" x2="461.8" y2="229.4" stroke="#3f8b69" stroke-width="1.1" stroke-dasharray="5,1.5,2,2.5,8,2" opacity="0.85"/>
<line x1="436" y1="302.6" x2="483.9" y2="302.6" stroke="#7b87ba" stroke-width="1.1" stroke-dasharray="5,1.5,2,2.5,8,2" opacity="0.85"/>
<line x1="436" y1="317" x2="486.0" y2="317" stroke="#a2d2c0" stroke-width="1.1" stroke-dasharray="5,1.5,2,2.5,8,2" opacity="0.85"/>
<line x1="436" y1="352.8" x2="499.7" y2="352.8" stroke="#b8161c" stroke-width="1.1" stroke-dasharray="5,1.5,2,2.5,8,2" opacity="0.85"/>
<line x1="436" y1="428.4" x2="463.3" y2="428.4" stroke="#70b2d6" stroke-width="1.1" stroke-dasharray="5,1.5,2,2.5,8,2" opacity="0.85"/>
<line x1="436" y1="439.4" x2="479.1" y2="439.4" stroke="#70b2d6" stroke-width="1.1" stroke-dasharray="5,1.5,2,2.5,8,2" opacity="0.85"/>
<line x1="436" y1="453.7" x2="476.4" y2="453.7" stroke="#3f8b69" stroke-width="1.1" stroke-dasharray="5,1.5,2,2.5,8,2" opacity="0.85"/>
<line x1="436" y1="499" x2="471.2" y2="499" stroke="#7b87ba" stroke-width="1.1" stroke-dasharray="5,1.5,2,2.5,8,2" opacity="0.85"/>
<line x1="436" y1="507" x2="477.5" y2="507" stroke="#a2d2c0" stroke-width="1.1" stroke-dasharray="5,1.5,2,2.5,8,2" opacity="0.85"/>
<line x1="436" y1="525.1" x2="464.5" y2="525.1" stroke="#b8161c" stroke-width="1.1" stroke-dasharray="5,1.5,2,2.5,8,2" opacity="0.85"/>
<line x1="436" y1="529.5" x2="558.5" y2="529.5" stroke="#b8161c" stroke-width="1.1" stroke-dasharray="5,1.5,2,2.5,8,2" opacity="0.85"/>
<line x1="436" y1="254" x2="459" y2="254" stroke="#2f3e84" stroke-width="1.3"/>
<line x1="436" y1="411.5" x2="459" y2="411.5" stroke="#cb4a34" stroke-width="1.3"/>
<polyline points="467.66,164.36 548.90,120.90 592.00,120.90" fill="none" stroke="#2a2a2a" stroke-width="1.4" stroke-linejoin="miter"/>
<circle cx="465.9" cy="165.3" r="2.0" fill="#fff" stroke="#222" stroke-width="1.25"/>
<circle cx="594.0" cy="120.90" r="2.0" fill="#fff" stroke="#222" stroke-width="1.25"/>
<polyline points="466.17,178.69 547.60,147.72 592.00,147.72" fill="none" stroke="#2a2a2a" stroke-width="1.4" stroke-linejoin="miter"/>
<circle cx="464.3" cy="179.4" r="2.0" fill="#fff" stroke="#222" stroke-width="1.25"/>
<circle cx="594.0" cy="147.72" r="2.0" fill="#fff" stroke="#222" stroke-width="1.25"/>
<polyline points="485.35,189.24 547.60,174.54 592.00,174.54" fill="none" stroke="#2a2a2a" stroke-width="1.4" stroke-linejoin="miter"/>
<circle cx="483.4" cy="189.7" r="2.0" fill="#fff" stroke="#222" stroke-width="1.25"/>
<circle cx="594.0" cy="174.54" r="2.0" fill="#fff" stroke="#222" stroke-width="1.25"/>
<polyline points="473.99,193.90 547.20,201.36 592.00,201.36" fill="none" stroke="#2a2a2a" stroke-width="1.4" stroke-linejoin="miter"/>
<circle cx="472" cy="193.7" r="2.0" fill="#fff" stroke="#222" stroke-width="1.25"/>
<circle cx="594.0" cy="201.36" r="2.0" fill="#fff" stroke="#222" stroke-width="1.25"/>
<polyline points="478.60,207.40 524.80,207.40 547.30,228.18 592.00,228.18" fill="none" stroke="#2a2a2a" stroke-width="1.4" stroke-linejoin="miter"/>
<circle cx="476.6" cy="207.4" r="2.0" fill="#fff" stroke="#222" stroke-width="1.25"/>
<circle cx="594.0" cy="228.18" r="2.0" fill="#fff" stroke="#222" stroke-width="1.25"/>
<polyline points="499.40,209.80 522.70,209.80 547.30,255.00 592.00,255.00" fill="none" stroke="#2a2a2a" stroke-width="1.4" stroke-linejoin="miter"/>
<circle cx="497.4" cy="209.8" r="2.0" fill="#fff" stroke="#222" stroke-width="1.25"/>
<circle cx="594.0" cy="255.00" r="2.0" fill="#fff" stroke="#222" stroke-width="1.25"/>
<polyline points="523.12,227.63 547.30,281.82 592.00,281.82" fill="none" stroke="#2a2a2a" stroke-width="1.4" stroke-linejoin="miter"/>
<circle cx="522.3" cy="225.8" r="2.0" fill="#fff" stroke="#222" stroke-width="1.25"/>
<circle cx="594.0" cy="281.82" r="2.0" fill="#fff" stroke="#222" stroke-width="1.25"/>
<polyline points="465.74,230.78 546.90,308.64 592.00,308.64" fill="none" stroke="#2a2a2a" stroke-width="1.4" stroke-linejoin="miter"/>
<circle cx="464.3" cy="229.4" r="2.0" fill="#fff" stroke="#222" stroke-width="1.25"/>
<circle cx="594.0" cy="308.64" r="2.0" fill="#fff" stroke="#222" stroke-width="1.25"/>
<polyline points="488.17,303.53 549.00,335.46 592.00,335.46" fill="none" stroke="#2a2a2a" stroke-width="1.4" stroke-linejoin="miter"/>
<circle cx="486.4" cy="302.6" r="2.0" fill="#fff" stroke="#222" stroke-width="1.25"/>
<circle cx="594.0" cy="335.46" r="2.0" fill="#fff" stroke="#222" stroke-width="1.25"/>
<polyline points="490.08,318.22 547.30,362.28 592.00,362.28" fill="none" stroke="#2a2a2a" stroke-width="1.4" stroke-linejoin="miter"/>
<circle cx="488.5" cy="317" r="2.0" fill="#fff" stroke="#222" stroke-width="1.25"/>
<circle cx="594.0" cy="362.28" r="2.0" fill="#fff" stroke="#222" stroke-width="1.25"/>
<polyline points="503.76,354.05 547.30,389.10 592.00,389.10" fill="none" stroke="#2a2a2a" stroke-width="1.4" stroke-linejoin="miter"/>
<circle cx="502.2" cy="352.8" r="2.0" fill="#fff" stroke="#222" stroke-width="1.25"/>
<circle cx="594.0" cy="389.10" r="2.0" fill="#fff" stroke="#222" stroke-width="1.25"/>
<polyline points="467.78,428.10 546.90,415.92 592.00,415.92" fill="none" stroke="#2a2a2a" stroke-width="1.4" stroke-linejoin="miter"/>
<circle cx="465.8" cy="428.4" r="2.0" fill="#fff" stroke="#222" stroke-width="1.25"/>
<circle cx="594.0" cy="415.92" r="2.0" fill="#fff" stroke="#222" stroke-width="1.25"/>
<polyline points="483.60,439.50 546.90,442.74 592.00,442.74" fill="none" stroke="#2a2a2a" stroke-width="1.4" stroke-linejoin="miter"/>
<circle cx="481.6" cy="439.4" r="2.0" fill="#fff" stroke="#222" stroke-width="1.25"/>
<circle cx="594.0" cy="442.74" r="2.0" fill="#fff" stroke="#222" stroke-width="1.25"/>
<polyline points="480.85,454.15 546.90,469.56 592.00,469.56" fill="none" stroke="#2a2a2a" stroke-width="1.4" stroke-linejoin="miter"/>
<circle cx="478.9" cy="453.7" r="2.0" fill="#fff" stroke="#222" stroke-width="1.25"/>
<circle cx="594.0" cy="469.56" r="2.0" fill="#fff" stroke="#222" stroke-width="1.25"/>
<polyline points="475.70,498.83 549.90,496.38 592.00,496.38" fill="none" stroke="#2a2a2a" stroke-width="1.4" stroke-linejoin="miter"/>
<circle cx="473.7" cy="498.9" r="2.0" fill="#fff" stroke="#222" stroke-width="1.25"/>
<circle cx="594.0" cy="496.38" r="2.0" fill="#fff" stroke="#222" stroke-width="1.25"/>
<polyline points="482.00,507.00 569.10,507.00 583.80,523.20 592.00,523.20" fill="none" stroke="#2a2a2a" stroke-width="1.4" stroke-linejoin="miter"/>
<circle cx="480" cy="507" r="2.0" fill="#fff" stroke="#222" stroke-width="1.25"/>
<circle cx="594.0" cy="523.20" r="2.0" fill="#fff" stroke="#222" stroke-width="1.25"/>
<polyline points="469.00,525.10 568.60,525.10 586.40,550.02 592.00,550.02" fill="none" stroke="#2a2a2a" stroke-width="1.4" stroke-linejoin="miter"/>
<circle cx="467" cy="525.1" r="2.0" fill="#fff" stroke="#222" stroke-width="1.25"/>
<circle cx="594.0" cy="550.02" r="2.0" fill="#fff" stroke="#222" stroke-width="1.25"/>
<polyline points="561.99,532.74 587.00,576.84 592.00,576.84" fill="none" stroke="#2a2a2a" stroke-width="1.4" stroke-linejoin="miter"/>
<circle cx="561" cy="531" r="2.0" fill="#fff" stroke="#222" stroke-width="1.25"/>
<circle cx="594.0" cy="576.84" r="2.0" fill="#fff" stroke="#222" stroke-width="1.25"/>
<text transform="translate(750.5,126.30) scale(1,1.08)" text-anchor="end" font-size="10.4" font-weight="bold" font-style="italic" fill="#1e1e1e" stroke="#1e1e1e" stroke-width="0.25">MYCN, DDX1, NBAS</text>
<rect x="752.3" y="110.10" width="189.00" height="21.8" fill="#151515"/>
<rect x="754.25" y="112.10" width="16.80" height="17.80" fill="#ffffff"/>
<rect x="772.95" y="112.10" width="16.80" height="17.80" fill="#ffffff"/>
<rect x="791.65" y="112.10" width="16.80" height="17.80" fill="#ffffff"/>
<rect x="810.35" y="112.10" width="16.80" height="17.80" fill="#ffffff"/>
<rect x="829.05" y="112.10" width="16.80" height="17.80" fill="#ffffff"/>
<rect x="847.75" y="112.10" width="16.80" height="17.80" fill="#a3a3a3"/>
<rect x="866.45" y="112.10" width="16.80" height="17.80" fill="#a3a3a3"/>
<rect x="903.85" y="112.10" width="16.80" height="17.80" fill="#a3a3a3"/>
<rect x="922.55" y="112.10" width="16.80" height="17.80" fill="#ffffff"/>
<text transform="translate(750.5,153.14) scale(1,1.08)" text-anchor="end" font-size="10.4" font-weight="bold" font-style="italic" fill="#1e1e1e" stroke="#1e1e1e" stroke-width="0.25">EDAR, RANBP2, LIMS1</text>
<rect x="752.3" y="136.94" width="189.00" height="21.8" fill="#151515"/>
<rect x="754.25" y="138.94" width="16.80" height="17.80" fill="#ffffff"/>
<rect x="772.95" y="138.94" width="16.80" height="17.80" fill="#ffffff"/>
<rect x="810.35" y="138.94" width="16.80" height="17.80" fill="#ffffff"/>
<rect x="829.05" y="138.94" width="16.80" height="17.80" fill="#ffffff"/>
<rect x="847.75" y="138.94" width="16.80" height="17.80" fill="#ffffff"/>
<rect x="866.45" y="138.94" width="16.80" height="17.80" fill="#ffffff"/>
<rect x="885.15" y="138.94" width="16.80" height="17.80" fill="#ffffff"/>
<rect x="903.85" y="138.94" width="16.80" height="17.80" fill="#ffffff"/>
<rect x="922.55" y="138.94" width="16.80" height="17.80" fill="#ffffff"/>
<text transform="translate(750.5,179.98) scale(1,1.08)" text-anchor="end" font-size="10.4" font-weight="bold" font-style="italic" fill="#1e1e1e" stroke="#1e1e1e" stroke-width="0.25">SP9, SP3, OLA1</text>
<rect x="752.3" y="163.78" width="189.00" height="21.8" fill="#151515"/>
<rect x="754.25" y="165.78" width="16.80" height="17.80" fill="#a3a3a3"/>
<rect x="791.65" y="165.78" width="16.80" height="17.80" fill="#ffffff"/>
<rect x="810.35" y="165.78" width="16.80" height="17.80" fill="#ffffff"/>
<rect x="829.05" y="165.78" width="16.80" height="17.80" fill="#ffffff"/>
<rect x="847.75" y="165.78" width="16.80" height="17.80" fill="#ffffff"/>
<rect x="866.45" y="165.78" width="16.80" height="17.80" fill="#ffffff"/>
<rect x="885.15" y="165.78" width="16.80" height="17.80" fill="#ffffff"/>
<text transform="translate(750.5,206.82) scale(1,1.08)" text-anchor="end" font-size="10.4" font-weight="bold" font-style="italic" fill="#1e1e1e" stroke="#1e1e1e" stroke-width="0.25">SATB2, FTCDNL1, TYW5</text>
<rect x="752.3" y="190.62" width="189.00" height="21.8" fill="#151515"/>
<rect x="754.25" y="192.62" width="16.80" height="17.80" fill="#ffffff"/>
<rect x="810.35" y="192.62" width="16.80" height="17.80" fill="#ffffff"/>
<rect x="829.05" y="192.62" width="16.80" height="17.80" fill="#ffffff"/>
<rect x="847.75" y="192.62" width="16.80" height="17.80" fill="#ffffff"/>
<rect x="866.45" y="192.62" width="16.80" height="17.80" fill="#ffffff"/>
<rect x="885.15" y="192.62" width="16.80" height="17.80" fill="#a3a3a3"/>
<rect x="922.55" y="192.62" width="16.80" height="17.80" fill="#ffffff"/>
<text transform="translate(750.5,233.66) scale(1,1.08)" text-anchor="end" font-size="10.4" font-weight="bold" font-style="italic" fill="#1e1e1e" stroke="#1e1e1e" stroke-width="0.25">WNT5A, LRTM1, CACNA2D3</text>
<rect x="752.3" y="217.46" width="189.00" height="21.8" fill="#151515"/>
<rect x="754.25" y="219.46" width="16.80" height="17.80" fill="#ffffff"/>
<rect x="772.95" y="219.46" width="16.80" height="17.80" fill="#ffffff"/>
<rect x="810.35" y="219.46" width="16.80" height="17.80" fill="#a3a3a3"/>
<rect x="829.05" y="219.46" width="16.80" height="17.80" fill="#ffffff"/>
<rect x="847.75" y="219.46" width="16.80" height="17.80" fill="#ffffff"/>
<rect x="866.45" y="219.46" width="16.80" height="17.80" fill="#a3a3a3"/>
<rect x="903.85" y="219.46" width="16.80" height="17.80" fill="#ffffff"/>
<rect x="922.55" y="219.46" width="16.80" height="17.80" fill="#ffffff"/>
<text transform="translate(750.5,260.50) scale(1,1.08)" text-anchor="end" font-size="10.4" font-weight="bold" font-style="italic" fill="#1e1e1e" stroke="#1e1e1e" stroke-width="0.25">ADAMTS9, MAGI1</text>
<rect x="752.3" y="244.30" width="189.00" height="21.8" fill="#151515"/>
<rect x="754.25" y="246.30" width="16.80" height="17.80" fill="#ffffff"/>
<rect x="772.95" y="246.30" width="16.80" height="17.80" fill="#ffffff"/>
<rect x="791.65" y="246.30" width="16.80" height="17.80" fill="#ffffff"/>
<rect x="810.35" y="246.30" width="16.80" height="17.80" fill="#a3a3a3"/>
<rect x="847.75" y="246.30" width="16.80" height="17.80" fill="#a3a3a3"/>
<rect x="885.15" y="246.30" width="16.80" height="17.80" fill="#ffffff"/>
<rect x="903.85" y="246.30" width="16.80" height="17.80" fill="#ffffff"/>
<rect x="922.55" y="246.30" width="16.80" height="17.80" fill="#ffffff"/>
<text transform="translate(750.5,287.34) scale(1,1.08)" text-anchor="end" font-size="10.4" font-weight="bold" font-style="italic" fill="#1e1e1e" stroke="#1e1e1e" stroke-width="0.25">EVI1, GOLIM4, EGFEM1P</text>
<rect x="752.3" y="271.14" width="189.00" height="21.8" fill="#151515"/>
<rect x="754.25" y="273.14" width="16.80" height="17.80" fill="#ffffff"/>
<rect x="829.05" y="273.14" width="16.80" height="17.80" fill="#ffffff"/>
<rect x="847.75" y="273.14" width="16.80" height="17.80" fill="#ffffff"/>
<rect x="922.55" y="273.14" width="16.80" height="17.80" fill="#ffffff"/>
<text transform="translate(750.5,314.18) scale(1,1.08)" text-anchor="end" font-size="10.4" font-weight="bold" font-style="italic" fill="#1e1e1e" stroke="#1e1e1e" stroke-width="0.25">HES1, OPA1, DPPA2P3</text>
<rect x="752.3" y="297.98" width="189.00" height="21.8" fill="#151515"/>
<rect x="754.25" y="299.98" width="16.80" height="17.80" fill="#ffffff"/>
<rect x="772.95" y="299.98" width="16.80" height="17.80" fill="#ffffff"/>
<rect x="791.65" y="299.98" width="16.80" height="17.80" fill="#ffffff"/>
<rect x="810.35" y="299.98" width="16.80" height="17.80" fill="#ffffff"/>
<rect x="829.05" y="299.98" width="16.80" height="17.80" fill="#ffffff"/>
<rect x="847.75" y="299.98" width="16.80" height="17.80" fill="#ffffff"/>
<rect x="885.15" y="299.98" width="16.80" height="17.80" fill="#ffffff"/>
<rect x="903.85" y="299.98" width="16.80" height="17.80" fill="#ffffff"/>
<rect x="922.55" y="299.98" width="16.80" height="17.80" fill="#ffffff"/>
<text transform="translate(750.5,341.02) scale(1,1.08)" text-anchor="end" font-size="10.4" font-weight="bold" font-style="italic" fill="#1e1e1e" stroke="#1e1e1e" stroke-width="0.25">PRDM1, PREP</text>
<rect x="752.3" y="324.82" width="189.00" height="21.8" fill="#151515"/>
<rect x="754.25" y="326.82" width="16.80" height="17.80" fill="#a3a3a3"/>
<rect x="847.75" y="326.82" width="16.80" height="17.80" fill="#a3a3a3"/>
<rect x="866.45" y="326.82" width="16.80" height="17.80" fill="#a3a3a3"/>
<rect x="922.55" y="326.82" width="16.80" height="17.80" fill="#ffffff"/>
<text transform="translate(750.5,367.86) scale(1,1.08)" text-anchor="end" font-size="10.4" font-weight="bold" font-style="italic" fill="#1e1e1e" stroke="#1e1e1e" stroke-width="0.25">CREB5, CHN2, CPVL</text>
<rect x="752.3" y="351.66" width="189.00" height="21.8" fill="#151515"/>
<rect x="754.25" y="353.66" width="16.80" height="17.80" fill="#ffffff"/>
<rect x="847.75" y="353.66" width="16.80" height="17.80" fill="#ffffff"/>
<rect x="922.55" y="353.66" width="16.80" height="17.80" fill="#ffffff"/>
<text transform="translate(750.5,394.70) scale(1,1.08)" text-anchor="end" font-size="10.4" font-weight="bold" font-style="italic" fill="#1e1e1e" stroke="#1e1e1e" stroke-width="0.25">RSPO2, ANGPT1, EIF3E</text>
<rect x="752.3" y="378.50" width="189.00" height="21.8" fill="#151515"/>
<rect x="772.95" y="380.50" width="16.80" height="17.80" fill="#ffffff"/>
<rect x="791.65" y="380.50" width="16.80" height="17.80" fill="#ffffff"/>
<rect x="810.35" y="380.50" width="16.80" height="17.80" fill="#ffffff"/>
<rect x="847.75" y="380.50" width="16.80" height="17.80" fill="#ffffff"/>
<rect x="866.45" y="380.50" width="16.80" height="17.80" fill="#a3a3a3"/>
<rect x="885.15" y="380.50" width="16.80" height="17.80" fill="#ffffff"/>
<rect x="903.85" y="380.50" width="16.80" height="17.80" fill="#ffffff"/>
<rect x="922.55" y="380.50" width="16.80" height="17.80" fill="#a3a3a3"/>
<text transform="translate(750.5,421.54) scale(1,1.08)" text-anchor="end" font-size="10.4" font-weight="bold" font-style="italic" fill="#1e1e1e" stroke="#1e1e1e" stroke-width="0.25">DBX2, NELL2, ANO6</text>
<rect x="752.3" y="405.34" width="189.00" height="21.8" fill="#151515"/>
<rect x="754.25" y="407.34" width="16.80" height="17.80" fill="#ffffff"/>
<rect x="772.95" y="407.34" width="16.80" height="17.80" fill="#ffffff"/>
<rect x="810.35" y="407.34" width="16.80" height="17.80" fill="#ffffff"/>
<rect x="829.05" y="407.34" width="16.80" height="17.80" fill="#ffffff"/>
<rect x="847.75" y="407.34" width="16.80" height="17.80" fill="#ffffff"/>
<rect x="866.45" y="407.34" width="16.80" height="17.80" fill="#ffffff"/>
<rect x="885.15" y="407.34" width="16.80" height="17.80" fill="#ffffff"/>
<rect x="903.85" y="407.34" width="16.80" height="17.80" fill="#ffffff"/>
<rect x="922.55" y="407.34" width="16.80" height="17.80" fill="#ffffff"/>
<text transform="translate(750.5,448.38) scale(1,1.08)" text-anchor="end" font-size="10.4" font-weight="bold" font-style="italic" fill="#1e1e1e" stroke="#1e1e1e" stroke-width="0.25">TBX3</text>
<rect x="752.3" y="432.18" width="189.00" height="21.8" fill="#151515"/>
<rect x="754.25" y="434.18" width="16.80" height="17.80" fill="#a3a3a3"/>
<rect x="791.65" y="434.18" width="16.80" height="17.80" fill="#a3a3a3"/>
<rect x="885.15" y="434.18" width="16.80" height="17.80" fill="#a3a3a3"/>
<rect x="922.55" y="434.18" width="16.80" height="17.80" fill="#a3a3a3"/>
<text transform="translate(750.5,475.22) scale(1,1.08)" text-anchor="end" font-size="10.4" font-weight="bold" font-style="italic" fill="#1e1e1e" stroke="#1e1e1e" stroke-width="0.25">KLHL1, DACH1</text>
<rect x="752.3" y="459.02" width="189.00" height="21.8" fill="#151515"/>
<rect x="754.25" y="461.02" width="16.80" height="17.80" fill="#a3a3a3"/>
<rect x="810.35" y="461.02" width="16.80" height="17.80" fill="#ffffff"/>
<rect x="829.05" y="461.02" width="16.80" height="17.80" fill="#ffffff"/>
<rect x="847.75" y="461.02" width="16.80" height="17.80" fill="#ffffff"/>
<rect x="866.45" y="461.02" width="16.80" height="17.80" fill="#ffffff"/>
<rect x="922.55" y="461.02" width="16.80" height="17.80" fill="#a3a3a3"/>
<text transform="translate(750.5,502.06) scale(1,1.08)" text-anchor="end" font-size="10.4" font-weight="bold" font-style="italic" fill="#1e1e1e" stroke="#1e1e1e" stroke-width="0.25">RPGRIP1L, AKTIP, FTO, IRX3</text>
<rect x="752.3" y="485.86" width="189.00" height="21.8" fill="#151515"/>
<rect x="754.25" y="487.86" width="16.80" height="17.80" fill="#ffffff"/>
<rect x="772.95" y="487.86" width="16.80" height="17.80" fill="#ffffff"/>
<rect x="791.65" y="487.86" width="16.80" height="17.80" fill="#a3a3a3"/>
<rect x="810.35" y="487.86" width="16.80" height="17.80" fill="#ffffff"/>
<rect x="829.05" y="487.86" width="16.80" height="17.80" fill="#ffffff"/>
<rect x="847.75" y="487.86" width="16.80" height="17.80" fill="#ffffff"/>
<rect x="866.45" y="487.86" width="16.80" height="17.80" fill="#ffffff"/>
<rect x="903.85" y="487.86" width="16.80" height="17.80" fill="#ffffff"/>
<rect x="922.55" y="487.86" width="16.80" height="17.80" fill="#ffffff"/>
<text transform="translate(750.5,528.90) scale(1,1.08)" text-anchor="end" font-size="10.4" font-weight="bold" font-style="italic" fill="#1e1e1e" stroke="#1e1e1e" stroke-width="0.25">PMP22, HS3ST3B1, CDRT7</text>
<rect x="752.3" y="512.70" width="189.00" height="21.8" fill="#151515"/>
<rect x="754.25" y="514.70" width="16.80" height="17.80" fill="#ffffff"/>
<rect x="772.95" y="514.70" width="16.80" height="17.80" fill="#ffffff"/>
<rect x="810.35" y="514.70" width="16.80" height="17.80" fill="#a3a3a3"/>
<rect x="829.05" y="514.70" width="16.80" height="17.80" fill="#ffffff"/>
<rect x="847.75" y="514.70" width="16.80" height="17.80" fill="#ffffff"/>
<rect x="866.45" y="514.70" width="16.80" height="17.80" fill="#ffffff"/>
<rect x="885.15" y="514.70" width="16.80" height="17.80" fill="#ffffff"/>
<rect x="903.85" y="514.70" width="16.80" height="17.80" fill="#ffffff"/>
<rect x="922.55" y="514.70" width="16.80" height="17.80" fill="#ffffff"/>
<text transform="translate(750.5,555.74) scale(1,1.08)" text-anchor="end" font-size="10.4" font-weight="bold" font-style="italic" fill="#1e1e1e" stroke="#1e1e1e" stroke-width="0.25">TCF4, CCDC68, TXNL1</text>
<rect x="752.3" y="539.54" width="189.00" height="21.8" fill="#151515"/>
<rect x="754.25" y="541.54" width="16.80" height="17.80" fill="#ffffff"/>
<rect x="772.95" y="541.54" width="16.80" height="17.80" fill="#ffffff"/>
<rect x="791.65" y="541.54" width="16.80" height="17.80" fill="#ffffff"/>
<rect x="810.35" y="541.54" width="16.80" height="17.80" fill="#ffffff"/>
<rect x="866.45" y="541.54" width="16.80" height="17.80" fill="#ffffff"/>
<rect x="885.15" y="541.54" width="16.80" height="17.80" fill="#ffffff"/>
<rect x="903.85" y="541.54" width="16.80" height="17.80" fill="#ffffff"/>
<rect x="922.55" y="541.54" width="16.80" height="17.80" fill="#ffffff"/>
<text transform="translate(750.5,582.58) scale(1,1.08)" text-anchor="end" font-size="10.4" font-weight="bold" font-style="italic" fill="#1e1e1e" stroke="#1e1e1e" stroke-width="0.25">SALL3</text>
<rect x="752.3" y="566.38" width="189.00" height="21.8" fill="#151515"/>
<rect x="754.25" y="568.38" width="16.80" height="17.80" fill="#ffffff"/>
<rect x="791.65" y="568.38" width="16.80" height="17.80" fill="#ffffff"/>
<rect x="810.35" y="568.38" width="16.80" height="17.80" fill="#a3a3a3"/>
<rect x="866.45" y="568.38" width="16.80" height="17.80" fill="#ffffff"/>
<rect x="885.15" y="568.38" width="16.80" height="17.80" fill="#ffffff"/>
<rect x="922.55" y="568.38" width="16.80" height="17.80" fill="#ffffff"/>
<text transform="translate(761.65,103.9) scale(0.9,1)" text-anchor="middle" font-size="10.9" font-weight="bold" fill="#b65a3a" stroke="#b65a3a" stroke-width="0.25">D1R</text>
<text transform="translate(780.35,103.9) scale(0.9,1)" text-anchor="middle" font-size="10.9" font-weight="bold" fill="#b65a3a" stroke="#b65a3a" stroke-width="0.25">D2R</text>
<text transform="translate(799.05,103.9) scale(0.9,1)" text-anchor="middle" font-size="10.9" font-weight="bold" fill="#b65a3a" stroke="#b65a3a" stroke-width="0.25">D3R</text>
<text transform="translate(817.75,103.9) scale(0.9,1)" text-anchor="middle" font-size="10.9" font-weight="bold" fill="#b65a3a" stroke="#b65a3a" stroke-width="0.25">D4R</text>
<text transform="translate(836.45,103.9) scale(0.9,1)" text-anchor="middle" font-size="10.9" font-weight="bold" fill="#b65a3a" stroke="#b65a3a" stroke-width="0.25">D5R</text>
<text transform="translate(855.15,103.9) scale(0.9,1)" text-anchor="middle" font-size="10.9" font-weight="bold" fill="#b65a3a" stroke="#b65a3a" stroke-width="0.25">D5L</text>
<text transform="translate(873.85,103.9) scale(0.9,1)" text-anchor="middle" font-size="10.9" font-weight="bold" fill="#b65a3a" stroke="#b65a3a" stroke-width="0.25">D4L</text>
<text transform="translate(892.55,103.9) scale(0.9,1)" text-anchor="middle" font-size="10.9" font-weight="bold" fill="#b65a3a" stroke="#b65a3a" stroke-width="0.25">D3L</text>
<text transform="translate(911.25,103.9) scale(0.9,1)" text-anchor="middle" font-size="10.9" font-weight="bold" fill="#b65a3a" stroke="#b65a3a" stroke-width="0.25">D2L</text>
<text transform="translate(929.95,103.9) scale(0.9,1)" text-anchor="middle" font-size="10.9" font-weight="bold" fill="#b65a3a" stroke="#b65a3a" stroke-width="0.25">D1L</text>
<g >
<path d="M782.75 3.85 C783.54 6.16 786.29 7.86 785.37 11.56 C784.45 15.25 783.00 12.71 779.67 16.18 C776.34 19.65 777.74 18.72 774.28 23.11 C770.81 27.50 772.27 26.19 768.11 30.82 C763.95 35.44 764.80 34.59 760.41 38.52 C756.02 42.45 756.02 41.60 753.47 43.91 C750.93 46.22 751.70 44.84 751.93 46.22 C752.16 47.61 751.93 47.70 754.24 48.54 C756.56 49.37 757.10 49.46 759.64 49.00 C762.18 48.54 759.71 48.75 762.72 47.00 C765.72 45.24 765.26 45.92 769.65 43.14 C774.04 40.37 773.89 39.83 777.36 37.75 C780.82 35.67 779.59 36.21 781.21 36.21 C782.83 36.21 782.52 34.75 782.75 37.75 C782.98 40.76 782.44 41.83 781.98 46.22 C781.52 50.62 782.37 47.77 781.21 52.39 C780.05 57.01 779.98 56.09 778.13 61.63 C776.28 67.18 776.66 65.79 775.05 70.88 C773.43 75.96 772.50 75.12 772.73 78.58 C772.97 82.05 773.74 81.97 775.82 82.43 C777.90 82.90 777.82 83.13 779.67 80.12 C781.52 77.12 780.13 77.50 781.98 72.42 C783.83 67.33 783.06 68.49 785.83 63.17 C788.61 57.86 788.68 57.70 791.22 54.70 C793.77 51.69 793.15 52.70 794.31 53.16 C795.46 53.62 794.85 51.39 795.08 56.24 C795.31 61.09 794.85 60.55 795.08 69.34 C795.31 78.12 794.46 79.51 795.85 85.52 C797.23 91.53 797.39 89.14 799.70 89.37 C802.01 89.60 802.16 91.83 803.55 86.29 C804.94 80.74 804.09 79.66 804.32 70.88 C804.55 62.10 804.00 62.28 804.32 57.01 C804.65 51.74 804.34 54.01 805.40 53.31 C806.46 52.62 806.11 49.89 807.87 54.70 C809.62 59.51 809.55 61.71 811.26 69.34 C812.97 76.96 811.95 75.50 813.57 80.12 C815.18 84.75 814.57 84.28 816.65 84.75 C818.73 85.21 819.58 85.36 820.50 81.66 C821.43 77.97 820.65 79.35 819.73 72.42 C818.81 65.49 818.48 64.65 817.42 58.55 C816.36 52.45 815.96 54.95 816.19 52.08 C816.42 49.21 815.51 46.59 818.19 49.00 C820.87 51.40 821.66 54.45 825.12 60.09 C828.59 65.73 827.43 64.79 829.75 67.80 C832.06 70.80 830.98 70.57 832.83 70.11 C834.68 69.65 835.91 69.26 835.91 66.26 C835.91 63.25 836.06 65.64 832.83 60.09 C829.59 54.55 828.13 52.16 825.12 47.77 C822.12 43.37 823.97 49.15 822.81 45.45 C821.66 41.76 822.43 42.14 821.27 35.44 C820.12 28.74 820.35 30.05 818.96 23.11 C817.57 16.18 817.80 18.10 816.65 12.33 C815.49 6.55 815.57 6.39 815.11 3.85" fill="none" stroke="#151515" stroke-width="1.4" stroke-linecap="round" stroke-linejoin="round"/>
<path d="M786.60 11.09 C790.53 11.00 791.84 10.88 799.70 10.79 C807.56 10.69 808.87 10.79 812.80 10.79M798.16 16.95 C798.62 19.26 799.93 19.11 799.70 24.65 C799.47 30.20 799.93 30.59 797.39 35.44 C794.85 40.29 793.07 39.21 791.22 40.83M786.60 40.83 C789.84 40.14 790.45 40.37 797.39 38.52 C804.32 36.67 806.02 35.82 809.71 34.67M794.31 46.22 C798.00 45.30 799.70 45.22 806.63 43.14 C813.57 41.06 814.18 40.45 817.42 39.29" fill="none" stroke="#222" stroke-width="1.05" stroke-linecap="round"/>
<path d="M784.29 53.93L789.68 53.16M796.62 53.16L802.78 53.16M808.17 53.16L812.80 53.93M818.96 48.54L822.81 46.22M781.98 60.09L785.37 59.32M779.67 67.80L783.06 67.03M796.16 63.17L800.78 63.17M796.62 72.42L800.47 72.88M810.49 64.71L814.34 63.94M812.80 72.42L815.88 71.65M822.81 53.93L825.43 52.85M826.66 58.55L828.98 57.78M795.85 5.39L797.39 8.47M805.40 5.39L806.63 8.47" fill="none" stroke="#333" stroke-width="1.0" stroke-linecap="round"/>
<circle cx="756.6" cy="46.0" r="3.0" fill="#c4532e"/>
<circle cx="776.3" cy="80.3" r="3.0" fill="#c4532e"/>
<circle cx="799.2" cy="87.0" r="3.1" fill="#c4532e"/>
<circle cx="816.6" cy="83.0" r="3.0" fill="#c4532e"/>
<circle cx="832.6" cy="67.8" r="3.0" fill="#c4532e"/>
</g>
<g transform="translate(1692.6,0) scale(-1,1)">
<path d="M782.75 3.85 C783.54 6.16 786.29 7.86 785.37 11.56 C784.45 15.25 783.00 12.71 779.67 16.18 C776.34 19.65 777.74 18.72 774.28 23.11 C770.81 27.50 772.27 26.19 768.11 30.82 C763.95 35.44 764.80 34.59 760.41 38.52 C756.02 42.45 756.02 41.60 753.47 43.91 C750.93 46.22 751.70 44.84 751.93 46.22 C752.16 47.61 751.93 47.70 754.24 48.54 C756.56 49.37 757.10 49.46 759.64 49.00 C762.18 48.54 759.71 48.75 762.72 47.00 C765.72 45.24 765.26 45.92 769.65 43.14 C774.04 40.37 773.89 39.83 777.36 37.75 C780.82 35.67 779.59 36.21 781.21 36.21 C782.83 36.21 782.52 34.75 782.75 37.75 C782.98 40.76 782.44 41.83 781.98 46.22 C781.52 50.62 782.37 47.77 781.21 52.39 C780.05 57.01 779.98 56.09 778.13 61.63 C776.28 67.18 776.66 65.79 775.05 70.88 C773.43 75.96 772.50 75.12 772.73 78.58 C772.97 82.05 773.74 81.97 775.82 82.43 C777.90 82.90 777.82 83.13 779.67 80.12 C781.52 77.12 780.13 77.50 781.98 72.42 C783.83 67.33 783.06 68.49 785.83 63.17 C788.61 57.86 788.68 57.70 791.22 54.70 C793.77 51.69 793.15 52.70 794.31 53.16 C795.46 53.62 794.85 51.39 795.08 56.24 C795.31 61.09 794.85 60.55 795.08 69.34 C795.31 78.12 794.46 79.51 795.85 85.52 C797.23 91.53 797.39 89.14 799.70 89.37 C802.01 89.60 802.16 91.83 803.55 86.29 C804.94 80.74 804.09 79.66 804.32 70.88 C804.55 62.10 804.00 62.28 804.32 57.01 C804.65 51.74 804.34 54.01 805.40 53.31 C806.46 52.62 806.11 49.89 807.87 54.70 C809.62 59.51 809.55 61.71 811.26 69.34 C812.97 76.96 811.95 75.50 813.57 80.12 C815.18 84.75 814.57 84.28 816.65 84.75 C818.73 85.21 819.58 85.36 820.50 81.66 C821.43 77.97 820.65 79.35 819.73 72.42 C818.81 65.49 818.48 64.65 817.42 58.55 C816.36 52.45 815.96 54.95 816.19 52.08 C816.42 49.21 815.51 46.59 818.19 49.00 C820.87 51.40 821.66 54.45 825.12 60.09 C828.59 65.73 827.43 64.79 829.75 67.80 C832.06 70.80 830.98 70.57 832.83 70.11 C834.68 69.65 835.91 69.26 835.91 66.26 C835.91 63.25 836.06 65.64 832.83 60.09 C829.59 54.55 828.13 52.16 825.12 47.77 C822.12 43.37 823.97 49.15 822.81 45.45 C821.66 41.76 822.43 42.14 821.27 35.44 C820.12 28.74 820.35 30.05 818.96 23.11 C817.57 16.18 817.80 18.10 816.65 12.33 C815.49 6.55 815.57 6.39 815.11 3.85" fill="none" stroke="#151515" stroke-width="1.4" stroke-linecap="round" stroke-linejoin="round"/>
<path d="M786.60 11.09 C790.53 11.00 791.84 10.88 799.70 10.79 C807.56 10.69 808.87 10.79 812.80 10.79M798.16 16.95 C798.62 19.26 799.93 19.11 799.70 24.65 C799.47 30.20 799.93 30.59 797.39 35.44 C794.85 40.29 793.07 39.21 791.22 40.83M786.60 40.83 C789.84 40.14 790.45 40.37 797.39 38.52 C804.32 36.67 806.02 35.82 809.71 34.67M794.31 46.22 C798.00 45.30 799.70 45.22 806.63 43.14 C813.57 41.06 814.18 40.45 817.42 39.29" fill="none" stroke="#222" stroke-width="1.05" stroke-linecap="round"/>
<path d="M784.29 53.93L789.68 53.16M796.62 53.16L802.78 53.16M808.17 53.16L812.80 53.93M818.96 48.54L822.81 46.22M781.98 60.09L785.37 59.32M779.67 67.80L783.06 67.03M796.16 63.17L800.78 63.17M796.62 72.42L800.47 72.88M810.49 64.71L814.34 63.94M812.80 72.42L815.88 71.65M822.81 53.93L825.43 52.85M826.66 58.55L828.98 57.78M795.85 5.39L797.39 8.47M805.40 5.39L806.63 8.47" fill="none" stroke="#333" stroke-width="1.0" stroke-linecap="round"/>
<circle cx="756.6" cy="46.0" r="3.0" fill="#c4532e"/>
<circle cx="776.3" cy="80.3" r="3.0" fill="#c4532e"/>
<circle cx="799.2" cy="87.0" r="3.1" fill="#c4532e"/>
<circle cx="816.6" cy="83.0" r="3.0" fill="#c4532e"/>
<circle cx="832.6" cy="67.8" r="3.0" fill="#c4532e"/>
</g>
</svg>
</body></html>
